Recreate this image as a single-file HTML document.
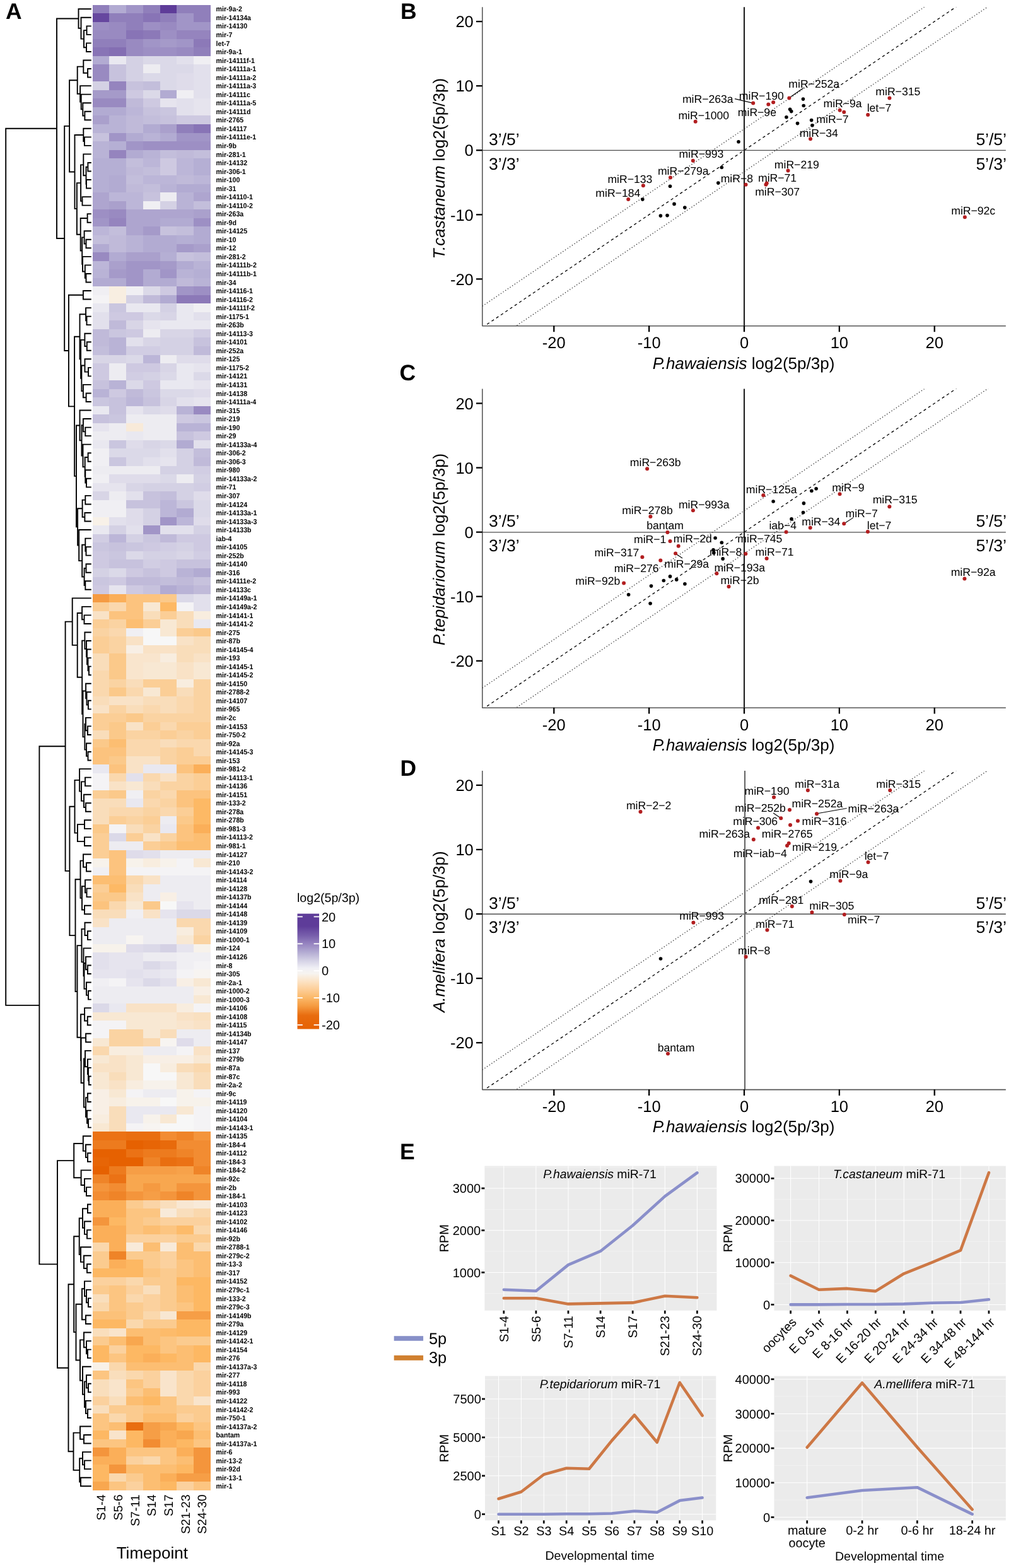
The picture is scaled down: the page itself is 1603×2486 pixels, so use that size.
<!DOCTYPE html>
<html><head><meta charset="utf-8"><title>Figure</title>
<style>html,body{margin:0;padding:0;background:#fff;} svg{display:block;}</style>
</head><body>
<svg width="1603" height="2486" viewBox="0 0 1603 2486" text-rendering="geometricPrecision">
<rect width="1603" height="2486" fill="#ffffff"/>
<g shape-rendering="crispEdges">
<rect x="146.80" y="7.50" width="26.99" height="13.84" fill="#907fbb"/>
<rect x="173.49" y="7.50" width="26.99" height="13.84" fill="#b2abd2"/>
<rect x="200.17" y="7.50" width="26.99" height="13.84" fill="#a195c7"/>
<rect x="226.86" y="7.50" width="26.99" height="13.84" fill="#907fbb"/>
<rect x="253.54" y="7.50" width="26.99" height="13.84" fill="#5e3c99"/>
<rect x="280.23" y="7.50" width="26.99" height="13.84" fill="#907fbb"/>
<rect x="306.91" y="7.50" width="26.99" height="13.84" fill="#907fbb"/>
<rect x="146.80" y="21.04" width="26.99" height="13.84" fill="#66479f"/>
<rect x="173.49" y="21.04" width="26.99" height="13.84" fill="#907fbb"/>
<rect x="200.17" y="21.04" width="26.99" height="13.84" fill="#907fbb"/>
<rect x="226.86" y="21.04" width="26.99" height="13.84" fill="#8874b6"/>
<rect x="253.54" y="21.04" width="26.99" height="13.84" fill="#907fbb"/>
<rect x="280.23" y="21.04" width="26.99" height="13.84" fill="#a195c7"/>
<rect x="306.91" y="21.04" width="26.99" height="13.84" fill="#907fbb"/>
<rect x="146.80" y="34.57" width="26.99" height="13.84" fill="#9d8fc4"/>
<rect x="173.49" y="34.57" width="26.99" height="13.84" fill="#998ac1"/>
<rect x="200.17" y="34.57" width="26.99" height="13.84" fill="#907fbb"/>
<rect x="226.86" y="34.57" width="26.99" height="13.84" fill="#9d8fc4"/>
<rect x="253.54" y="34.57" width="26.99" height="13.84" fill="#998ac1"/>
<rect x="280.23" y="34.57" width="26.99" height="13.84" fill="#a195c7"/>
<rect x="306.91" y="34.57" width="26.99" height="13.84" fill="#a195c7"/>
<rect x="146.80" y="48.11" width="26.99" height="13.84" fill="#998ac1"/>
<rect x="173.49" y="48.11" width="26.99" height="13.84" fill="#998ac1"/>
<rect x="200.17" y="48.11" width="26.99" height="13.84" fill="#8874b6"/>
<rect x="226.86" y="48.11" width="26.99" height="13.84" fill="#8c79b8"/>
<rect x="253.54" y="48.11" width="26.99" height="13.84" fill="#9d8fc4"/>
<rect x="280.23" y="48.11" width="26.99" height="13.84" fill="#9584be"/>
<rect x="306.91" y="48.11" width="26.99" height="13.84" fill="#9584be"/>
<rect x="146.80" y="61.65" width="26.99" height="13.84" fill="#907fbb"/>
<rect x="173.49" y="61.65" width="26.99" height="13.84" fill="#907fbb"/>
<rect x="200.17" y="61.65" width="26.99" height="13.84" fill="#998ac1"/>
<rect x="226.86" y="61.65" width="26.99" height="13.84" fill="#a195c7"/>
<rect x="253.54" y="61.65" width="26.99" height="13.84" fill="#a59ac9"/>
<rect x="280.23" y="61.65" width="26.99" height="13.84" fill="#a195c7"/>
<rect x="306.91" y="61.65" width="26.99" height="13.84" fill="#8c79b8"/>
<rect x="146.80" y="75.19" width="26.99" height="13.84" fill="#8874b6"/>
<rect x="173.49" y="75.19" width="26.99" height="13.84" fill="#846eb3"/>
<rect x="200.17" y="75.19" width="26.99" height="13.84" fill="#998ac1"/>
<rect x="226.86" y="75.19" width="26.99" height="13.84" fill="#9d8fc4"/>
<rect x="253.54" y="75.19" width="26.99" height="13.84" fill="#9d8fc4"/>
<rect x="280.23" y="75.19" width="26.99" height="13.84" fill="#998ac1"/>
<rect x="306.91" y="75.19" width="26.99" height="13.84" fill="#907fbb"/>
<rect x="146.80" y="88.72" width="26.99" height="13.84" fill="#b2abd2"/>
<rect x="173.49" y="88.72" width="26.99" height="13.84" fill="#e9e8f0"/>
<rect x="200.17" y="88.72" width="26.99" height="13.84" fill="#d4d1e4"/>
<rect x="226.86" y="88.72" width="26.99" height="13.84" fill="#dbd9e8"/>
<rect x="253.54" y="88.72" width="26.99" height="13.84" fill="#dbd9e8"/>
<rect x="280.23" y="88.72" width="26.99" height="13.84" fill="#e2e0ec"/>
<rect x="306.91" y="88.72" width="26.99" height="13.84" fill="#f0eff3"/>
<rect x="146.80" y="102.26" width="26.99" height="13.84" fill="#998ac1"/>
<rect x="173.49" y="102.26" width="26.99" height="13.84" fill="#c7c2dd"/>
<rect x="200.17" y="102.26" width="26.99" height="13.84" fill="#d4d1e4"/>
<rect x="226.86" y="102.26" width="26.99" height="13.84" fill="#edecf1"/>
<rect x="253.54" y="102.26" width="26.99" height="13.84" fill="#dbd9e8"/>
<rect x="280.23" y="102.26" width="26.99" height="13.84" fill="#dbd9e8"/>
<rect x="306.91" y="102.26" width="26.99" height="13.84" fill="#e2e0ec"/>
<rect x="146.80" y="115.80" width="26.99" height="13.84" fill="#998ac1"/>
<rect x="173.49" y="115.80" width="26.99" height="13.84" fill="#c7c2dd"/>
<rect x="200.17" y="115.80" width="26.99" height="13.84" fill="#d4d1e4"/>
<rect x="226.86" y="115.80" width="26.99" height="13.84" fill="#dbd9e8"/>
<rect x="253.54" y="115.80" width="26.99" height="13.84" fill="#dbd9e8"/>
<rect x="280.23" y="115.80" width="26.99" height="13.84" fill="#dfdcea"/>
<rect x="306.91" y="115.80" width="26.99" height="13.84" fill="#e2e0ec"/>
<rect x="146.80" y="129.34" width="26.99" height="13.84" fill="#d4d1e4"/>
<rect x="173.49" y="129.34" width="26.99" height="13.84" fill="#9584be"/>
<rect x="200.17" y="129.34" width="26.99" height="13.84" fill="#c7c2dd"/>
<rect x="226.86" y="129.34" width="26.99" height="13.84" fill="#c3bedb"/>
<rect x="253.54" y="129.34" width="26.99" height="13.84" fill="#dbd9e8"/>
<rect x="280.23" y="129.34" width="26.99" height="13.84" fill="#dfdcea"/>
<rect x="306.91" y="129.34" width="26.99" height="13.84" fill="#e2e0ec"/>
<rect x="146.80" y="142.87" width="26.99" height="13.84" fill="#a59ac9"/>
<rect x="173.49" y="142.87" width="26.99" height="13.84" fill="#a59ac9"/>
<rect x="200.17" y="142.87" width="26.99" height="13.84" fill="#cec9e1"/>
<rect x="226.86" y="142.87" width="26.99" height="13.84" fill="#dbd9e8"/>
<rect x="253.54" y="142.87" width="26.99" height="13.84" fill="#b2abd2"/>
<rect x="280.23" y="142.87" width="26.99" height="13.84" fill="#f0eff3"/>
<rect x="306.91" y="142.87" width="26.99" height="13.84" fill="#e2e0ec"/>
<rect x="146.80" y="156.41" width="26.99" height="13.84" fill="#998ac1"/>
<rect x="173.49" y="156.41" width="26.99" height="13.84" fill="#998ac1"/>
<rect x="200.17" y="156.41" width="26.99" height="13.84" fill="#c0bad9"/>
<rect x="226.86" y="156.41" width="26.99" height="13.84" fill="#cec9e1"/>
<rect x="253.54" y="156.41" width="26.99" height="13.84" fill="#e6e4ee"/>
<rect x="280.23" y="156.41" width="26.99" height="13.84" fill="#e2e0ec"/>
<rect x="306.91" y="156.41" width="26.99" height="13.84" fill="#e6e4ee"/>
<rect x="146.80" y="169.95" width="26.99" height="13.84" fill="#b2abd2"/>
<rect x="173.49" y="169.95" width="26.99" height="13.84" fill="#b2abd2"/>
<rect x="200.17" y="169.95" width="26.99" height="13.84" fill="#bcb6d8"/>
<rect x="226.86" y="169.95" width="26.99" height="13.84" fill="#c7c2dd"/>
<rect x="253.54" y="169.95" width="26.99" height="13.84" fill="#cac6df"/>
<rect x="280.23" y="169.95" width="26.99" height="13.84" fill="#e2e0ec"/>
<rect x="306.91" y="169.95" width="26.99" height="13.84" fill="#e6e4ee"/>
<rect x="146.80" y="183.49" width="26.99" height="13.84" fill="#aaa0cc"/>
<rect x="173.49" y="183.49" width="26.99" height="13.84" fill="#b9b3d6"/>
<rect x="200.17" y="183.49" width="26.99" height="13.84" fill="#c0bad9"/>
<rect x="226.86" y="183.49" width="26.99" height="13.84" fill="#c3bedb"/>
<rect x="253.54" y="183.49" width="26.99" height="13.84" fill="#c7c2dd"/>
<rect x="280.23" y="183.49" width="26.99" height="13.84" fill="#cec9e1"/>
<rect x="306.91" y="183.49" width="26.99" height="13.84" fill="#cec9e1"/>
<rect x="146.80" y="197.02" width="26.99" height="13.84" fill="#b9b3d6"/>
<rect x="173.49" y="197.02" width="26.99" height="13.84" fill="#b9b3d6"/>
<rect x="200.17" y="197.02" width="26.99" height="13.84" fill="#c0bad9"/>
<rect x="226.86" y="197.02" width="26.99" height="13.84" fill="#b2abd2"/>
<rect x="253.54" y="197.02" width="26.99" height="13.84" fill="#aaa0cc"/>
<rect x="280.23" y="197.02" width="26.99" height="13.84" fill="#907fbb"/>
<rect x="306.91" y="197.02" width="26.99" height="13.84" fill="#8874b6"/>
<rect x="146.80" y="210.56" width="26.99" height="13.84" fill="#c7c2dd"/>
<rect x="173.49" y="210.56" width="26.99" height="13.84" fill="#a195c7"/>
<rect x="200.17" y="210.56" width="26.99" height="13.84" fill="#b2abd2"/>
<rect x="226.86" y="210.56" width="26.99" height="13.84" fill="#b9b3d6"/>
<rect x="253.54" y="210.56" width="26.99" height="13.84" fill="#b2abd2"/>
<rect x="280.23" y="210.56" width="26.99" height="13.84" fill="#a195c7"/>
<rect x="306.91" y="210.56" width="26.99" height="13.84" fill="#a195c7"/>
<rect x="146.80" y="224.10" width="26.99" height="13.84" fill="#b9b3d6"/>
<rect x="173.49" y="224.10" width="26.99" height="13.84" fill="#b5afd4"/>
<rect x="200.17" y="224.10" width="26.99" height="13.84" fill="#a195c7"/>
<rect x="226.86" y="224.10" width="26.99" height="13.84" fill="#9d8fc4"/>
<rect x="253.54" y="224.10" width="26.99" height="13.84" fill="#9d8fc4"/>
<rect x="280.23" y="224.10" width="26.99" height="13.84" fill="#9d8fc4"/>
<rect x="306.91" y="224.10" width="26.99" height="13.84" fill="#9d8fc4"/>
<rect x="146.80" y="237.64" width="26.99" height="13.84" fill="#b9b3d6"/>
<rect x="173.49" y="237.64" width="26.99" height="13.84" fill="#9584be"/>
<rect x="200.17" y="237.64" width="26.99" height="13.84" fill="#b2abd2"/>
<rect x="226.86" y="237.64" width="26.99" height="13.84" fill="#b9b3d6"/>
<rect x="253.54" y="237.64" width="26.99" height="13.84" fill="#c3bedb"/>
<rect x="280.23" y="237.64" width="26.99" height="13.84" fill="#c0bad9"/>
<rect x="306.91" y="237.64" width="26.99" height="13.84" fill="#c3bedb"/>
<rect x="146.80" y="251.17" width="26.99" height="13.84" fill="#b5afd4"/>
<rect x="173.49" y="251.17" width="26.99" height="13.84" fill="#b5afd4"/>
<rect x="200.17" y="251.17" width="26.99" height="13.84" fill="#c3bedb"/>
<rect x="226.86" y="251.17" width="26.99" height="13.84" fill="#bcb6d8"/>
<rect x="253.54" y="251.17" width="26.99" height="13.84" fill="#cec9e1"/>
<rect x="280.23" y="251.17" width="26.99" height="13.84" fill="#bcb6d8"/>
<rect x="306.91" y="251.17" width="26.99" height="13.84" fill="#b5afd4"/>
<rect x="146.80" y="264.71" width="26.99" height="13.84" fill="#b5afd4"/>
<rect x="173.49" y="264.71" width="26.99" height="13.84" fill="#b5afd4"/>
<rect x="200.17" y="264.71" width="26.99" height="13.84" fill="#c0bad9"/>
<rect x="226.86" y="264.71" width="26.99" height="13.84" fill="#c3bedb"/>
<rect x="253.54" y="264.71" width="26.99" height="13.84" fill="#cec9e1"/>
<rect x="280.23" y="264.71" width="26.99" height="13.84" fill="#bcb6d8"/>
<rect x="306.91" y="264.71" width="26.99" height="13.84" fill="#b5afd4"/>
<rect x="146.80" y="278.25" width="26.99" height="13.84" fill="#b5afd4"/>
<rect x="173.49" y="278.25" width="26.99" height="13.84" fill="#b2abd2"/>
<rect x="200.17" y="278.25" width="26.99" height="13.84" fill="#c3bedb"/>
<rect x="226.86" y="278.25" width="26.99" height="13.84" fill="#bcb6d8"/>
<rect x="253.54" y="278.25" width="26.99" height="13.84" fill="#bcb6d8"/>
<rect x="280.23" y="278.25" width="26.99" height="13.84" fill="#c0bad9"/>
<rect x="306.91" y="278.25" width="26.99" height="13.84" fill="#bcb6d8"/>
<rect x="146.80" y="291.78" width="26.99" height="13.84" fill="#b5afd4"/>
<rect x="173.49" y="291.78" width="26.99" height="13.84" fill="#b2abd2"/>
<rect x="200.17" y="291.78" width="26.99" height="13.84" fill="#c0bad9"/>
<rect x="226.86" y="291.78" width="26.99" height="13.84" fill="#c3bedb"/>
<rect x="253.54" y="291.78" width="26.99" height="13.84" fill="#b9b3d6"/>
<rect x="280.23" y="291.78" width="26.99" height="13.84" fill="#b2abd2"/>
<rect x="306.91" y="291.78" width="26.99" height="13.84" fill="#b2abd2"/>
<rect x="146.80" y="305.32" width="26.99" height="13.84" fill="#aea5cf"/>
<rect x="173.49" y="305.32" width="26.99" height="13.84" fill="#bcb6d8"/>
<rect x="200.17" y="305.32" width="26.99" height="13.84" fill="#bcb6d8"/>
<rect x="226.86" y="305.32" width="26.99" height="13.84" fill="#c7c2dd"/>
<rect x="253.54" y="305.32" width="26.99" height="13.84" fill="#edecf1"/>
<rect x="280.23" y="305.32" width="26.99" height="13.84" fill="#b9b3d6"/>
<rect x="306.91" y="305.32" width="26.99" height="13.84" fill="#aea5cf"/>
<rect x="146.80" y="318.86" width="26.99" height="13.84" fill="#aea5cf"/>
<rect x="173.49" y="318.86" width="26.99" height="13.84" fill="#aaa0cc"/>
<rect x="200.17" y="318.86" width="26.99" height="13.84" fill="#bcb6d8"/>
<rect x="226.86" y="318.86" width="26.99" height="13.84" fill="#f0eff3"/>
<rect x="253.54" y="318.86" width="26.99" height="13.84" fill="#d4d1e4"/>
<rect x="280.23" y="318.86" width="26.99" height="13.84" fill="#b9b3d6"/>
<rect x="306.91" y="318.86" width="26.99" height="13.84" fill="#c3bedb"/>
<rect x="146.80" y="332.40" width="26.99" height="13.84" fill="#9d8fc4"/>
<rect x="173.49" y="332.40" width="26.99" height="13.84" fill="#998ac1"/>
<rect x="200.17" y="332.40" width="26.99" height="13.84" fill="#aea5cf"/>
<rect x="226.86" y="332.40" width="26.99" height="13.84" fill="#aea5cf"/>
<rect x="253.54" y="332.40" width="26.99" height="13.84" fill="#aea5cf"/>
<rect x="280.23" y="332.40" width="26.99" height="13.84" fill="#aea5cf"/>
<rect x="306.91" y="332.40" width="26.99" height="13.84" fill="#aaa0cc"/>
<rect x="146.80" y="345.93" width="26.99" height="13.84" fill="#a195c7"/>
<rect x="173.49" y="345.93" width="26.99" height="13.84" fill="#9584be"/>
<rect x="200.17" y="345.93" width="26.99" height="13.84" fill="#aea5cf"/>
<rect x="226.86" y="345.93" width="26.99" height="13.84" fill="#aea5cf"/>
<rect x="253.54" y="345.93" width="26.99" height="13.84" fill="#b2abd2"/>
<rect x="280.23" y="345.93" width="26.99" height="13.84" fill="#b2abd2"/>
<rect x="306.91" y="345.93" width="26.99" height="13.84" fill="#9d8fc4"/>
<rect x="146.80" y="359.47" width="26.99" height="13.84" fill="#bcb6d8"/>
<rect x="173.49" y="359.47" width="26.99" height="13.84" fill="#c3bedb"/>
<rect x="200.17" y="359.47" width="26.99" height="13.84" fill="#aea5cf"/>
<rect x="226.86" y="359.47" width="26.99" height="13.84" fill="#a59ac9"/>
<rect x="253.54" y="359.47" width="26.99" height="13.84" fill="#c7c2dd"/>
<rect x="280.23" y="359.47" width="26.99" height="13.84" fill="#c3bedb"/>
<rect x="306.91" y="359.47" width="26.99" height="13.84" fill="#b2abd2"/>
<rect x="146.80" y="373.01" width="26.99" height="13.84" fill="#c3bedb"/>
<rect x="173.49" y="373.01" width="26.99" height="13.84" fill="#c0bad9"/>
<rect x="200.17" y="373.01" width="26.99" height="13.84" fill="#b9b3d6"/>
<rect x="226.86" y="373.01" width="26.99" height="13.84" fill="#b2abd2"/>
<rect x="253.54" y="373.01" width="26.99" height="13.84" fill="#b2abd2"/>
<rect x="280.23" y="373.01" width="26.99" height="13.84" fill="#b5afd4"/>
<rect x="306.91" y="373.01" width="26.99" height="13.84" fill="#b2abd2"/>
<rect x="146.80" y="386.55" width="26.99" height="13.84" fill="#b2abd2"/>
<rect x="173.49" y="386.55" width="26.99" height="13.84" fill="#c0bad9"/>
<rect x="200.17" y="386.55" width="26.99" height="13.84" fill="#b9b3d6"/>
<rect x="226.86" y="386.55" width="26.99" height="13.84" fill="#b2abd2"/>
<rect x="253.54" y="386.55" width="26.99" height="13.84" fill="#b2abd2"/>
<rect x="280.23" y="386.55" width="26.99" height="13.84" fill="#a59ac9"/>
<rect x="306.91" y="386.55" width="26.99" height="13.84" fill="#aaa0cc"/>
<rect x="146.80" y="400.08" width="26.99" height="13.84" fill="#998ac1"/>
<rect x="173.49" y="400.08" width="26.99" height="13.84" fill="#b2abd2"/>
<rect x="200.17" y="400.08" width="26.99" height="13.84" fill="#aaa0cc"/>
<rect x="226.86" y="400.08" width="26.99" height="13.84" fill="#aaa0cc"/>
<rect x="253.54" y="400.08" width="26.99" height="13.84" fill="#b5afd4"/>
<rect x="280.23" y="400.08" width="26.99" height="13.84" fill="#c7c2dd"/>
<rect x="306.91" y="400.08" width="26.99" height="13.84" fill="#c3bedb"/>
<rect x="146.80" y="413.62" width="26.99" height="13.84" fill="#bcb6d8"/>
<rect x="173.49" y="413.62" width="26.99" height="13.84" fill="#aaa0cc"/>
<rect x="200.17" y="413.62" width="26.99" height="13.84" fill="#a195c7"/>
<rect x="226.86" y="413.62" width="26.99" height="13.84" fill="#a195c7"/>
<rect x="253.54" y="413.62" width="26.99" height="13.84" fill="#a59ac9"/>
<rect x="280.23" y="413.62" width="26.99" height="13.84" fill="#b2abd2"/>
<rect x="306.91" y="413.62" width="26.99" height="13.84" fill="#b9b3d6"/>
<rect x="146.80" y="427.16" width="26.99" height="13.84" fill="#b9b3d6"/>
<rect x="173.49" y="427.16" width="26.99" height="13.84" fill="#a59ac9"/>
<rect x="200.17" y="427.16" width="26.99" height="13.84" fill="#a195c7"/>
<rect x="226.86" y="427.16" width="26.99" height="13.84" fill="#b2abd2"/>
<rect x="253.54" y="427.16" width="26.99" height="13.84" fill="#a195c7"/>
<rect x="280.23" y="427.16" width="26.99" height="13.84" fill="#b9b3d6"/>
<rect x="306.91" y="427.16" width="26.99" height="13.84" fill="#b5afd4"/>
<rect x="146.80" y="440.70" width="26.99" height="13.84" fill="#b2abd2"/>
<rect x="173.49" y="440.70" width="26.99" height="13.84" fill="#b2abd2"/>
<rect x="200.17" y="440.70" width="26.99" height="13.84" fill="#a195c7"/>
<rect x="226.86" y="440.70" width="26.99" height="13.84" fill="#b2abd2"/>
<rect x="253.54" y="440.70" width="26.99" height="13.84" fill="#b2abd2"/>
<rect x="280.23" y="440.70" width="26.99" height="13.84" fill="#c0bad9"/>
<rect x="306.91" y="440.70" width="26.99" height="13.84" fill="#b9b3d6"/>
<rect x="146.80" y="454.23" width="26.99" height="13.84" fill="#f0eff3"/>
<rect x="173.49" y="454.23" width="26.99" height="13.84" fill="#f8eee1"/>
<rect x="200.17" y="454.23" width="26.99" height="13.84" fill="#f0eff3"/>
<rect x="226.86" y="454.23" width="26.99" height="13.84" fill="#dbd9e8"/>
<rect x="253.54" y="454.23" width="26.99" height="13.84" fill="#cec9e1"/>
<rect x="280.23" y="454.23" width="26.99" height="13.84" fill="#a195c7"/>
<rect x="306.91" y="454.23" width="26.99" height="13.84" fill="#9d8fc4"/>
<rect x="146.80" y="467.77" width="26.99" height="13.84" fill="#f4f3f5"/>
<rect x="173.49" y="467.77" width="26.99" height="13.84" fill="#f8eee1"/>
<rect x="200.17" y="467.77" width="26.99" height="13.84" fill="#d4d1e4"/>
<rect x="226.86" y="467.77" width="26.99" height="13.84" fill="#c0bad9"/>
<rect x="253.54" y="467.77" width="26.99" height="13.84" fill="#b2abd2"/>
<rect x="280.23" y="467.77" width="26.99" height="13.84" fill="#8c79b8"/>
<rect x="306.91" y="467.77" width="26.99" height="13.84" fill="#8c79b8"/>
<rect x="146.80" y="481.31" width="26.99" height="13.84" fill="#e9e8f0"/>
<rect x="173.49" y="481.31" width="26.99" height="13.84" fill="#cac6df"/>
<rect x="200.17" y="481.31" width="26.99" height="13.84" fill="#e9e8f0"/>
<rect x="226.86" y="481.31" width="26.99" height="13.84" fill="#e9e8f0"/>
<rect x="253.54" y="481.31" width="26.99" height="13.84" fill="#d4d1e4"/>
<rect x="280.23" y="481.31" width="26.99" height="13.84" fill="#e9e8f0"/>
<rect x="306.91" y="481.31" width="26.99" height="13.84" fill="#f0eff3"/>
<rect x="146.80" y="494.84" width="26.99" height="13.84" fill="#e2e0ec"/>
<rect x="173.49" y="494.84" width="26.99" height="13.84" fill="#cec9e1"/>
<rect x="200.17" y="494.84" width="26.99" height="13.84" fill="#cec9e1"/>
<rect x="226.86" y="494.84" width="26.99" height="13.84" fill="#dbd9e8"/>
<rect x="253.54" y="494.84" width="26.99" height="13.84" fill="#d8d5e6"/>
<rect x="280.23" y="494.84" width="26.99" height="13.84" fill="#e9e8f0"/>
<rect x="306.91" y="494.84" width="26.99" height="13.84" fill="#e2e0ec"/>
<rect x="146.80" y="508.38" width="26.99" height="13.84" fill="#e2e0ec"/>
<rect x="173.49" y="508.38" width="26.99" height="13.84" fill="#c0bad9"/>
<rect x="200.17" y="508.38" width="26.99" height="13.84" fill="#d8d5e6"/>
<rect x="226.86" y="508.38" width="26.99" height="13.84" fill="#e6e4ee"/>
<rect x="253.54" y="508.38" width="26.99" height="13.84" fill="#e9e8f0"/>
<rect x="280.23" y="508.38" width="26.99" height="13.84" fill="#e9e8f0"/>
<rect x="306.91" y="508.38" width="26.99" height="13.84" fill="#e9e8f0"/>
<rect x="146.80" y="521.92" width="26.99" height="13.84" fill="#c0bad9"/>
<rect x="173.49" y="521.92" width="26.99" height="13.84" fill="#cac6df"/>
<rect x="200.17" y="521.92" width="26.99" height="13.84" fill="#cec9e1"/>
<rect x="226.86" y="521.92" width="26.99" height="13.84" fill="#edecf1"/>
<rect x="253.54" y="521.92" width="26.99" height="13.84" fill="#d8d5e6"/>
<rect x="280.23" y="521.92" width="26.99" height="13.84" fill="#d8d5e6"/>
<rect x="306.91" y="521.92" width="26.99" height="13.84" fill="#d1cde3"/>
<rect x="146.80" y="535.46" width="26.99" height="13.84" fill="#c0bad9"/>
<rect x="173.49" y="535.46" width="26.99" height="13.84" fill="#b9b3d6"/>
<rect x="200.17" y="535.46" width="26.99" height="13.84" fill="#e2e0ec"/>
<rect x="226.86" y="535.46" width="26.99" height="13.84" fill="#d8d5e6"/>
<rect x="253.54" y="535.46" width="26.99" height="13.84" fill="#d4d1e4"/>
<rect x="280.23" y="535.46" width="26.99" height="13.84" fill="#d4d1e4"/>
<rect x="306.91" y="535.46" width="26.99" height="13.84" fill="#c7c2dd"/>
<rect x="146.80" y="548.99" width="26.99" height="13.84" fill="#c3bedb"/>
<rect x="173.49" y="548.99" width="26.99" height="13.84" fill="#b9b3d6"/>
<rect x="200.17" y="548.99" width="26.99" height="13.84" fill="#d1cde3"/>
<rect x="226.86" y="548.99" width="26.99" height="13.84" fill="#d1cde3"/>
<rect x="253.54" y="548.99" width="26.99" height="13.84" fill="#d4d1e4"/>
<rect x="280.23" y="548.99" width="26.99" height="13.84" fill="#d4d1e4"/>
<rect x="306.91" y="548.99" width="26.99" height="13.84" fill="#c0bad9"/>
<rect x="146.80" y="562.53" width="26.99" height="13.84" fill="#d8d5e6"/>
<rect x="173.49" y="562.53" width="26.99" height="13.84" fill="#d8d5e6"/>
<rect x="200.17" y="562.53" width="26.99" height="13.84" fill="#dbd9e8"/>
<rect x="226.86" y="562.53" width="26.99" height="13.84" fill="#bcb6d8"/>
<rect x="253.54" y="562.53" width="26.99" height="13.84" fill="#edecf1"/>
<rect x="280.23" y="562.53" width="26.99" height="13.84" fill="#dfdcea"/>
<rect x="306.91" y="562.53" width="26.99" height="13.84" fill="#dfdcea"/>
<rect x="146.80" y="576.07" width="26.99" height="13.84" fill="#cec9e1"/>
<rect x="173.49" y="576.07" width="26.99" height="13.84" fill="#edecf1"/>
<rect x="200.17" y="576.07" width="26.99" height="13.84" fill="#cec9e1"/>
<rect x="226.86" y="576.07" width="26.99" height="13.84" fill="#cec9e1"/>
<rect x="253.54" y="576.07" width="26.99" height="13.84" fill="#d8d5e6"/>
<rect x="280.23" y="576.07" width="26.99" height="13.84" fill="#e9e8f0"/>
<rect x="306.91" y="576.07" width="26.99" height="13.84" fill="#e6e4ee"/>
<rect x="146.80" y="589.61" width="26.99" height="13.84" fill="#cec9e1"/>
<rect x="173.49" y="589.61" width="26.99" height="13.84" fill="#edecf1"/>
<rect x="200.17" y="589.61" width="26.99" height="13.84" fill="#d1cde3"/>
<rect x="226.86" y="589.61" width="26.99" height="13.84" fill="#d4d1e4"/>
<rect x="253.54" y="589.61" width="26.99" height="13.84" fill="#dbd9e8"/>
<rect x="280.23" y="589.61" width="26.99" height="13.84" fill="#e9e8f0"/>
<rect x="306.91" y="589.61" width="26.99" height="13.84" fill="#dbd9e8"/>
<rect x="146.80" y="603.14" width="26.99" height="13.84" fill="#c7c2dd"/>
<rect x="173.49" y="603.14" width="26.99" height="13.84" fill="#b9b3d6"/>
<rect x="200.17" y="603.14" width="26.99" height="13.84" fill="#dbd9e8"/>
<rect x="226.86" y="603.14" width="26.99" height="13.84" fill="#cec9e1"/>
<rect x="253.54" y="603.14" width="26.99" height="13.84" fill="#e9e8f0"/>
<rect x="280.23" y="603.14" width="26.99" height="13.84" fill="#e9e8f0"/>
<rect x="306.91" y="603.14" width="26.99" height="13.84" fill="#e6e4ee"/>
<rect x="146.80" y="616.68" width="26.99" height="13.84" fill="#b9b3d6"/>
<rect x="173.49" y="616.68" width="26.99" height="13.84" fill="#cec9e1"/>
<rect x="200.17" y="616.68" width="26.99" height="13.84" fill="#c0bad9"/>
<rect x="226.86" y="616.68" width="26.99" height="13.84" fill="#cac6df"/>
<rect x="253.54" y="616.68" width="26.99" height="13.84" fill="#dbd9e8"/>
<rect x="280.23" y="616.68" width="26.99" height="13.84" fill="#dbd9e8"/>
<rect x="306.91" y="616.68" width="26.99" height="13.84" fill="#dfdcea"/>
<rect x="146.80" y="630.22" width="26.99" height="13.84" fill="#cac6df"/>
<rect x="173.49" y="630.22" width="26.99" height="13.84" fill="#c7c2dd"/>
<rect x="200.17" y="630.22" width="26.99" height="13.84" fill="#bcb6d8"/>
<rect x="226.86" y="630.22" width="26.99" height="13.84" fill="#c7c2dd"/>
<rect x="253.54" y="630.22" width="26.99" height="13.84" fill="#d8d5e6"/>
<rect x="280.23" y="630.22" width="26.99" height="13.84" fill="#e2e0ec"/>
<rect x="306.91" y="630.22" width="26.99" height="13.84" fill="#e6e4ee"/>
<rect x="146.80" y="643.76" width="26.99" height="13.84" fill="#e9e8f0"/>
<rect x="173.49" y="643.76" width="26.99" height="13.84" fill="#c7c2dd"/>
<rect x="200.17" y="643.76" width="26.99" height="13.84" fill="#e6e4ee"/>
<rect x="226.86" y="643.76" width="26.99" height="13.84" fill="#dbd9e8"/>
<rect x="253.54" y="643.76" width="26.99" height="13.84" fill="#dfdcea"/>
<rect x="280.23" y="643.76" width="26.99" height="13.84" fill="#b9b3d6"/>
<rect x="306.91" y="643.76" width="26.99" height="13.84" fill="#998ac1"/>
<rect x="146.80" y="657.29" width="26.99" height="13.84" fill="#c7c2dd"/>
<rect x="173.49" y="657.29" width="26.99" height="13.84" fill="#cac6df"/>
<rect x="200.17" y="657.29" width="26.99" height="13.84" fill="#edecf1"/>
<rect x="226.86" y="657.29" width="26.99" height="13.84" fill="#edecf1"/>
<rect x="253.54" y="657.29" width="26.99" height="13.84" fill="#edecf1"/>
<rect x="280.23" y="657.29" width="26.99" height="13.84" fill="#cec9e1"/>
<rect x="306.91" y="657.29" width="26.99" height="13.84" fill="#cac6df"/>
<rect x="146.80" y="670.83" width="26.99" height="13.84" fill="#e6e4ee"/>
<rect x="173.49" y="670.83" width="26.99" height="13.84" fill="#edecf1"/>
<rect x="200.17" y="670.83" width="26.99" height="13.84" fill="#f8ead9"/>
<rect x="226.86" y="670.83" width="26.99" height="13.84" fill="#edecf1"/>
<rect x="253.54" y="670.83" width="26.99" height="13.84" fill="#edecf1"/>
<rect x="280.23" y="670.83" width="26.99" height="13.84" fill="#b9b3d6"/>
<rect x="306.91" y="670.83" width="26.99" height="13.84" fill="#b9b3d6"/>
<rect x="146.80" y="684.37" width="26.99" height="13.84" fill="#edecf1"/>
<rect x="173.49" y="684.37" width="26.99" height="13.84" fill="#edecf1"/>
<rect x="200.17" y="684.37" width="26.99" height="13.84" fill="#e9e8f0"/>
<rect x="226.86" y="684.37" width="26.99" height="13.84" fill="#edecf1"/>
<rect x="253.54" y="684.37" width="26.99" height="13.84" fill="#edecf1"/>
<rect x="280.23" y="684.37" width="26.99" height="13.84" fill="#c7c2dd"/>
<rect x="306.91" y="684.37" width="26.99" height="13.84" fill="#cec9e1"/>
<rect x="146.80" y="697.91" width="26.99" height="13.84" fill="#e9e8f0"/>
<rect x="173.49" y="697.91" width="26.99" height="13.84" fill="#cac6df"/>
<rect x="200.17" y="697.91" width="26.99" height="13.84" fill="#dfdcea"/>
<rect x="226.86" y="697.91" width="26.99" height="13.84" fill="#d8d5e6"/>
<rect x="253.54" y="697.91" width="26.99" height="13.84" fill="#dbd9e8"/>
<rect x="280.23" y="697.91" width="26.99" height="13.84" fill="#b2abd2"/>
<rect x="306.91" y="697.91" width="26.99" height="13.84" fill="#e2e0ec"/>
<rect x="146.80" y="711.44" width="26.99" height="13.84" fill="#f0eff3"/>
<rect x="173.49" y="711.44" width="26.99" height="13.84" fill="#dbd9e8"/>
<rect x="200.17" y="711.44" width="26.99" height="13.84" fill="#dbd9e8"/>
<rect x="226.86" y="711.44" width="26.99" height="13.84" fill="#dbd9e8"/>
<rect x="253.54" y="711.44" width="26.99" height="13.84" fill="#e2e0ec"/>
<rect x="280.23" y="711.44" width="26.99" height="13.84" fill="#d4d1e4"/>
<rect x="306.91" y="711.44" width="26.99" height="13.84" fill="#c3bedb"/>
<rect x="146.80" y="724.98" width="26.99" height="13.84" fill="#f0eff3"/>
<rect x="173.49" y="724.98" width="26.99" height="13.84" fill="#cac6df"/>
<rect x="200.17" y="724.98" width="26.99" height="13.84" fill="#dbd9e8"/>
<rect x="226.86" y="724.98" width="26.99" height="13.84" fill="#e2e0ec"/>
<rect x="253.54" y="724.98" width="26.99" height="13.84" fill="#e6e4ee"/>
<rect x="280.23" y="724.98" width="26.99" height="13.84" fill="#d4d1e4"/>
<rect x="306.91" y="724.98" width="26.99" height="13.84" fill="#c0bad9"/>
<rect x="146.80" y="738.52" width="26.99" height="13.84" fill="#edecf1"/>
<rect x="173.49" y="738.52" width="26.99" height="13.84" fill="#edecf1"/>
<rect x="200.17" y="738.52" width="26.99" height="13.84" fill="#edecf1"/>
<rect x="226.86" y="738.52" width="26.99" height="13.84" fill="#edecf1"/>
<rect x="253.54" y="738.52" width="26.99" height="13.84" fill="#d4d1e4"/>
<rect x="280.23" y="738.52" width="26.99" height="13.84" fill="#d4d1e4"/>
<rect x="306.91" y="738.52" width="26.99" height="13.84" fill="#d1cde3"/>
<rect x="146.80" y="752.05" width="26.99" height="13.84" fill="#f0eff3"/>
<rect x="173.49" y="752.05" width="26.99" height="13.84" fill="#dfdcea"/>
<rect x="200.17" y="752.05" width="26.99" height="13.84" fill="#dfdcea"/>
<rect x="226.86" y="752.05" width="26.99" height="13.84" fill="#dfdcea"/>
<rect x="253.54" y="752.05" width="26.99" height="13.84" fill="#dbd9e8"/>
<rect x="280.23" y="752.05" width="26.99" height="13.84" fill="#edecf1"/>
<rect x="306.91" y="752.05" width="26.99" height="13.84" fill="#d4d1e4"/>
<rect x="146.80" y="765.59" width="26.99" height="13.84" fill="#e6e4ee"/>
<rect x="173.49" y="765.59" width="26.99" height="13.84" fill="#e6e4ee"/>
<rect x="200.17" y="765.59" width="26.99" height="13.84" fill="#d8d5e6"/>
<rect x="226.86" y="765.59" width="26.99" height="13.84" fill="#d4d1e4"/>
<rect x="253.54" y="765.59" width="26.99" height="13.84" fill="#d4d1e4"/>
<rect x="280.23" y="765.59" width="26.99" height="13.84" fill="#d4d1e4"/>
<rect x="306.91" y="765.59" width="26.99" height="13.84" fill="#d1cde3"/>
<rect x="146.80" y="779.13" width="26.99" height="13.84" fill="#d8d5e6"/>
<rect x="173.49" y="779.13" width="26.99" height="13.84" fill="#edecf1"/>
<rect x="200.17" y="779.13" width="26.99" height="13.84" fill="#e2e0ec"/>
<rect x="226.86" y="779.13" width="26.99" height="13.84" fill="#c7c2dd"/>
<rect x="253.54" y="779.13" width="26.99" height="13.84" fill="#c3bedb"/>
<rect x="280.23" y="779.13" width="26.99" height="13.84" fill="#d4d1e4"/>
<rect x="306.91" y="779.13" width="26.99" height="13.84" fill="#dfdcea"/>
<rect x="146.80" y="792.67" width="26.99" height="13.84" fill="#f0eff3"/>
<rect x="173.49" y="792.67" width="26.99" height="13.84" fill="#f0eff3"/>
<rect x="200.17" y="792.67" width="26.99" height="13.84" fill="#c7c2dd"/>
<rect x="226.86" y="792.67" width="26.99" height="13.84" fill="#c7c2dd"/>
<rect x="253.54" y="792.67" width="26.99" height="13.84" fill="#bcb6d8"/>
<rect x="280.23" y="792.67" width="26.99" height="13.84" fill="#cac6df"/>
<rect x="306.91" y="792.67" width="26.99" height="13.84" fill="#dbd9e8"/>
<rect x="146.80" y="806.20" width="26.99" height="13.84" fill="#f0eff3"/>
<rect x="173.49" y="806.20" width="26.99" height="13.84" fill="#f0eff3"/>
<rect x="200.17" y="806.20" width="26.99" height="13.84" fill="#dfdcea"/>
<rect x="226.86" y="806.20" width="26.99" height="13.84" fill="#d4d1e4"/>
<rect x="253.54" y="806.20" width="26.99" height="13.84" fill="#bcb6d8"/>
<rect x="280.23" y="806.20" width="26.99" height="13.84" fill="#b2abd2"/>
<rect x="306.91" y="806.20" width="26.99" height="13.84" fill="#dbd9e8"/>
<rect x="146.80" y="819.74" width="26.99" height="13.84" fill="#f8f1e8"/>
<rect x="173.49" y="819.74" width="26.99" height="13.84" fill="#e2e0ec"/>
<rect x="200.17" y="819.74" width="26.99" height="13.84" fill="#dfdcea"/>
<rect x="226.86" y="819.74" width="26.99" height="13.84" fill="#d4d1e4"/>
<rect x="253.54" y="819.74" width="26.99" height="13.84" fill="#a195c7"/>
<rect x="280.23" y="819.74" width="26.99" height="13.84" fill="#bcb6d8"/>
<rect x="306.91" y="819.74" width="26.99" height="13.84" fill="#dfdcea"/>
<rect x="146.80" y="833.28" width="26.99" height="13.84" fill="#e9e8f0"/>
<rect x="173.49" y="833.28" width="26.99" height="13.84" fill="#d4d1e4"/>
<rect x="200.17" y="833.28" width="26.99" height="13.84" fill="#e2e0ec"/>
<rect x="226.86" y="833.28" width="26.99" height="13.84" fill="#a195c7"/>
<rect x="253.54" y="833.28" width="26.99" height="13.84" fill="#e2e0ec"/>
<rect x="280.23" y="833.28" width="26.99" height="13.84" fill="#e2e0ec"/>
<rect x="306.91" y="833.28" width="26.99" height="13.84" fill="#d4d1e4"/>
<rect x="146.80" y="846.82" width="26.99" height="13.84" fill="#d1cde3"/>
<rect x="173.49" y="846.82" width="26.99" height="13.84" fill="#bcb6d8"/>
<rect x="200.17" y="846.82" width="26.99" height="13.84" fill="#d4d1e4"/>
<rect x="226.86" y="846.82" width="26.99" height="13.84" fill="#cac6df"/>
<rect x="253.54" y="846.82" width="26.99" height="13.84" fill="#c0bad9"/>
<rect x="280.23" y="846.82" width="26.99" height="13.84" fill="#cec9e1"/>
<rect x="306.91" y="846.82" width="26.99" height="13.84" fill="#cec9e1"/>
<rect x="146.80" y="860.35" width="26.99" height="13.84" fill="#cac6df"/>
<rect x="173.49" y="860.35" width="26.99" height="13.84" fill="#c7c2dd"/>
<rect x="200.17" y="860.35" width="26.99" height="13.84" fill="#cac6df"/>
<rect x="226.86" y="860.35" width="26.99" height="13.84" fill="#cec9e1"/>
<rect x="253.54" y="860.35" width="26.99" height="13.84" fill="#d1cde3"/>
<rect x="280.23" y="860.35" width="26.99" height="13.84" fill="#d4d1e4"/>
<rect x="306.91" y="860.35" width="26.99" height="13.84" fill="#cec9e1"/>
<rect x="146.80" y="873.89" width="26.99" height="13.84" fill="#cec9e1"/>
<rect x="173.49" y="873.89" width="26.99" height="13.84" fill="#cac6df"/>
<rect x="200.17" y="873.89" width="26.99" height="13.84" fill="#dbd9e8"/>
<rect x="226.86" y="873.89" width="26.99" height="13.84" fill="#d4d1e4"/>
<rect x="253.54" y="873.89" width="26.99" height="13.84" fill="#d4d1e4"/>
<rect x="280.23" y="873.89" width="26.99" height="13.84" fill="#d8d5e6"/>
<rect x="306.91" y="873.89" width="26.99" height="13.84" fill="#d1cde3"/>
<rect x="146.80" y="887.43" width="26.99" height="13.84" fill="#cec9e1"/>
<rect x="173.49" y="887.43" width="26.99" height="13.84" fill="#c7c2dd"/>
<rect x="200.17" y="887.43" width="26.99" height="13.84" fill="#c7c2dd"/>
<rect x="226.86" y="887.43" width="26.99" height="13.84" fill="#d1cde3"/>
<rect x="253.54" y="887.43" width="26.99" height="13.84" fill="#cec9e1"/>
<rect x="280.23" y="887.43" width="26.99" height="13.84" fill="#c7c2dd"/>
<rect x="306.91" y="887.43" width="26.99" height="13.84" fill="#c7c2dd"/>
<rect x="146.80" y="900.97" width="26.99" height="13.84" fill="#d4d1e4"/>
<rect x="173.49" y="900.97" width="26.99" height="13.84" fill="#dbd9e8"/>
<rect x="200.17" y="900.97" width="26.99" height="13.84" fill="#cec9e1"/>
<rect x="226.86" y="900.97" width="26.99" height="13.84" fill="#c7c2dd"/>
<rect x="253.54" y="900.97" width="26.99" height="13.84" fill="#cec9e1"/>
<rect x="280.23" y="900.97" width="26.99" height="13.84" fill="#b9b3d6"/>
<rect x="306.91" y="900.97" width="26.99" height="13.84" fill="#b2abd2"/>
<rect x="146.80" y="914.50" width="26.99" height="13.84" fill="#cac6df"/>
<rect x="173.49" y="914.50" width="26.99" height="13.84" fill="#cec9e1"/>
<rect x="200.17" y="914.50" width="26.99" height="13.84" fill="#c0bad9"/>
<rect x="226.86" y="914.50" width="26.99" height="13.84" fill="#c0bad9"/>
<rect x="253.54" y="914.50" width="26.99" height="13.84" fill="#c3bedb"/>
<rect x="280.23" y="914.50" width="26.99" height="13.84" fill="#c0bad9"/>
<rect x="306.91" y="914.50" width="26.99" height="13.84" fill="#c7c2dd"/>
<rect x="146.80" y="928.04" width="26.99" height="13.84" fill="#cec9e1"/>
<rect x="173.49" y="928.04" width="26.99" height="13.84" fill="#e6e4ee"/>
<rect x="200.17" y="928.04" width="26.99" height="13.84" fill="#cec9e1"/>
<rect x="226.86" y="928.04" width="26.99" height="13.84" fill="#c7c2dd"/>
<rect x="253.54" y="928.04" width="26.99" height="13.84" fill="#b2abd2"/>
<rect x="280.23" y="928.04" width="26.99" height="13.84" fill="#b9b3d6"/>
<rect x="306.91" y="928.04" width="26.99" height="13.84" fill="#c0bad9"/>
<rect x="146.80" y="941.58" width="26.99" height="13.84" fill="#f59b43"/>
<rect x="173.49" y="941.58" width="26.99" height="13.84" fill="#fbaf59"/>
<rect x="200.17" y="941.58" width="26.99" height="13.84" fill="#fcc37e"/>
<rect x="226.86" y="941.58" width="26.99" height="13.84" fill="#fcc37e"/>
<rect x="253.54" y="941.58" width="26.99" height="13.84" fill="#fbc98a"/>
<rect x="280.23" y="941.58" width="26.99" height="13.84" fill="#dbd9e8"/>
<rect x="306.91" y="941.58" width="26.99" height="13.84" fill="#e2e0ec"/>
<rect x="146.80" y="955.11" width="26.99" height="13.84" fill="#fbce96"/>
<rect x="173.49" y="955.11" width="26.99" height="13.84" fill="#fad8ae"/>
<rect x="200.17" y="955.11" width="26.99" height="13.84" fill="#fcc37e"/>
<rect x="226.86" y="955.11" width="26.99" height="13.84" fill="#f8e8d3"/>
<rect x="253.54" y="955.11" width="26.99" height="13.84" fill="#fdb965"/>
<rect x="280.23" y="955.11" width="26.99" height="13.84" fill="#f4f3f5"/>
<rect x="306.91" y="955.11" width="26.99" height="13.84" fill="#e2e0ec"/>
<rect x="146.80" y="968.65" width="26.99" height="13.84" fill="#f9e2c6"/>
<rect x="173.49" y="968.65" width="26.99" height="13.84" fill="#fcc37e"/>
<rect x="200.17" y="968.65" width="26.99" height="13.84" fill="#fcc37e"/>
<rect x="226.86" y="968.65" width="26.99" height="13.84" fill="#f9ddba"/>
<rect x="253.54" y="968.65" width="26.99" height="13.84" fill="#fbce96"/>
<rect x="280.23" y="968.65" width="26.99" height="13.84" fill="#f9ddba"/>
<rect x="306.91" y="968.65" width="26.99" height="13.84" fill="#f8eddf"/>
<rect x="146.80" y="982.19" width="26.99" height="13.84" fill="#fbce96"/>
<rect x="173.49" y="982.19" width="26.99" height="13.84" fill="#fad3a2"/>
<rect x="200.17" y="982.19" width="26.99" height="13.84" fill="#fcbe72"/>
<rect x="226.86" y="982.19" width="26.99" height="13.84" fill="#fbce96"/>
<rect x="253.54" y="982.19" width="26.99" height="13.84" fill="#f8e8d3"/>
<rect x="280.23" y="982.19" width="26.99" height="13.84" fill="#f9ddba"/>
<rect x="306.91" y="982.19" width="26.99" height="13.84" fill="#e9e8f0"/>
<rect x="146.80" y="995.73" width="26.99" height="13.84" fill="#fad3a2"/>
<rect x="173.49" y="995.73" width="26.99" height="13.84" fill="#fad8ae"/>
<rect x="200.17" y="995.73" width="26.99" height="13.84" fill="#f0eff3"/>
<rect x="226.86" y="995.73" width="26.99" height="13.84" fill="#f7f7f7"/>
<rect x="253.54" y="995.73" width="26.99" height="13.84" fill="#f8e8d3"/>
<rect x="280.23" y="995.73" width="26.99" height="13.84" fill="#fbce96"/>
<rect x="306.91" y="995.73" width="26.99" height="13.84" fill="#fbc98a"/>
<rect x="146.80" y="1009.26" width="26.99" height="13.84" fill="#fbce96"/>
<rect x="173.49" y="1009.26" width="26.99" height="13.84" fill="#fad3a2"/>
<rect x="200.17" y="1009.26" width="26.99" height="13.84" fill="#f9e2c6"/>
<rect x="226.86" y="1009.26" width="26.99" height="13.84" fill="#f7f7f7"/>
<rect x="253.54" y="1009.26" width="26.99" height="13.84" fill="#f7f7f7"/>
<rect x="280.23" y="1009.26" width="26.99" height="13.84" fill="#f9e2c6"/>
<rect x="306.91" y="1009.26" width="26.99" height="13.84" fill="#f9ddba"/>
<rect x="146.80" y="1022.80" width="26.99" height="13.84" fill="#fbce96"/>
<rect x="173.49" y="1022.80" width="26.99" height="13.84" fill="#fad3a2"/>
<rect x="200.17" y="1022.80" width="26.99" height="13.84" fill="#f8efe5"/>
<rect x="226.86" y="1022.80" width="26.99" height="13.84" fill="#f9e2c6"/>
<rect x="253.54" y="1022.80" width="26.99" height="13.84" fill="#f9e2c6"/>
<rect x="280.23" y="1022.80" width="26.99" height="13.84" fill="#f9ddba"/>
<rect x="306.91" y="1022.80" width="26.99" height="13.84" fill="#f9ddba"/>
<rect x="146.80" y="1036.34" width="26.99" height="13.84" fill="#f9ddba"/>
<rect x="173.49" y="1036.34" width="26.99" height="13.84" fill="#fbc98a"/>
<rect x="200.17" y="1036.34" width="26.99" height="13.84" fill="#f9e5cd"/>
<rect x="226.86" y="1036.34" width="26.99" height="13.84" fill="#f9e5cd"/>
<rect x="253.54" y="1036.34" width="26.99" height="13.84" fill="#f8eddf"/>
<rect x="280.23" y="1036.34" width="26.99" height="13.84" fill="#f9ddba"/>
<rect x="306.91" y="1036.34" width="26.99" height="13.84" fill="#f9e2c6"/>
<rect x="146.80" y="1049.88" width="26.99" height="13.84" fill="#f9ddba"/>
<rect x="173.49" y="1049.88" width="26.99" height="13.84" fill="#fbc98a"/>
<rect x="200.17" y="1049.88" width="26.99" height="13.84" fill="#f9e5cd"/>
<rect x="226.86" y="1049.88" width="26.99" height="13.84" fill="#f8e8d3"/>
<rect x="253.54" y="1049.88" width="26.99" height="13.84" fill="#f8e8d3"/>
<rect x="280.23" y="1049.88" width="26.99" height="13.84" fill="#f9e2c6"/>
<rect x="306.91" y="1049.88" width="26.99" height="13.84" fill="#f8e8d3"/>
<rect x="146.80" y="1063.41" width="26.99" height="13.84" fill="#fad8ae"/>
<rect x="173.49" y="1063.41" width="26.99" height="13.84" fill="#fbc98a"/>
<rect x="200.17" y="1063.41" width="26.99" height="13.84" fill="#f9e5cd"/>
<rect x="226.86" y="1063.41" width="26.99" height="13.84" fill="#f8e8d3"/>
<rect x="253.54" y="1063.41" width="26.99" height="13.84" fill="#f8e8d3"/>
<rect x="280.23" y="1063.41" width="26.99" height="13.84" fill="#f9e2c6"/>
<rect x="306.91" y="1063.41" width="26.99" height="13.84" fill="#f8e8d3"/>
<rect x="146.80" y="1076.95" width="26.99" height="13.84" fill="#fad8ae"/>
<rect x="173.49" y="1076.95" width="26.99" height="13.84" fill="#fad3a2"/>
<rect x="200.17" y="1076.95" width="26.99" height="13.84" fill="#f9ddba"/>
<rect x="226.86" y="1076.95" width="26.99" height="13.84" fill="#fbce96"/>
<rect x="253.54" y="1076.95" width="26.99" height="13.84" fill="#fbce96"/>
<rect x="280.23" y="1076.95" width="26.99" height="13.84" fill="#f8eddf"/>
<rect x="306.91" y="1076.95" width="26.99" height="13.84" fill="#fad3a2"/>
<rect x="146.80" y="1090.49" width="26.99" height="13.84" fill="#fad8ae"/>
<rect x="173.49" y="1090.49" width="26.99" height="13.84" fill="#fbc98a"/>
<rect x="200.17" y="1090.49" width="26.99" height="13.84" fill="#fad8ae"/>
<rect x="226.86" y="1090.49" width="26.99" height="13.84" fill="#f8e8d3"/>
<rect x="253.54" y="1090.49" width="26.99" height="13.84" fill="#fbce96"/>
<rect x="280.23" y="1090.49" width="26.99" height="13.84" fill="#f9ddba"/>
<rect x="306.91" y="1090.49" width="26.99" height="13.84" fill="#fad3a2"/>
<rect x="146.80" y="1104.03" width="26.99" height="13.84" fill="#f9ddba"/>
<rect x="173.49" y="1104.03" width="26.99" height="13.84" fill="#f9e2c6"/>
<rect x="200.17" y="1104.03" width="26.99" height="13.84" fill="#f9e2c6"/>
<rect x="226.86" y="1104.03" width="26.99" height="13.84" fill="#f9ddba"/>
<rect x="253.54" y="1104.03" width="26.99" height="13.84" fill="#f9ddba"/>
<rect x="280.23" y="1104.03" width="26.99" height="13.84" fill="#fad8ae"/>
<rect x="306.91" y="1104.03" width="26.99" height="13.84" fill="#fad3a2"/>
<rect x="146.80" y="1117.56" width="26.99" height="13.84" fill="#f9e2c6"/>
<rect x="173.49" y="1117.56" width="26.99" height="13.84" fill="#fad3a2"/>
<rect x="200.17" y="1117.56" width="26.99" height="13.84" fill="#f9ddba"/>
<rect x="226.86" y="1117.56" width="26.99" height="13.84" fill="#fad8ae"/>
<rect x="253.54" y="1117.56" width="26.99" height="13.84" fill="#f9ddba"/>
<rect x="280.23" y="1117.56" width="26.99" height="13.84" fill="#fad8ae"/>
<rect x="306.91" y="1117.56" width="26.99" height="13.84" fill="#fad3a2"/>
<rect x="146.80" y="1131.10" width="26.99" height="13.84" fill="#fbce96"/>
<rect x="173.49" y="1131.10" width="26.99" height="13.84" fill="#fbce96"/>
<rect x="200.17" y="1131.10" width="26.99" height="13.84" fill="#fbc98a"/>
<rect x="226.86" y="1131.10" width="26.99" height="13.84" fill="#fad3a2"/>
<rect x="253.54" y="1131.10" width="26.99" height="13.84" fill="#fad3a2"/>
<rect x="280.23" y="1131.10" width="26.99" height="13.84" fill="#fad3a2"/>
<rect x="306.91" y="1131.10" width="26.99" height="13.84" fill="#fad3a2"/>
<rect x="146.80" y="1144.64" width="26.99" height="13.84" fill="#fbce96"/>
<rect x="173.49" y="1144.64" width="26.99" height="13.84" fill="#fbc98a"/>
<rect x="200.17" y="1144.64" width="26.99" height="13.84" fill="#f9e2c6"/>
<rect x="226.86" y="1144.64" width="26.99" height="13.84" fill="#fbce96"/>
<rect x="253.54" y="1144.64" width="26.99" height="13.84" fill="#fad8ae"/>
<rect x="280.23" y="1144.64" width="26.99" height="13.84" fill="#fbce96"/>
<rect x="306.91" y="1144.64" width="26.99" height="13.84" fill="#fbce96"/>
<rect x="146.80" y="1158.18" width="26.99" height="13.84" fill="#f9ddba"/>
<rect x="173.49" y="1158.18" width="26.99" height="13.84" fill="#fbc98a"/>
<rect x="200.17" y="1158.18" width="26.99" height="13.84" fill="#fad3a2"/>
<rect x="226.86" y="1158.18" width="26.99" height="13.84" fill="#fad3a2"/>
<rect x="253.54" y="1158.18" width="26.99" height="13.84" fill="#fbce96"/>
<rect x="280.23" y="1158.18" width="26.99" height="13.84" fill="#fad3a2"/>
<rect x="306.91" y="1158.18" width="26.99" height="13.84" fill="#fbce96"/>
<rect x="146.80" y="1171.71" width="26.99" height="13.84" fill="#fbc98a"/>
<rect x="173.49" y="1171.71" width="26.99" height="13.84" fill="#fcbe72"/>
<rect x="200.17" y="1171.71" width="26.99" height="13.84" fill="#fad8ae"/>
<rect x="226.86" y="1171.71" width="26.99" height="13.84" fill="#fad8ae"/>
<rect x="253.54" y="1171.71" width="26.99" height="13.84" fill="#f9ddba"/>
<rect x="280.23" y="1171.71" width="26.99" height="13.84" fill="#fad8ae"/>
<rect x="306.91" y="1171.71" width="26.99" height="13.84" fill="#fad8ae"/>
<rect x="146.80" y="1185.25" width="26.99" height="13.84" fill="#fcc37e"/>
<rect x="173.49" y="1185.25" width="26.99" height="13.84" fill="#fcc37e"/>
<rect x="200.17" y="1185.25" width="26.99" height="13.84" fill="#fad8ae"/>
<rect x="226.86" y="1185.25" width="26.99" height="13.84" fill="#fad8ae"/>
<rect x="253.54" y="1185.25" width="26.99" height="13.84" fill="#fad3a2"/>
<rect x="280.23" y="1185.25" width="26.99" height="13.84" fill="#fbce96"/>
<rect x="306.91" y="1185.25" width="26.99" height="13.84" fill="#fad8ae"/>
<rect x="146.80" y="1198.79" width="26.99" height="13.84" fill="#fcc37e"/>
<rect x="173.49" y="1198.79" width="26.99" height="13.84" fill="#fbc98a"/>
<rect x="200.17" y="1198.79" width="26.99" height="13.84" fill="#f9e2c6"/>
<rect x="226.86" y="1198.79" width="26.99" height="13.84" fill="#f9e2c6"/>
<rect x="253.54" y="1198.79" width="26.99" height="13.84" fill="#fad3a2"/>
<rect x="280.23" y="1198.79" width="26.99" height="13.84" fill="#fbce96"/>
<rect x="306.91" y="1198.79" width="26.99" height="13.84" fill="#fbce96"/>
<rect x="146.80" y="1212.32" width="26.99" height="13.84" fill="#e9e8f0"/>
<rect x="173.49" y="1212.32" width="26.99" height="13.84" fill="#fcc37e"/>
<rect x="200.17" y="1212.32" width="26.99" height="13.84" fill="#f9e2c6"/>
<rect x="226.86" y="1212.32" width="26.99" height="13.84" fill="#e9e8f0"/>
<rect x="253.54" y="1212.32" width="26.99" height="13.84" fill="#e9e8f0"/>
<rect x="280.23" y="1212.32" width="26.99" height="13.84" fill="#fcc37e"/>
<rect x="306.91" y="1212.32" width="26.99" height="13.84" fill="#fbaf59"/>
<rect x="146.80" y="1225.86" width="26.99" height="13.84" fill="#f4f3f5"/>
<rect x="173.49" y="1225.86" width="26.99" height="13.84" fill="#fad8ae"/>
<rect x="200.17" y="1225.86" width="26.99" height="13.84" fill="#e2e0ec"/>
<rect x="226.86" y="1225.86" width="26.99" height="13.84" fill="#fad8ae"/>
<rect x="253.54" y="1225.86" width="26.99" height="13.84" fill="#f9e2c6"/>
<rect x="280.23" y="1225.86" width="26.99" height="13.84" fill="#fad3a2"/>
<rect x="306.91" y="1225.86" width="26.99" height="13.84" fill="#fbce96"/>
<rect x="146.80" y="1239.40" width="26.99" height="13.84" fill="#f4f3f5"/>
<rect x="173.49" y="1239.40" width="26.99" height="13.84" fill="#f9e2c6"/>
<rect x="200.17" y="1239.40" width="26.99" height="13.84" fill="#f8e8d3"/>
<rect x="226.86" y="1239.40" width="26.99" height="13.84" fill="#f9ddba"/>
<rect x="253.54" y="1239.40" width="26.99" height="13.84" fill="#fad3a2"/>
<rect x="280.23" y="1239.40" width="26.99" height="13.84" fill="#fad3a2"/>
<rect x="306.91" y="1239.40" width="26.99" height="13.84" fill="#fbce96"/>
<rect x="146.80" y="1252.94" width="26.99" height="13.84" fill="#fbce96"/>
<rect x="173.49" y="1252.94" width="26.99" height="13.84" fill="#fbc98a"/>
<rect x="200.17" y="1252.94" width="26.99" height="13.84" fill="#f0eff3"/>
<rect x="226.86" y="1252.94" width="26.99" height="13.84" fill="#fad3a2"/>
<rect x="253.54" y="1252.94" width="26.99" height="13.84" fill="#fad8ae"/>
<rect x="280.23" y="1252.94" width="26.99" height="13.84" fill="#fcc37e"/>
<rect x="306.91" y="1252.94" width="26.99" height="13.84" fill="#fcc37e"/>
<rect x="146.80" y="1266.47" width="26.99" height="13.84" fill="#f9ddba"/>
<rect x="173.49" y="1266.47" width="26.99" height="13.84" fill="#f9ddba"/>
<rect x="200.17" y="1266.47" width="26.99" height="13.84" fill="#e9e8f0"/>
<rect x="226.86" y="1266.47" width="26.99" height="13.84" fill="#fad8ae"/>
<rect x="253.54" y="1266.47" width="26.99" height="13.84" fill="#fad3a2"/>
<rect x="280.23" y="1266.47" width="26.99" height="13.84" fill="#fcc37e"/>
<rect x="306.91" y="1266.47" width="26.99" height="13.84" fill="#fdb965"/>
<rect x="146.80" y="1280.01" width="26.99" height="13.84" fill="#f9ddba"/>
<rect x="173.49" y="1280.01" width="26.99" height="13.84" fill="#fad8ae"/>
<rect x="200.17" y="1280.01" width="26.99" height="13.84" fill="#fad8ae"/>
<rect x="226.86" y="1280.01" width="26.99" height="13.84" fill="#fad3a2"/>
<rect x="253.54" y="1280.01" width="26.99" height="13.84" fill="#fad8ae"/>
<rect x="280.23" y="1280.01" width="26.99" height="13.84" fill="#fbce96"/>
<rect x="306.91" y="1280.01" width="26.99" height="13.84" fill="#fdb965"/>
<rect x="146.80" y="1293.55" width="26.99" height="13.84" fill="#f9ddba"/>
<rect x="173.49" y="1293.55" width="26.99" height="13.84" fill="#fbce96"/>
<rect x="200.17" y="1293.55" width="26.99" height="13.84" fill="#fad3a2"/>
<rect x="226.86" y="1293.55" width="26.99" height="13.84" fill="#fbce96"/>
<rect x="253.54" y="1293.55" width="26.99" height="13.84" fill="#edecf1"/>
<rect x="280.23" y="1293.55" width="26.99" height="13.84" fill="#fbc98a"/>
<rect x="306.91" y="1293.55" width="26.99" height="13.84" fill="#fdb965"/>
<rect x="146.80" y="1307.09" width="26.99" height="13.84" fill="#fbc98a"/>
<rect x="173.49" y="1307.09" width="26.99" height="13.84" fill="#f4f3f5"/>
<rect x="200.17" y="1307.09" width="26.99" height="13.84" fill="#f9ddba"/>
<rect x="226.86" y="1307.09" width="26.99" height="13.84" fill="#fad3a2"/>
<rect x="253.54" y="1307.09" width="26.99" height="13.84" fill="#e9e8f0"/>
<rect x="280.23" y="1307.09" width="26.99" height="13.84" fill="#fcc37e"/>
<rect x="306.91" y="1307.09" width="26.99" height="13.84" fill="#fbaf59"/>
<rect x="146.80" y="1320.62" width="26.99" height="13.84" fill="#fbce96"/>
<rect x="173.49" y="1320.62" width="26.99" height="13.84" fill="#dbd9e8"/>
<rect x="200.17" y="1320.62" width="26.99" height="13.84" fill="#fbce96"/>
<rect x="226.86" y="1320.62" width="26.99" height="13.84" fill="#f9e2c6"/>
<rect x="253.54" y="1320.62" width="26.99" height="13.84" fill="#fad3a2"/>
<rect x="280.23" y="1320.62" width="26.99" height="13.84" fill="#fcc37e"/>
<rect x="306.91" y="1320.62" width="26.99" height="13.84" fill="#fcbe72"/>
<rect x="146.80" y="1334.16" width="26.99" height="13.84" fill="#fbce96"/>
<rect x="173.49" y="1334.16" width="26.99" height="13.84" fill="#edecf1"/>
<rect x="200.17" y="1334.16" width="26.99" height="13.84" fill="#edecf1"/>
<rect x="226.86" y="1334.16" width="26.99" height="13.84" fill="#fbce96"/>
<rect x="253.54" y="1334.16" width="26.99" height="13.84" fill="#fbc98a"/>
<rect x="280.23" y="1334.16" width="26.99" height="13.84" fill="#fcbe72"/>
<rect x="306.91" y="1334.16" width="26.99" height="13.84" fill="#fcbe72"/>
<rect x="146.80" y="1347.70" width="26.99" height="13.84" fill="#fbce96"/>
<rect x="173.49" y="1347.70" width="26.99" height="13.84" fill="#fcc37e"/>
<rect x="200.17" y="1347.70" width="26.99" height="13.84" fill="#dfdcea"/>
<rect x="226.86" y="1347.70" width="26.99" height="13.84" fill="#e2e0ec"/>
<rect x="253.54" y="1347.70" width="26.99" height="13.84" fill="#edecf1"/>
<rect x="280.23" y="1347.70" width="26.99" height="13.84" fill="#edecf1"/>
<rect x="306.91" y="1347.70" width="26.99" height="13.84" fill="#edecf1"/>
<rect x="146.80" y="1361.24" width="26.99" height="13.84" fill="#f7f2eb"/>
<rect x="173.49" y="1361.24" width="26.99" height="13.84" fill="#fcc37e"/>
<rect x="200.17" y="1361.24" width="26.99" height="13.84" fill="#f7f2eb"/>
<rect x="226.86" y="1361.24" width="26.99" height="13.84" fill="#f8eddf"/>
<rect x="253.54" y="1361.24" width="26.99" height="13.84" fill="#f7f2eb"/>
<rect x="280.23" y="1361.24" width="26.99" height="13.84" fill="#f4f3f5"/>
<rect x="306.91" y="1361.24" width="26.99" height="13.84" fill="#f8e8d3"/>
<rect x="146.80" y="1374.77" width="26.99" height="13.84" fill="#f0eff3"/>
<rect x="173.49" y="1374.77" width="26.99" height="13.84" fill="#fcc37e"/>
<rect x="200.17" y="1374.77" width="26.99" height="13.84" fill="#f4f3f5"/>
<rect x="226.86" y="1374.77" width="26.99" height="13.84" fill="#f4f3f5"/>
<rect x="253.54" y="1374.77" width="26.99" height="13.84" fill="#f4f3f5"/>
<rect x="280.23" y="1374.77" width="26.99" height="13.84" fill="#f4f3f5"/>
<rect x="306.91" y="1374.77" width="26.99" height="13.84" fill="#f4f3f5"/>
<rect x="146.80" y="1388.31" width="26.99" height="13.84" fill="#fcbe72"/>
<rect x="173.49" y="1388.31" width="26.99" height="13.84" fill="#fcbe72"/>
<rect x="200.17" y="1388.31" width="26.99" height="13.84" fill="#fad8ae"/>
<rect x="226.86" y="1388.31" width="26.99" height="13.84" fill="#f9e2c6"/>
<rect x="253.54" y="1388.31" width="26.99" height="13.84" fill="#edecf1"/>
<rect x="280.23" y="1388.31" width="26.99" height="13.84" fill="#edecf1"/>
<rect x="306.91" y="1388.31" width="26.99" height="13.84" fill="#edecf1"/>
<rect x="146.80" y="1401.85" width="26.99" height="13.84" fill="#fbce96"/>
<rect x="173.49" y="1401.85" width="26.99" height="13.84" fill="#fdb965"/>
<rect x="200.17" y="1401.85" width="26.99" height="13.84" fill="#f9ddba"/>
<rect x="226.86" y="1401.85" width="26.99" height="13.84" fill="#edecf1"/>
<rect x="253.54" y="1401.85" width="26.99" height="13.84" fill="#edecf1"/>
<rect x="280.23" y="1401.85" width="26.99" height="13.84" fill="#edecf1"/>
<rect x="306.91" y="1401.85" width="26.99" height="13.84" fill="#edecf1"/>
<rect x="146.80" y="1415.39" width="26.99" height="13.84" fill="#fbc98a"/>
<rect x="173.49" y="1415.39" width="26.99" height="13.84" fill="#fbc98a"/>
<rect x="200.17" y="1415.39" width="26.99" height="13.84" fill="#f9e2c6"/>
<rect x="226.86" y="1415.39" width="26.99" height="13.84" fill="#edecf1"/>
<rect x="253.54" y="1415.39" width="26.99" height="13.84" fill="#f8efe5"/>
<rect x="280.23" y="1415.39" width="26.99" height="13.84" fill="#edecf1"/>
<rect x="306.91" y="1415.39" width="26.99" height="13.84" fill="#edecf1"/>
<rect x="146.80" y="1428.92" width="26.99" height="13.84" fill="#fcc37e"/>
<rect x="173.49" y="1428.92" width="26.99" height="13.84" fill="#fad8ae"/>
<rect x="200.17" y="1428.92" width="26.99" height="13.84" fill="#f8e8d3"/>
<rect x="226.86" y="1428.92" width="26.99" height="13.84" fill="#fbc98a"/>
<rect x="253.54" y="1428.92" width="26.99" height="13.84" fill="#f7f7f7"/>
<rect x="280.23" y="1428.92" width="26.99" height="13.84" fill="#e6e4ee"/>
<rect x="306.91" y="1428.92" width="26.99" height="13.84" fill="#edecf1"/>
<rect x="146.80" y="1442.46" width="26.99" height="13.84" fill="#f9ddba"/>
<rect x="173.49" y="1442.46" width="26.99" height="13.84" fill="#f9ddba"/>
<rect x="200.17" y="1442.46" width="26.99" height="13.84" fill="#f0eff3"/>
<rect x="226.86" y="1442.46" width="26.99" height="13.84" fill="#f9e2c6"/>
<rect x="253.54" y="1442.46" width="26.99" height="13.84" fill="#e6e4ee"/>
<rect x="280.23" y="1442.46" width="26.99" height="13.84" fill="#dbd9e8"/>
<rect x="306.91" y="1442.46" width="26.99" height="13.84" fill="#dbd9e8"/>
<rect x="146.80" y="1456.00" width="26.99" height="13.84" fill="#f9e2c6"/>
<rect x="173.49" y="1456.00" width="26.99" height="13.84" fill="#edecf1"/>
<rect x="200.17" y="1456.00" width="26.99" height="13.84" fill="#edecf1"/>
<rect x="226.86" y="1456.00" width="26.99" height="13.84" fill="#edecf1"/>
<rect x="253.54" y="1456.00" width="26.99" height="13.84" fill="#edecf1"/>
<rect x="280.23" y="1456.00" width="26.99" height="13.84" fill="#fad8ae"/>
<rect x="306.91" y="1456.00" width="26.99" height="13.84" fill="#fad8ae"/>
<rect x="146.80" y="1469.53" width="26.99" height="13.84" fill="#edecf1"/>
<rect x="173.49" y="1469.53" width="26.99" height="13.84" fill="#edecf1"/>
<rect x="200.17" y="1469.53" width="26.99" height="13.84" fill="#edecf1"/>
<rect x="226.86" y="1469.53" width="26.99" height="13.84" fill="#edecf1"/>
<rect x="253.54" y="1469.53" width="26.99" height="13.84" fill="#edecf1"/>
<rect x="280.23" y="1469.53" width="26.99" height="13.84" fill="#f8eddf"/>
<rect x="306.91" y="1469.53" width="26.99" height="13.84" fill="#fad8ae"/>
<rect x="146.80" y="1483.07" width="26.99" height="13.84" fill="#edecf1"/>
<rect x="173.49" y="1483.07" width="26.99" height="13.84" fill="#edecf1"/>
<rect x="200.17" y="1483.07" width="26.99" height="13.84" fill="#f7f4f1"/>
<rect x="226.86" y="1483.07" width="26.99" height="13.84" fill="#edecf1"/>
<rect x="253.54" y="1483.07" width="26.99" height="13.84" fill="#edecf1"/>
<rect x="280.23" y="1483.07" width="26.99" height="13.84" fill="#f8e8d3"/>
<rect x="306.91" y="1483.07" width="26.99" height="13.84" fill="#fad3a2"/>
<rect x="146.80" y="1496.61" width="26.99" height="13.84" fill="#f7f2eb"/>
<rect x="173.49" y="1496.61" width="26.99" height="13.84" fill="#f7f2eb"/>
<rect x="200.17" y="1496.61" width="26.99" height="13.84" fill="#dfdcea"/>
<rect x="226.86" y="1496.61" width="26.99" height="13.84" fill="#dbd9e8"/>
<rect x="253.54" y="1496.61" width="26.99" height="13.84" fill="#d4d1e4"/>
<rect x="280.23" y="1496.61" width="26.99" height="13.84" fill="#e6e4ee"/>
<rect x="306.91" y="1496.61" width="26.99" height="13.84" fill="#f7f2eb"/>
<rect x="146.80" y="1510.15" width="26.99" height="13.84" fill="#e2e0ec"/>
<rect x="173.49" y="1510.15" width="26.99" height="13.84" fill="#e6e4ee"/>
<rect x="200.17" y="1510.15" width="26.99" height="13.84" fill="#e6e4ee"/>
<rect x="226.86" y="1510.15" width="26.99" height="13.84" fill="#edecf1"/>
<rect x="253.54" y="1510.15" width="26.99" height="13.84" fill="#edecf1"/>
<rect x="280.23" y="1510.15" width="26.99" height="13.84" fill="#f0eff3"/>
<rect x="306.91" y="1510.15" width="26.99" height="13.84" fill="#f0eff3"/>
<rect x="146.80" y="1523.68" width="26.99" height="13.84" fill="#e2e0ec"/>
<rect x="173.49" y="1523.68" width="26.99" height="13.84" fill="#e6e4ee"/>
<rect x="200.17" y="1523.68" width="26.99" height="13.84" fill="#e6e4ee"/>
<rect x="226.86" y="1523.68" width="26.99" height="13.84" fill="#dbd9e8"/>
<rect x="253.54" y="1523.68" width="26.99" height="13.84" fill="#e2e0ec"/>
<rect x="280.23" y="1523.68" width="26.99" height="13.84" fill="#f0eff3"/>
<rect x="306.91" y="1523.68" width="26.99" height="13.84" fill="#f4f3f5"/>
<rect x="146.80" y="1537.22" width="26.99" height="13.84" fill="#e6e4ee"/>
<rect x="173.49" y="1537.22" width="26.99" height="13.84" fill="#e6e4ee"/>
<rect x="200.17" y="1537.22" width="26.99" height="13.84" fill="#e2e0ec"/>
<rect x="226.86" y="1537.22" width="26.99" height="13.84" fill="#e6e4ee"/>
<rect x="253.54" y="1537.22" width="26.99" height="13.84" fill="#e9e8f0"/>
<rect x="280.23" y="1537.22" width="26.99" height="13.84" fill="#f4f3f5"/>
<rect x="306.91" y="1537.22" width="26.99" height="13.84" fill="#f7f4f1"/>
<rect x="146.80" y="1550.76" width="26.99" height="13.84" fill="#f0eff3"/>
<rect x="173.49" y="1550.76" width="26.99" height="13.84" fill="#f4f3f5"/>
<rect x="200.17" y="1550.76" width="26.99" height="13.84" fill="#e6e4ee"/>
<rect x="226.86" y="1550.76" width="26.99" height="13.84" fill="#dbd9e8"/>
<rect x="253.54" y="1550.76" width="26.99" height="13.84" fill="#e2e0ec"/>
<rect x="280.23" y="1550.76" width="26.99" height="13.84" fill="#f8efe5"/>
<rect x="306.91" y="1550.76" width="26.99" height="13.84" fill="#f8e8d3"/>
<rect x="146.80" y="1564.30" width="26.99" height="13.84" fill="#edecf1"/>
<rect x="173.49" y="1564.30" width="26.99" height="13.84" fill="#edecf1"/>
<rect x="200.17" y="1564.30" width="26.99" height="13.84" fill="#edecf1"/>
<rect x="226.86" y="1564.30" width="26.99" height="13.84" fill="#edecf1"/>
<rect x="253.54" y="1564.30" width="26.99" height="13.84" fill="#edecf1"/>
<rect x="280.23" y="1564.30" width="26.99" height="13.84" fill="#edecf1"/>
<rect x="306.91" y="1564.30" width="26.99" height="13.84" fill="#f8efe5"/>
<rect x="146.80" y="1577.83" width="26.99" height="13.84" fill="#edecf1"/>
<rect x="173.49" y="1577.83" width="26.99" height="13.84" fill="#edecf1"/>
<rect x="200.17" y="1577.83" width="26.99" height="13.84" fill="#edecf1"/>
<rect x="226.86" y="1577.83" width="26.99" height="13.84" fill="#edecf1"/>
<rect x="253.54" y="1577.83" width="26.99" height="13.84" fill="#edecf1"/>
<rect x="280.23" y="1577.83" width="26.99" height="13.84" fill="#edecf1"/>
<rect x="306.91" y="1577.83" width="26.99" height="13.84" fill="#f8e8d3"/>
<rect x="146.80" y="1591.37" width="26.99" height="13.84" fill="#dbd9e8"/>
<rect x="173.49" y="1591.37" width="26.99" height="13.84" fill="#e9e8f0"/>
<rect x="200.17" y="1591.37" width="26.99" height="13.84" fill="#f9e2c6"/>
<rect x="226.86" y="1591.37" width="26.99" height="13.84" fill="#f9e2c6"/>
<rect x="253.54" y="1591.37" width="26.99" height="13.84" fill="#f9e2c6"/>
<rect x="280.23" y="1591.37" width="26.99" height="13.84" fill="#f8eddf"/>
<rect x="306.91" y="1591.37" width="26.99" height="13.84" fill="#f4f3f5"/>
<rect x="146.80" y="1604.91" width="26.99" height="13.84" fill="#f8e8d3"/>
<rect x="173.49" y="1604.91" width="26.99" height="13.84" fill="#f8e8d3"/>
<rect x="200.17" y="1604.91" width="26.99" height="13.84" fill="#f8e8d3"/>
<rect x="226.86" y="1604.91" width="26.99" height="13.84" fill="#f8e8d3"/>
<rect x="253.54" y="1604.91" width="26.99" height="13.84" fill="#f8e8d3"/>
<rect x="280.23" y="1604.91" width="26.99" height="13.84" fill="#f9e2c6"/>
<rect x="306.91" y="1604.91" width="26.99" height="13.84" fill="#f9e0c0"/>
<rect x="146.80" y="1618.45" width="26.99" height="13.84" fill="#f4f3f5"/>
<rect x="173.49" y="1618.45" width="26.99" height="13.84" fill="#f4f3f5"/>
<rect x="200.17" y="1618.45" width="26.99" height="13.84" fill="#f8e8d3"/>
<rect x="226.86" y="1618.45" width="26.99" height="13.84" fill="#f8e8d3"/>
<rect x="253.54" y="1618.45" width="26.99" height="13.84" fill="#f8e8d3"/>
<rect x="280.23" y="1618.45" width="26.99" height="13.84" fill="#f9e5cd"/>
<rect x="306.91" y="1618.45" width="26.99" height="13.84" fill="#f9e2c6"/>
<rect x="146.80" y="1631.98" width="26.99" height="13.84" fill="#f4f3f5"/>
<rect x="173.49" y="1631.98" width="26.99" height="13.84" fill="#fad3a2"/>
<rect x="200.17" y="1631.98" width="26.99" height="13.84" fill="#fad3a2"/>
<rect x="226.86" y="1631.98" width="26.99" height="13.84" fill="#f8e8d3"/>
<rect x="253.54" y="1631.98" width="26.99" height="13.84" fill="#f9ddba"/>
<rect x="280.23" y="1631.98" width="26.99" height="13.84" fill="#edecf1"/>
<rect x="306.91" y="1631.98" width="26.99" height="13.84" fill="#edecf1"/>
<rect x="146.80" y="1645.52" width="26.99" height="13.84" fill="#f8e8d3"/>
<rect x="173.49" y="1645.52" width="26.99" height="13.84" fill="#fad3a2"/>
<rect x="200.17" y="1645.52" width="26.99" height="13.84" fill="#fad3a2"/>
<rect x="226.86" y="1645.52" width="26.99" height="13.84" fill="#fad8ae"/>
<rect x="253.54" y="1645.52" width="26.99" height="13.84" fill="#f7f4f1"/>
<rect x="280.23" y="1645.52" width="26.99" height="13.84" fill="#dfdcea"/>
<rect x="306.91" y="1645.52" width="26.99" height="13.84" fill="#edecf1"/>
<rect x="146.80" y="1659.06" width="26.99" height="13.84" fill="#fad8ae"/>
<rect x="173.49" y="1659.06" width="26.99" height="13.84" fill="#f8eddf"/>
<rect x="200.17" y="1659.06" width="26.99" height="13.84" fill="#f8eddf"/>
<rect x="226.86" y="1659.06" width="26.99" height="13.84" fill="#edecf1"/>
<rect x="253.54" y="1659.06" width="26.99" height="13.84" fill="#edecf1"/>
<rect x="280.23" y="1659.06" width="26.99" height="13.84" fill="#f4f3f5"/>
<rect x="306.91" y="1659.06" width="26.99" height="13.84" fill="#f9e2c6"/>
<rect x="146.80" y="1672.59" width="26.99" height="13.84" fill="#f8e8d3"/>
<rect x="173.49" y="1672.59" width="26.99" height="13.84" fill="#f9e2c6"/>
<rect x="200.17" y="1672.59" width="26.99" height="13.84" fill="#f8e8d3"/>
<rect x="226.86" y="1672.59" width="26.99" height="13.84" fill="#f8efe5"/>
<rect x="253.54" y="1672.59" width="26.99" height="13.84" fill="#f8efe5"/>
<rect x="280.23" y="1672.59" width="26.99" height="13.84" fill="#f8efe5"/>
<rect x="306.91" y="1672.59" width="26.99" height="13.84" fill="#f8e8d3"/>
<rect x="146.80" y="1686.13" width="26.99" height="13.84" fill="#f9e2c6"/>
<rect x="173.49" y="1686.13" width="26.99" height="13.84" fill="#f9e2c6"/>
<rect x="200.17" y="1686.13" width="26.99" height="13.84" fill="#f8e8d3"/>
<rect x="226.86" y="1686.13" width="26.99" height="13.84" fill="#f7f7f7"/>
<rect x="253.54" y="1686.13" width="26.99" height="13.84" fill="#f8eddf"/>
<rect x="280.23" y="1686.13" width="26.99" height="13.84" fill="#f9ddba"/>
<rect x="306.91" y="1686.13" width="26.99" height="13.84" fill="#fad8ae"/>
<rect x="146.80" y="1699.67" width="26.99" height="13.84" fill="#f8e8d3"/>
<rect x="173.49" y="1699.67" width="26.99" height="13.84" fill="#f9ddba"/>
<rect x="200.17" y="1699.67" width="26.99" height="13.84" fill="#f8e8d3"/>
<rect x="226.86" y="1699.67" width="26.99" height="13.84" fill="#f7f7f7"/>
<rect x="253.54" y="1699.67" width="26.99" height="13.84" fill="#f7f7f7"/>
<rect x="280.23" y="1699.67" width="26.99" height="13.84" fill="#f8e8d3"/>
<rect x="306.91" y="1699.67" width="26.99" height="13.84" fill="#f9ddba"/>
<rect x="146.80" y="1713.21" width="26.99" height="13.84" fill="#f8e8d3"/>
<rect x="173.49" y="1713.21" width="26.99" height="13.84" fill="#f9e2c6"/>
<rect x="200.17" y="1713.21" width="26.99" height="13.84" fill="#f8eddf"/>
<rect x="226.86" y="1713.21" width="26.99" height="13.84" fill="#f7f2eb"/>
<rect x="253.54" y="1713.21" width="26.99" height="13.84" fill="#f7f2eb"/>
<rect x="280.23" y="1713.21" width="26.99" height="13.84" fill="#f8e8d3"/>
<rect x="306.91" y="1713.21" width="26.99" height="13.84" fill="#f9ddba"/>
<rect x="146.80" y="1726.74" width="26.99" height="13.84" fill="#f8efe5"/>
<rect x="173.49" y="1726.74" width="26.99" height="13.84" fill="#f8e8d3"/>
<rect x="200.17" y="1726.74" width="26.99" height="13.84" fill="#f4f3f5"/>
<rect x="226.86" y="1726.74" width="26.99" height="13.84" fill="#edecf1"/>
<rect x="253.54" y="1726.74" width="26.99" height="13.84" fill="#edecf1"/>
<rect x="280.23" y="1726.74" width="26.99" height="13.84" fill="#f7f2eb"/>
<rect x="306.91" y="1726.74" width="26.99" height="13.84" fill="#f4f3f5"/>
<rect x="146.80" y="1740.28" width="26.99" height="13.84" fill="#f8efe5"/>
<rect x="173.49" y="1740.28" width="26.99" height="13.84" fill="#f8eddf"/>
<rect x="200.17" y="1740.28" width="26.99" height="13.84" fill="#f7f2eb"/>
<rect x="226.86" y="1740.28" width="26.99" height="13.84" fill="#f7f2eb"/>
<rect x="253.54" y="1740.28" width="26.99" height="13.84" fill="#f7f7f7"/>
<rect x="280.23" y="1740.28" width="26.99" height="13.84" fill="#f7f2eb"/>
<rect x="306.91" y="1740.28" width="26.99" height="13.84" fill="#f7f2eb"/>
<rect x="146.80" y="1753.82" width="26.99" height="13.84" fill="#f8efe5"/>
<rect x="173.49" y="1753.82" width="26.99" height="13.84" fill="#f9ddba"/>
<rect x="200.17" y="1753.82" width="26.99" height="13.84" fill="#e9e8f0"/>
<rect x="226.86" y="1753.82" width="26.99" height="13.84" fill="#e9e8f0"/>
<rect x="253.54" y="1753.82" width="26.99" height="13.84" fill="#e9e8f0"/>
<rect x="280.23" y="1753.82" width="26.99" height="13.84" fill="#f8e8d3"/>
<rect x="306.91" y="1753.82" width="26.99" height="13.84" fill="#f4f3f5"/>
<rect x="146.80" y="1767.36" width="26.99" height="13.84" fill="#f8eddf"/>
<rect x="173.49" y="1767.36" width="26.99" height="13.84" fill="#f9ddba"/>
<rect x="200.17" y="1767.36" width="26.99" height="13.84" fill="#e9e8f0"/>
<rect x="226.86" y="1767.36" width="26.99" height="13.84" fill="#f7f2eb"/>
<rect x="253.54" y="1767.36" width="26.99" height="13.84" fill="#f8e8d3"/>
<rect x="280.23" y="1767.36" width="26.99" height="13.84" fill="#f7f7f7"/>
<rect x="306.91" y="1767.36" width="26.99" height="13.84" fill="#f4f3f5"/>
<rect x="146.80" y="1780.89" width="26.99" height="13.84" fill="#f8e8d3"/>
<rect x="173.49" y="1780.89" width="26.99" height="13.84" fill="#f9ddba"/>
<rect x="200.17" y="1780.89" width="26.99" height="13.84" fill="#f4f3f5"/>
<rect x="226.86" y="1780.89" width="26.99" height="13.84" fill="#f7f4f1"/>
<rect x="253.54" y="1780.89" width="26.99" height="13.84" fill="#f7f7f7"/>
<rect x="280.23" y="1780.89" width="26.99" height="13.84" fill="#f7f7f7"/>
<rect x="306.91" y="1780.89" width="26.99" height="13.84" fill="#f4f3f5"/>
<rect x="146.80" y="1794.43" width="26.99" height="13.84" fill="#eb7215"/>
<rect x="173.49" y="1794.43" width="26.99" height="13.84" fill="#eb7215"/>
<rect x="200.17" y="1794.43" width="26.99" height="13.84" fill="#e96e10"/>
<rect x="226.86" y="1794.43" width="26.99" height="13.84" fill="#e96e10"/>
<rect x="253.54" y="1794.43" width="26.99" height="13.84" fill="#f28c32"/>
<rect x="280.23" y="1794.43" width="26.99" height="13.84" fill="#ef8428"/>
<rect x="306.91" y="1794.43" width="26.99" height="13.84" fill="#f4953c"/>
<rect x="146.80" y="1807.97" width="26.99" height="13.84" fill="#ed7b1e"/>
<rect x="173.49" y="1807.97" width="26.99" height="13.84" fill="#ed7b1e"/>
<rect x="200.17" y="1807.97" width="26.99" height="13.84" fill="#e66101"/>
<rect x="226.86" y="1807.97" width="26.99" height="13.84" fill="#e76506"/>
<rect x="253.54" y="1807.97" width="26.99" height="13.84" fill="#e86a0b"/>
<rect x="280.23" y="1807.97" width="26.99" height="13.84" fill="#f28c32"/>
<rect x="306.91" y="1807.97" width="26.99" height="13.84" fill="#f28c32"/>
<rect x="146.80" y="1821.51" width="26.99" height="13.84" fill="#e66101"/>
<rect x="173.49" y="1821.51" width="26.99" height="13.84" fill="#e66101"/>
<rect x="200.17" y="1821.51" width="26.99" height="13.84" fill="#eb7215"/>
<rect x="226.86" y="1821.51" width="26.99" height="13.84" fill="#ed7b1e"/>
<rect x="253.54" y="1821.51" width="26.99" height="13.84" fill="#ed7b1e"/>
<rect x="280.23" y="1821.51" width="26.99" height="13.84" fill="#ef8428"/>
<rect x="306.91" y="1821.51" width="26.99" height="13.84" fill="#f28c32"/>
<rect x="146.80" y="1835.04" width="26.99" height="13.84" fill="#e76506"/>
<rect x="173.49" y="1835.04" width="26.99" height="13.84" fill="#e66101"/>
<rect x="200.17" y="1835.04" width="26.99" height="13.84" fill="#e66101"/>
<rect x="226.86" y="1835.04" width="26.99" height="13.84" fill="#ef8428"/>
<rect x="253.54" y="1835.04" width="26.99" height="13.84" fill="#e96e10"/>
<rect x="280.23" y="1835.04" width="26.99" height="13.84" fill="#eb7215"/>
<rect x="306.91" y="1835.04" width="26.99" height="13.84" fill="#f28c32"/>
<rect x="146.80" y="1848.58" width="26.99" height="13.84" fill="#e66101"/>
<rect x="173.49" y="1848.58" width="26.99" height="13.84" fill="#ed7b1e"/>
<rect x="200.17" y="1848.58" width="26.99" height="13.84" fill="#f69e46"/>
<rect x="226.86" y="1848.58" width="26.99" height="13.84" fill="#f69e46"/>
<rect x="253.54" y="1848.58" width="26.99" height="13.84" fill="#f69e46"/>
<rect x="280.23" y="1848.58" width="26.99" height="13.84" fill="#f7a24a"/>
<rect x="306.91" y="1848.58" width="26.99" height="13.84" fill="#ef8428"/>
<rect x="146.80" y="1862.12" width="26.99" height="13.84" fill="#ef8428"/>
<rect x="173.49" y="1862.12" width="26.99" height="13.84" fill="#eb7215"/>
<rect x="200.17" y="1862.12" width="26.99" height="13.84" fill="#f8a74f"/>
<rect x="226.86" y="1862.12" width="26.99" height="13.84" fill="#f8a74f"/>
<rect x="253.54" y="1862.12" width="26.99" height="13.84" fill="#f8a74f"/>
<rect x="280.23" y="1862.12" width="26.99" height="13.84" fill="#f8a74f"/>
<rect x="306.91" y="1862.12" width="26.99" height="13.84" fill="#f8a74f"/>
<rect x="146.80" y="1875.66" width="26.99" height="13.84" fill="#f4953c"/>
<rect x="173.49" y="1875.66" width="26.99" height="13.84" fill="#f28c32"/>
<rect x="200.17" y="1875.66" width="26.99" height="13.84" fill="#f8a74f"/>
<rect x="226.86" y="1875.66" width="26.99" height="13.84" fill="#f59a41"/>
<rect x="253.54" y="1875.66" width="26.99" height="13.84" fill="#f8a74f"/>
<rect x="280.23" y="1875.66" width="26.99" height="13.84" fill="#f4953c"/>
<rect x="306.91" y="1875.66" width="26.99" height="13.84" fill="#f4953c"/>
<rect x="146.80" y="1889.19" width="26.99" height="13.84" fill="#f28c32"/>
<rect x="173.49" y="1889.19" width="26.99" height="13.84" fill="#ef8428"/>
<rect x="200.17" y="1889.19" width="26.99" height="13.84" fill="#f4953c"/>
<rect x="226.86" y="1889.19" width="26.99" height="13.84" fill="#f69e46"/>
<rect x="253.54" y="1889.19" width="26.99" height="13.84" fill="#f4953c"/>
<rect x="280.23" y="1889.19" width="26.99" height="13.84" fill="#ef8428"/>
<rect x="306.91" y="1889.19" width="26.99" height="13.84" fill="#f4953c"/>
<rect x="146.80" y="1902.73" width="26.99" height="13.84" fill="#fbaf59"/>
<rect x="173.49" y="1902.73" width="26.99" height="13.84" fill="#fbaf59"/>
<rect x="200.17" y="1902.73" width="26.99" height="13.84" fill="#fbcb8f"/>
<rect x="226.86" y="1902.73" width="26.99" height="13.84" fill="#fad4a6"/>
<rect x="253.54" y="1902.73" width="26.99" height="13.84" fill="#f9debc"/>
<rect x="280.23" y="1902.73" width="26.99" height="13.84" fill="#f8e7d2"/>
<rect x="306.91" y="1902.73" width="26.99" height="13.84" fill="#f8ead9"/>
<rect x="146.80" y="1916.27" width="26.99" height="13.84" fill="#fbaf59"/>
<rect x="173.49" y="1916.27" width="26.99" height="13.84" fill="#fbaf59"/>
<rect x="200.17" y="1916.27" width="26.99" height="13.84" fill="#fcc581"/>
<rect x="226.86" y="1916.27" width="26.99" height="13.84" fill="#fcc581"/>
<rect x="253.54" y="1916.27" width="26.99" height="13.84" fill="#f8ead9"/>
<rect x="280.23" y="1916.27" width="26.99" height="13.84" fill="#f9debc"/>
<rect x="306.91" y="1916.27" width="26.99" height="13.84" fill="#fad8ad"/>
<rect x="146.80" y="1929.80" width="26.99" height="13.84" fill="#f4953c"/>
<rect x="173.49" y="1929.80" width="26.99" height="13.84" fill="#fdb863"/>
<rect x="200.17" y="1929.80" width="26.99" height="13.84" fill="#fcc581"/>
<rect x="226.86" y="1929.80" width="26.99" height="13.84" fill="#fbcb8f"/>
<rect x="253.54" y="1929.80" width="26.99" height="13.84" fill="#fbd19e"/>
<rect x="280.23" y="1929.80" width="26.99" height="13.84" fill="#fbd19e"/>
<rect x="306.91" y="1929.80" width="26.99" height="13.84" fill="#fbd19e"/>
<rect x="146.80" y="1943.34" width="26.99" height="13.84" fill="#fbaf59"/>
<rect x="173.49" y="1943.34" width="26.99" height="13.84" fill="#fbaf59"/>
<rect x="200.17" y="1943.34" width="26.99" height="13.84" fill="#fcc581"/>
<rect x="226.86" y="1943.34" width="26.99" height="13.84" fill="#fcbe72"/>
<rect x="253.54" y="1943.34" width="26.99" height="13.84" fill="#fcc581"/>
<rect x="280.23" y="1943.34" width="26.99" height="13.84" fill="#fdbb6a"/>
<rect x="306.91" y="1943.34" width="26.99" height="13.84" fill="#fad8ad"/>
<rect x="146.80" y="1956.88" width="26.99" height="13.84" fill="#fbaf59"/>
<rect x="173.49" y="1956.88" width="26.99" height="13.84" fill="#fbaf59"/>
<rect x="200.17" y="1956.88" width="26.99" height="13.84" fill="#fbd19e"/>
<rect x="226.86" y="1956.88" width="26.99" height="13.84" fill="#fbd19e"/>
<rect x="253.54" y="1956.88" width="26.99" height="13.84" fill="#fbd19e"/>
<rect x="280.23" y="1956.88" width="26.99" height="13.84" fill="#fbcb8f"/>
<rect x="306.91" y="1956.88" width="26.99" height="13.84" fill="#fbcb8f"/>
<rect x="146.80" y="1970.42" width="26.99" height="13.84" fill="#fad8ad"/>
<rect x="173.49" y="1970.42" width="26.99" height="13.84" fill="#fbaf59"/>
<rect x="200.17" y="1970.42" width="26.99" height="13.84" fill="#f8ead9"/>
<rect x="226.86" y="1970.42" width="26.99" height="13.84" fill="#fcbe72"/>
<rect x="253.54" y="1970.42" width="26.99" height="13.84" fill="#f8ead9"/>
<rect x="280.23" y="1970.42" width="26.99" height="13.84" fill="#fcbe72"/>
<rect x="306.91" y="1970.42" width="26.99" height="13.84" fill="#fad8ad"/>
<rect x="146.80" y="1983.95" width="26.99" height="13.84" fill="#fbcb8f"/>
<rect x="173.49" y="1983.95" width="26.99" height="13.84" fill="#ef8428"/>
<rect x="200.17" y="1983.95" width="26.99" height="13.84" fill="#fbcb8f"/>
<rect x="226.86" y="1983.95" width="26.99" height="13.84" fill="#fbcb8f"/>
<rect x="253.54" y="1983.95" width="26.99" height="13.84" fill="#fbd19e"/>
<rect x="280.23" y="1983.95" width="26.99" height="13.84" fill="#fcbe72"/>
<rect x="306.91" y="1983.95" width="26.99" height="13.84" fill="#fcbe72"/>
<rect x="146.80" y="1997.49" width="26.99" height="13.84" fill="#fbcb8f"/>
<rect x="173.49" y="1997.49" width="26.99" height="13.84" fill="#fbaf59"/>
<rect x="200.17" y="1997.49" width="26.99" height="13.84" fill="#fdb863"/>
<rect x="226.86" y="1997.49" width="26.99" height="13.84" fill="#fbcb8f"/>
<rect x="253.54" y="1997.49" width="26.99" height="13.84" fill="#fbd19e"/>
<rect x="280.23" y="1997.49" width="26.99" height="13.84" fill="#fcc581"/>
<rect x="306.91" y="1997.49" width="26.99" height="13.84" fill="#fcbe72"/>
<rect x="146.80" y="2011.03" width="26.99" height="13.84" fill="#fdb863"/>
<rect x="173.49" y="2011.03" width="26.99" height="13.84" fill="#fdb863"/>
<rect x="200.17" y="2011.03" width="26.99" height="13.84" fill="#fdb863"/>
<rect x="226.86" y="2011.03" width="26.99" height="13.84" fill="#fcc581"/>
<rect x="253.54" y="2011.03" width="26.99" height="13.84" fill="#fbcb8f"/>
<rect x="280.23" y="2011.03" width="26.99" height="13.84" fill="#fcc581"/>
<rect x="306.91" y="2011.03" width="26.99" height="13.84" fill="#fcbe72"/>
<rect x="146.80" y="2024.57" width="26.99" height="13.84" fill="#fbd19e"/>
<rect x="173.49" y="2024.57" width="26.99" height="13.84" fill="#fbd19e"/>
<rect x="200.17" y="2024.57" width="26.99" height="13.84" fill="#fad8ad"/>
<rect x="226.86" y="2024.57" width="26.99" height="13.84" fill="#fbcb8f"/>
<rect x="253.54" y="2024.57" width="26.99" height="13.84" fill="#fbcb8f"/>
<rect x="280.23" y="2024.57" width="26.99" height="13.84" fill="#fdb863"/>
<rect x="306.91" y="2024.57" width="26.99" height="13.84" fill="#fdb863"/>
<rect x="146.80" y="2038.10" width="26.99" height="13.84" fill="#fbcb8f"/>
<rect x="173.49" y="2038.10" width="26.99" height="13.84" fill="#fcc581"/>
<rect x="200.17" y="2038.10" width="26.99" height="13.84" fill="#fbd19e"/>
<rect x="226.86" y="2038.10" width="26.99" height="13.84" fill="#f9debc"/>
<rect x="253.54" y="2038.10" width="26.99" height="13.84" fill="#fbcb8f"/>
<rect x="280.23" y="2038.10" width="26.99" height="13.84" fill="#fcbe72"/>
<rect x="306.91" y="2038.10" width="26.99" height="13.84" fill="#fdb863"/>
<rect x="146.80" y="2051.64" width="26.99" height="13.84" fill="#f9debc"/>
<rect x="173.49" y="2051.64" width="26.99" height="13.84" fill="#fcc581"/>
<rect x="200.17" y="2051.64" width="26.99" height="13.84" fill="#fad8ad"/>
<rect x="226.86" y="2051.64" width="26.99" height="13.84" fill="#fbd19e"/>
<rect x="253.54" y="2051.64" width="26.99" height="13.84" fill="#fbcb8f"/>
<rect x="280.23" y="2051.64" width="26.99" height="13.84" fill="#fcbe72"/>
<rect x="306.91" y="2051.64" width="26.99" height="13.84" fill="#fdb863"/>
<rect x="146.80" y="2065.18" width="26.99" height="13.84" fill="#fad8ad"/>
<rect x="173.49" y="2065.18" width="26.99" height="13.84" fill="#fcc581"/>
<rect x="200.17" y="2065.18" width="26.99" height="13.84" fill="#fbcb8f"/>
<rect x="226.86" y="2065.18" width="26.99" height="13.84" fill="#fbd19e"/>
<rect x="253.54" y="2065.18" width="26.99" height="13.84" fill="#fbcb8f"/>
<rect x="280.23" y="2065.18" width="26.99" height="13.84" fill="#fcc581"/>
<rect x="306.91" y="2065.18" width="26.99" height="13.84" fill="#fdb863"/>
<rect x="146.80" y="2078.72" width="26.99" height="13.84" fill="#fcc179"/>
<rect x="173.49" y="2078.72" width="26.99" height="13.84" fill="#fcc179"/>
<rect x="200.17" y="2078.72" width="26.99" height="13.84" fill="#fbcb8f"/>
<rect x="226.86" y="2078.72" width="26.99" height="13.84" fill="#fad8ad"/>
<rect x="253.54" y="2078.72" width="26.99" height="13.84" fill="#f8e7d2"/>
<rect x="280.23" y="2078.72" width="26.99" height="13.84" fill="#f69e46"/>
<rect x="306.91" y="2078.72" width="26.99" height="13.84" fill="#f69e46"/>
<rect x="146.80" y="2092.25" width="26.99" height="13.84" fill="#fdb863"/>
<rect x="173.49" y="2092.25" width="26.99" height="13.84" fill="#fdb863"/>
<rect x="200.17" y="2092.25" width="26.99" height="13.84" fill="#fad8ad"/>
<rect x="226.86" y="2092.25" width="26.99" height="13.84" fill="#fbcb8f"/>
<rect x="253.54" y="2092.25" width="26.99" height="13.84" fill="#fbcb8f"/>
<rect x="280.23" y="2092.25" width="26.99" height="13.84" fill="#fdb863"/>
<rect x="306.91" y="2092.25" width="26.99" height="13.84" fill="#fdb863"/>
<rect x="146.80" y="2105.79" width="26.99" height="13.84" fill="#f9debc"/>
<rect x="173.49" y="2105.79" width="26.99" height="13.84" fill="#f9e4cb"/>
<rect x="200.17" y="2105.79" width="26.99" height="13.84" fill="#fcbe72"/>
<rect x="226.86" y="2105.79" width="26.99" height="13.84" fill="#fcbe72"/>
<rect x="253.54" y="2105.79" width="26.99" height="13.84" fill="#fdbb6a"/>
<rect x="280.23" y="2105.79" width="26.99" height="13.84" fill="#fdb863"/>
<rect x="306.91" y="2105.79" width="26.99" height="13.84" fill="#fdb863"/>
<rect x="146.80" y="2119.33" width="26.99" height="13.84" fill="#fbcb8f"/>
<rect x="173.49" y="2119.33" width="26.99" height="13.84" fill="#fcbe72"/>
<rect x="200.17" y="2119.33" width="26.99" height="13.84" fill="#f8a74f"/>
<rect x="226.86" y="2119.33" width="26.99" height="13.84" fill="#fcbe72"/>
<rect x="253.54" y="2119.33" width="26.99" height="13.84" fill="#fcc581"/>
<rect x="280.23" y="2119.33" width="26.99" height="13.84" fill="#fbcb8f"/>
<rect x="306.91" y="2119.33" width="26.99" height="13.84" fill="#fbcb8f"/>
<rect x="146.80" y="2132.86" width="26.99" height="13.84" fill="#fdb863"/>
<rect x="173.49" y="2132.86" width="26.99" height="13.84" fill="#fbd19e"/>
<rect x="200.17" y="2132.86" width="26.99" height="13.84" fill="#fdb863"/>
<rect x="226.86" y="2132.86" width="26.99" height="13.84" fill="#fdb863"/>
<rect x="253.54" y="2132.86" width="26.99" height="13.84" fill="#fcc581"/>
<rect x="280.23" y="2132.86" width="26.99" height="13.84" fill="#fcbe72"/>
<rect x="306.91" y="2132.86" width="26.99" height="13.84" fill="#fdb863"/>
<rect x="146.80" y="2146.40" width="26.99" height="13.84" fill="#fdb863"/>
<rect x="173.49" y="2146.40" width="26.99" height="13.84" fill="#fcc581"/>
<rect x="200.17" y="2146.40" width="26.99" height="13.84" fill="#fdb863"/>
<rect x="226.86" y="2146.40" width="26.99" height="13.84" fill="#fbaf59"/>
<rect x="253.54" y="2146.40" width="26.99" height="13.84" fill="#fdb863"/>
<rect x="280.23" y="2146.40" width="26.99" height="13.84" fill="#fcbe72"/>
<rect x="306.91" y="2146.40" width="26.99" height="13.84" fill="#fdb863"/>
<rect x="146.80" y="2159.94" width="26.99" height="13.84" fill="#f8f1e8"/>
<rect x="173.49" y="2159.94" width="26.99" height="13.84" fill="#fad8ad"/>
<rect x="200.17" y="2159.94" width="26.99" height="13.84" fill="#fcbe72"/>
<rect x="226.86" y="2159.94" width="26.99" height="13.84" fill="#fcbe72"/>
<rect x="253.54" y="2159.94" width="26.99" height="13.84" fill="#fcbe72"/>
<rect x="280.23" y="2159.94" width="26.99" height="13.84" fill="#fcbe72"/>
<rect x="306.91" y="2159.94" width="26.99" height="13.84" fill="#fad8ad"/>
<rect x="146.80" y="2173.48" width="26.99" height="13.84" fill="#fcc581"/>
<rect x="173.49" y="2173.48" width="26.99" height="13.84" fill="#f9debc"/>
<rect x="200.17" y="2173.48" width="26.99" height="13.84" fill="#fad8ad"/>
<rect x="226.86" y="2173.48" width="26.99" height="13.84" fill="#fbd19e"/>
<rect x="253.54" y="2173.48" width="26.99" height="13.84" fill="#f9e4cb"/>
<rect x="280.23" y="2173.48" width="26.99" height="13.84" fill="#fad8ad"/>
<rect x="306.91" y="2173.48" width="26.99" height="13.84" fill="#fbd19e"/>
<rect x="146.80" y="2187.01" width="26.99" height="13.84" fill="#f9debc"/>
<rect x="173.49" y="2187.01" width="26.99" height="13.84" fill="#f9e4cb"/>
<rect x="200.17" y="2187.01" width="26.99" height="13.84" fill="#fcc581"/>
<rect x="226.86" y="2187.01" width="26.99" height="13.84" fill="#fbd19e"/>
<rect x="253.54" y="2187.01" width="26.99" height="13.84" fill="#f9e4cb"/>
<rect x="280.23" y="2187.01" width="26.99" height="13.84" fill="#fad8ad"/>
<rect x="306.91" y="2187.01" width="26.99" height="13.84" fill="#fbd19e"/>
<rect x="146.80" y="2200.55" width="26.99" height="13.84" fill="#f9debc"/>
<rect x="173.49" y="2200.55" width="26.99" height="13.84" fill="#f9e4cb"/>
<rect x="200.17" y="2200.55" width="26.99" height="13.84" fill="#fbcb8f"/>
<rect x="226.86" y="2200.55" width="26.99" height="13.84" fill="#fcbe72"/>
<rect x="253.54" y="2200.55" width="26.99" height="13.84" fill="#f9e4cb"/>
<rect x="280.23" y="2200.55" width="26.99" height="13.84" fill="#fad8ad"/>
<rect x="306.91" y="2200.55" width="26.99" height="13.84" fill="#fbd19e"/>
<rect x="146.80" y="2214.09" width="26.99" height="13.84" fill="#fbd19e"/>
<rect x="173.49" y="2214.09" width="26.99" height="13.84" fill="#f9debc"/>
<rect x="200.17" y="2214.09" width="26.99" height="13.84" fill="#fcbe72"/>
<rect x="226.86" y="2214.09" width="26.99" height="13.84" fill="#fdb863"/>
<rect x="253.54" y="2214.09" width="26.99" height="13.84" fill="#fcc581"/>
<rect x="280.23" y="2214.09" width="26.99" height="13.84" fill="#fad8ad"/>
<rect x="306.91" y="2214.09" width="26.99" height="13.84" fill="#f9e4cb"/>
<rect x="146.80" y="2227.63" width="26.99" height="13.84" fill="#f9debc"/>
<rect x="173.49" y="2227.63" width="26.99" height="13.84" fill="#fbcb8f"/>
<rect x="200.17" y="2227.63" width="26.99" height="13.84" fill="#fbcb8f"/>
<rect x="226.86" y="2227.63" width="26.99" height="13.84" fill="#fcc581"/>
<rect x="253.54" y="2227.63" width="26.99" height="13.84" fill="#fcc581"/>
<rect x="280.23" y="2227.63" width="26.99" height="13.84" fill="#fbcb8f"/>
<rect x="306.91" y="2227.63" width="26.99" height="13.84" fill="#fbcb8f"/>
<rect x="146.80" y="2241.16" width="26.99" height="13.84" fill="#fcc581"/>
<rect x="173.49" y="2241.16" width="26.99" height="13.84" fill="#fad8ad"/>
<rect x="200.17" y="2241.16" width="26.99" height="13.84" fill="#fbcb8f"/>
<rect x="226.86" y="2241.16" width="26.99" height="13.84" fill="#fcbe72"/>
<rect x="253.54" y="2241.16" width="26.99" height="13.84" fill="#fcbe72"/>
<rect x="280.23" y="2241.16" width="26.99" height="13.84" fill="#fbd19e"/>
<rect x="306.91" y="2241.16" width="26.99" height="13.84" fill="#fbcb8f"/>
<rect x="146.80" y="2254.70" width="26.99" height="13.84" fill="#fcc581"/>
<rect x="173.49" y="2254.70" width="26.99" height="13.84" fill="#fcbe72"/>
<rect x="200.17" y="2254.70" width="26.99" height="13.84" fill="#e96e10"/>
<rect x="226.86" y="2254.70" width="26.99" height="13.84" fill="#f69e46"/>
<rect x="253.54" y="2254.70" width="26.99" height="13.84" fill="#f8a74f"/>
<rect x="280.23" y="2254.70" width="26.99" height="13.84" fill="#fdb863"/>
<rect x="306.91" y="2254.70" width="26.99" height="13.84" fill="#fcc581"/>
<rect x="146.80" y="2268.24" width="26.99" height="13.84" fill="#fdb863"/>
<rect x="173.49" y="2268.24" width="26.99" height="13.84" fill="#f9e4cb"/>
<rect x="200.17" y="2268.24" width="26.99" height="13.84" fill="#fdb863"/>
<rect x="226.86" y="2268.24" width="26.99" height="13.84" fill="#f69e46"/>
<rect x="253.54" y="2268.24" width="26.99" height="13.84" fill="#fbaf59"/>
<rect x="280.23" y="2268.24" width="26.99" height="13.84" fill="#f8a74f"/>
<rect x="306.91" y="2268.24" width="26.99" height="13.84" fill="#fcbe72"/>
<rect x="146.80" y="2281.78" width="26.99" height="13.84" fill="#fcc581"/>
<rect x="173.49" y="2281.78" width="26.99" height="13.84" fill="#fcc581"/>
<rect x="200.17" y="2281.78" width="26.99" height="13.84" fill="#fdb863"/>
<rect x="226.86" y="2281.78" width="26.99" height="13.84" fill="#f28c32"/>
<rect x="253.54" y="2281.78" width="26.99" height="13.84" fill="#fbaf59"/>
<rect x="280.23" y="2281.78" width="26.99" height="13.84" fill="#fdb863"/>
<rect x="306.91" y="2281.78" width="26.99" height="13.84" fill="#fcc581"/>
<rect x="146.80" y="2295.31" width="26.99" height="13.84" fill="#f4953c"/>
<rect x="173.49" y="2295.31" width="26.99" height="13.84" fill="#fbaf59"/>
<rect x="200.17" y="2295.31" width="26.99" height="13.84" fill="#fcc581"/>
<rect x="226.86" y="2295.31" width="26.99" height="13.84" fill="#fcc581"/>
<rect x="253.54" y="2295.31" width="26.99" height="13.84" fill="#fcc581"/>
<rect x="280.23" y="2295.31" width="26.99" height="13.84" fill="#fbaf59"/>
<rect x="306.91" y="2295.31" width="26.99" height="13.84" fill="#f4953c"/>
<rect x="146.80" y="2308.85" width="26.99" height="13.84" fill="#fbaf59"/>
<rect x="173.49" y="2308.85" width="26.99" height="13.84" fill="#fbaf59"/>
<rect x="200.17" y="2308.85" width="26.99" height="13.84" fill="#fbd19e"/>
<rect x="226.86" y="2308.85" width="26.99" height="13.84" fill="#fad8ad"/>
<rect x="253.54" y="2308.85" width="26.99" height="13.84" fill="#fcc581"/>
<rect x="280.23" y="2308.85" width="26.99" height="13.84" fill="#fcbe72"/>
<rect x="306.91" y="2308.85" width="26.99" height="13.84" fill="#f4953c"/>
<rect x="146.80" y="2322.39" width="26.99" height="13.84" fill="#fdb863"/>
<rect x="173.49" y="2322.39" width="26.99" height="13.84" fill="#f4953c"/>
<rect x="200.17" y="2322.39" width="26.99" height="13.84" fill="#fcbe72"/>
<rect x="226.86" y="2322.39" width="26.99" height="13.84" fill="#fcbe72"/>
<rect x="253.54" y="2322.39" width="26.99" height="13.84" fill="#fcbe72"/>
<rect x="280.23" y="2322.39" width="26.99" height="13.84" fill="#fdb863"/>
<rect x="306.91" y="2322.39" width="26.99" height="13.84" fill="#f4953c"/>
<rect x="146.80" y="2335.93" width="26.99" height="13.84" fill="#fdb863"/>
<rect x="173.49" y="2335.93" width="26.99" height="13.84" fill="#fad8ad"/>
<rect x="200.17" y="2335.93" width="26.99" height="13.84" fill="#fbcb8f"/>
<rect x="226.86" y="2335.93" width="26.99" height="13.84" fill="#fcbe72"/>
<rect x="253.54" y="2335.93" width="26.99" height="13.84" fill="#fbaf59"/>
<rect x="280.23" y="2335.93" width="26.99" height="13.84" fill="#f69e46"/>
<rect x="306.91" y="2335.93" width="26.99" height="13.84" fill="#f69e46"/>
<rect x="146.80" y="2349.46" width="26.99" height="13.84" fill="#f8a74f"/>
<rect x="173.49" y="2349.46" width="26.99" height="13.84" fill="#fcc581"/>
<rect x="200.17" y="2349.46" width="26.99" height="13.84" fill="#fbd19e"/>
<rect x="226.86" y="2349.46" width="26.99" height="13.84" fill="#fcbe72"/>
<rect x="253.54" y="2349.46" width="26.99" height="13.84" fill="#fdb863"/>
<rect x="280.23" y="2349.46" width="26.99" height="13.84" fill="#fbd19e"/>
<rect x="306.91" y="2349.46" width="26.99" height="13.84" fill="#fcc581"/>
</g>
<g font-family="'Liberation Sans', Arial, Helvetica, sans-serif" font-weight="bold" font-size="11.4" fill="#000">
<text transform="translate(342.6,18.37) scale(0.93,1)">mir-9a-2</text>
<text transform="translate(342.6,31.91) scale(0.93,1)">mir-14134a</text>
<text transform="translate(342.6,45.44) scale(0.93,1)">mir-14130</text>
<text transform="translate(342.6,58.98) scale(0.93,1)">mir-7</text>
<text transform="translate(342.6,72.52) scale(0.93,1)">let-7</text>
<text transform="translate(342.6,86.06) scale(0.93,1)">mir-9a-1</text>
<text transform="translate(342.6,99.59) scale(0.93,1)">mir-14111f-1</text>
<text transform="translate(342.6,113.13) scale(0.93,1)">mir-14111a-1</text>
<text transform="translate(342.6,126.67) scale(0.93,1)">mir-14111a-2</text>
<text transform="translate(342.6,140.20) scale(0.93,1)">mir-14111a-3</text>
<text transform="translate(342.6,153.74) scale(0.93,1)">mir-14111c</text>
<text transform="translate(342.6,167.28) scale(0.93,1)">mir-14111a-5</text>
<text transform="translate(342.6,180.82) scale(0.93,1)">mir-14111d</text>
<text transform="translate(342.6,194.35) scale(0.93,1)">mir-2765</text>
<text transform="translate(342.6,207.89) scale(0.93,1)">mir-14117</text>
<text transform="translate(342.6,221.43) scale(0.93,1)">mir-14111e-1</text>
<text transform="translate(342.6,234.97) scale(0.93,1)">mir-9b</text>
<text transform="translate(342.6,248.50) scale(0.93,1)">mir-281-1</text>
<text transform="translate(342.6,262.04) scale(0.93,1)">mir-14132</text>
<text transform="translate(342.6,275.58) scale(0.93,1)">mir-306-1</text>
<text transform="translate(342.6,289.12) scale(0.93,1)">mir-100</text>
<text transform="translate(342.6,302.65) scale(0.93,1)">mir-31</text>
<text transform="translate(342.6,316.19) scale(0.93,1)">mir-14110-1</text>
<text transform="translate(342.6,329.73) scale(0.93,1)">mir-14110-2</text>
<text transform="translate(342.6,343.27) scale(0.93,1)">mir-263a</text>
<text transform="translate(342.6,356.80) scale(0.93,1)">mir-9d</text>
<text transform="translate(342.6,370.34) scale(0.93,1)">mir-14125</text>
<text transform="translate(342.6,383.88) scale(0.93,1)">mir-10</text>
<text transform="translate(342.6,397.41) scale(0.93,1)">mir-12</text>
<text transform="translate(342.6,410.95) scale(0.93,1)">mir-281-2</text>
<text transform="translate(342.6,424.49) scale(0.93,1)">mir-14111b-2</text>
<text transform="translate(342.6,438.03) scale(0.93,1)">mir-14111b-1</text>
<text transform="translate(342.6,451.56) scale(0.93,1)">mir-34</text>
<text transform="translate(342.6,465.10) scale(0.93,1)">mir-14116-1</text>
<text transform="translate(342.6,478.64) scale(0.93,1)">mir-14116-2</text>
<text transform="translate(342.6,492.18) scale(0.93,1)">mir-14111f-2</text>
<text transform="translate(342.6,505.71) scale(0.93,1)">mir-1175-1</text>
<text transform="translate(342.6,519.25) scale(0.93,1)">mir-263b</text>
<text transform="translate(342.6,532.79) scale(0.93,1)">mir-14113-3</text>
<text transform="translate(342.6,546.33) scale(0.93,1)">mir-14101</text>
<text transform="translate(342.6,559.86) scale(0.93,1)">mir-252a</text>
<text transform="translate(342.6,573.40) scale(0.93,1)">mir-125</text>
<text transform="translate(342.6,586.94) scale(0.93,1)">mir-1175-2</text>
<text transform="translate(342.6,600.48) scale(0.93,1)">mir-14121</text>
<text transform="translate(342.6,614.01) scale(0.93,1)">mir-14131</text>
<text transform="translate(342.6,627.55) scale(0.93,1)">mir-14138</text>
<text transform="translate(342.6,641.09) scale(0.93,1)">mir-14111a-4</text>
<text transform="translate(342.6,654.62) scale(0.93,1)">mir-315</text>
<text transform="translate(342.6,668.16) scale(0.93,1)">mir-219</text>
<text transform="translate(342.6,681.70) scale(0.93,1)">mir-190</text>
<text transform="translate(342.6,695.24) scale(0.93,1)">mir-29</text>
<text transform="translate(342.6,708.77) scale(0.93,1)">mir-14133a-4</text>
<text transform="translate(342.6,722.31) scale(0.93,1)">mir-306-2</text>
<text transform="translate(342.6,735.85) scale(0.93,1)">mir-306-3</text>
<text transform="translate(342.6,749.39) scale(0.93,1)">mir-980</text>
<text transform="translate(342.6,762.92) scale(0.93,1)">mir-14133a-2</text>
<text transform="translate(342.6,776.46) scale(0.93,1)">mir-71</text>
<text transform="translate(342.6,790.00) scale(0.93,1)">mir-307</text>
<text transform="translate(342.6,803.54) scale(0.93,1)">mir-14124</text>
<text transform="translate(342.6,817.07) scale(0.93,1)">mir-14133a-1</text>
<text transform="translate(342.6,830.61) scale(0.93,1)">mir-14133a-3</text>
<text transform="translate(342.6,844.15) scale(0.93,1)">mir-14133b</text>
<text transform="translate(342.6,857.68) scale(0.93,1)">iab-4</text>
<text transform="translate(342.6,871.22) scale(0.93,1)">mir-14105</text>
<text transform="translate(342.6,884.76) scale(0.93,1)">mir-252b</text>
<text transform="translate(342.6,898.30) scale(0.93,1)">mir-14140</text>
<text transform="translate(342.6,911.83) scale(0.93,1)">mir-316</text>
<text transform="translate(342.6,925.37) scale(0.93,1)">mir-14111e-2</text>
<text transform="translate(342.6,938.91) scale(0.93,1)">mir-14133c</text>
<text transform="translate(342.6,952.45) scale(0.93,1)">mir-14149a-1</text>
<text transform="translate(342.6,965.98) scale(0.93,1)">mir-14149a-2</text>
<text transform="translate(342.6,979.52) scale(0.93,1)">mir-14141-1</text>
<text transform="translate(342.6,993.06) scale(0.93,1)">mir-14141-2</text>
<text transform="translate(342.6,1006.60) scale(0.93,1)">mir-275</text>
<text transform="translate(342.6,1020.13) scale(0.93,1)">mir-87b</text>
<text transform="translate(342.6,1033.67) scale(0.93,1)">mir-14145-4</text>
<text transform="translate(342.6,1047.21) scale(0.93,1)">mir-193</text>
<text transform="translate(342.6,1060.75) scale(0.93,1)">mir-14145-1</text>
<text transform="translate(342.6,1074.28) scale(0.93,1)">mir-14145-2</text>
<text transform="translate(342.6,1087.82) scale(0.93,1)">mir-14150</text>
<text transform="translate(342.6,1101.36) scale(0.93,1)">mir-2788-2</text>
<text transform="translate(342.6,1114.89) scale(0.93,1)">mir-14107</text>
<text transform="translate(342.6,1128.43) scale(0.93,1)">mir-965</text>
<text transform="translate(342.6,1141.97) scale(0.93,1)">mir-2c</text>
<text transform="translate(342.6,1155.51) scale(0.93,1)">mir-14153</text>
<text transform="translate(342.6,1169.04) scale(0.93,1)">mir-750-2</text>
<text transform="translate(342.6,1182.58) scale(0.93,1)">mir-92a</text>
<text transform="translate(342.6,1196.12) scale(0.93,1)">mir-14145-3</text>
<text transform="translate(342.6,1209.66) scale(0.93,1)">mir-153</text>
<text transform="translate(342.6,1223.19) scale(0.93,1)">mir-981-2</text>
<text transform="translate(342.6,1236.73) scale(0.93,1)">mir-14113-1</text>
<text transform="translate(342.6,1250.27) scale(0.93,1)">mir-14136</text>
<text transform="translate(342.6,1263.81) scale(0.93,1)">mir-14151</text>
<text transform="translate(342.6,1277.34) scale(0.93,1)">mir-133-2</text>
<text transform="translate(342.6,1290.88) scale(0.93,1)">mir-278a</text>
<text transform="translate(342.6,1304.42) scale(0.93,1)">mir-278b</text>
<text transform="translate(342.6,1317.95) scale(0.93,1)">mir-981-3</text>
<text transform="translate(342.6,1331.49) scale(0.93,1)">mir-14113-2</text>
<text transform="translate(342.6,1345.03) scale(0.93,1)">mir-981-1</text>
<text transform="translate(342.6,1358.57) scale(0.93,1)">mir-14127</text>
<text transform="translate(342.6,1372.10) scale(0.93,1)">mir-210</text>
<text transform="translate(342.6,1385.64) scale(0.93,1)">mir-14143-2</text>
<text transform="translate(342.6,1399.18) scale(0.93,1)">mir-14114</text>
<text transform="translate(342.6,1412.72) scale(0.93,1)">mir-14128</text>
<text transform="translate(342.6,1426.25) scale(0.93,1)">mir-14137b</text>
<text transform="translate(342.6,1439.79) scale(0.93,1)">mir-14144</text>
<text transform="translate(342.6,1453.33) scale(0.93,1)">mir-14148</text>
<text transform="translate(342.6,1466.87) scale(0.93,1)">mir-14139</text>
<text transform="translate(342.6,1480.40) scale(0.93,1)">mir-14109</text>
<text transform="translate(342.6,1493.94) scale(0.93,1)">mir-1000-1</text>
<text transform="translate(342.6,1507.48) scale(0.93,1)">mir-124</text>
<text transform="translate(342.6,1521.02) scale(0.93,1)">mir-14126</text>
<text transform="translate(342.6,1534.55) scale(0.93,1)">mir-8</text>
<text transform="translate(342.6,1548.09) scale(0.93,1)">mir-305</text>
<text transform="translate(342.6,1561.63) scale(0.93,1)">mir-2a-1</text>
<text transform="translate(342.6,1575.16) scale(0.93,1)">mir-1000-2</text>
<text transform="translate(342.6,1588.70) scale(0.93,1)">mir-1000-3</text>
<text transform="translate(342.6,1602.24) scale(0.93,1)">mir-14106</text>
<text transform="translate(342.6,1615.78) scale(0.93,1)">mir-14108</text>
<text transform="translate(342.6,1629.31) scale(0.93,1)">mir-14115</text>
<text transform="translate(342.6,1642.85) scale(0.93,1)">mir-14134b</text>
<text transform="translate(342.6,1656.39) scale(0.93,1)">mir-14147</text>
<text transform="translate(342.6,1669.93) scale(0.93,1)">mir-137</text>
<text transform="translate(342.6,1683.46) scale(0.93,1)">mir-279b</text>
<text transform="translate(342.6,1697.00) scale(0.93,1)">mir-87a</text>
<text transform="translate(342.6,1710.54) scale(0.93,1)">mir-87c</text>
<text transform="translate(342.6,1724.08) scale(0.93,1)">mir-2a-2</text>
<text transform="translate(342.6,1737.61) scale(0.93,1)">mir-9c</text>
<text transform="translate(342.6,1751.15) scale(0.93,1)">mir-14119</text>
<text transform="translate(342.6,1764.69) scale(0.93,1)">mir-14120</text>
<text transform="translate(342.6,1778.22) scale(0.93,1)">mir-14104</text>
<text transform="translate(342.6,1791.76) scale(0.93,1)">mir-14143-1</text>
<text transform="translate(342.6,1805.30) scale(0.93,1)">mir-14135</text>
<text transform="translate(342.6,1818.84) scale(0.93,1)">mir-184-4</text>
<text transform="translate(342.6,1832.37) scale(0.93,1)">mir-14112</text>
<text transform="translate(342.6,1845.91) scale(0.93,1)">mir-184-3</text>
<text transform="translate(342.6,1859.45) scale(0.93,1)">mir-184-2</text>
<text transform="translate(342.6,1872.99) scale(0.93,1)">mir-92c</text>
<text transform="translate(342.6,1886.52) scale(0.93,1)">mir-2b</text>
<text transform="translate(342.6,1900.06) scale(0.93,1)">mir-184-1</text>
<text transform="translate(342.6,1913.60) scale(0.93,1)">mir-14103</text>
<text transform="translate(342.6,1927.14) scale(0.93,1)">mir-14123</text>
<text transform="translate(342.6,1940.67) scale(0.93,1)">mir-14102</text>
<text transform="translate(342.6,1954.21) scale(0.93,1)">mir-14146</text>
<text transform="translate(342.6,1967.75) scale(0.93,1)">mir-92b</text>
<text transform="translate(342.6,1981.29) scale(0.93,1)">mir-2788-1</text>
<text transform="translate(342.6,1994.82) scale(0.93,1)">mir-279c-2</text>
<text transform="translate(342.6,2008.36) scale(0.93,1)">mir-13-3</text>
<text transform="translate(342.6,2021.90) scale(0.93,1)">mir-317</text>
<text transform="translate(342.6,2035.43) scale(0.93,1)">mir-14152</text>
<text transform="translate(342.6,2048.97) scale(0.93,1)">mir-279c-1</text>
<text transform="translate(342.6,2062.51) scale(0.93,1)">mir-133-2</text>
<text transform="translate(342.6,2076.05) scale(0.93,1)">mir-279c-3</text>
<text transform="translate(342.6,2089.58) scale(0.93,1)">mir-14149b</text>
<text transform="translate(342.6,2103.12) scale(0.93,1)">mir-279a</text>
<text transform="translate(342.6,2116.66) scale(0.93,1)">mir-14129</text>
<text transform="translate(342.6,2130.20) scale(0.93,1)">mir-14142-1</text>
<text transform="translate(342.6,2143.73) scale(0.93,1)">mir-14154</text>
<text transform="translate(342.6,2157.27) scale(0.93,1)">mir-276</text>
<text transform="translate(342.6,2170.81) scale(0.93,1)">mir-14137a-3</text>
<text transform="translate(342.6,2184.35) scale(0.93,1)">mir-277</text>
<text transform="translate(342.6,2197.88) scale(0.93,1)">mir-14118</text>
<text transform="translate(342.6,2211.42) scale(0.93,1)">mir-993</text>
<text transform="translate(342.6,2224.96) scale(0.93,1)">mir-14122</text>
<text transform="translate(342.6,2238.50) scale(0.93,1)">mir-14142-2</text>
<text transform="translate(342.6,2252.03) scale(0.93,1)">mir-750-1</text>
<text transform="translate(342.6,2265.57) scale(0.93,1)">mir-14137a-2</text>
<text transform="translate(342.6,2279.11) scale(0.93,1)">bantam</text>
<text transform="translate(342.6,2292.64) scale(0.93,1)">mir-14137a-1</text>
<text transform="translate(342.6,2306.18) scale(0.93,1)">mir-6</text>
<text transform="translate(342.6,2319.72) scale(0.93,1)">mir-13-2</text>
<text transform="translate(342.6,2333.26) scale(0.93,1)">mir-92d</text>
<text transform="translate(342.6,2346.79) scale(0.93,1)">mir-13-1</text>
<text transform="translate(342.6,2360.33) scale(0.93,1)">mir-1</text>
</g>
<g font-family="'Liberation Sans', Arial, Helvetica, sans-serif" font-size="19.4" fill="#000">
<text transform="translate(167.14,2369.5) rotate(-90)" text-anchor="end">S1-4</text>
<text transform="translate(193.83,2369.5) rotate(-90)" text-anchor="end">S5-6</text>
<text transform="translate(220.51,2369.5) rotate(-90)" text-anchor="end">S7-11</text>
<text transform="translate(247.20,2369.5) rotate(-90)" text-anchor="end">S14</text>
<text transform="translate(273.89,2369.5) rotate(-90)" text-anchor="end">S17</text>
<text transform="translate(300.57,2369.5) rotate(-90)" text-anchor="end">S21-23</text>
<text transform="translate(327.26,2369.5) rotate(-90)" text-anchor="end">S24-30</text>
</g>
<text x="241.3" y="2471.4" font-family="'Liberation Sans', Arial, Helvetica, sans-serif" font-size="26" text-anchor="middle">Timepoint</text>
<path d="M137.50 41.34L143.80 41.34M137.50 54.88L143.80 54.88M137.50 41.34L137.50 54.88M137.00 68.42L143.80 68.42M137.00 81.96L143.80 81.96M137.00 68.42L137.00 81.96M133.00 48.11L137.50 48.11M133.00 75.19L137.00 75.19M133.00 48.11L133.00 75.19M128.50 27.81L143.80 27.81M128.50 61.65L133.00 61.65M128.50 27.81L128.50 61.65M124.50 14.27L143.80 14.27M124.50 44.73L128.50 44.73M124.50 14.27L124.50 44.73M139.10 109.03L143.80 109.03M139.10 122.57L143.80 122.57M139.10 109.03L139.10 122.57M132.30 95.49L143.80 95.49M132.30 115.80L139.10 115.80M132.30 95.49L132.30 115.80M134.40 176.72L143.80 176.72M134.40 190.25L143.80 190.25M134.40 176.72L134.40 190.25M131.30 163.18L143.80 163.18M131.30 183.49L134.40 183.49M131.30 163.18L131.30 183.49M128.70 149.64L143.80 149.64M128.70 173.33L131.30 173.33M128.70 149.64L128.70 173.33M127.10 136.10L143.80 136.10M127.10 161.49L128.70 161.49M127.10 136.10L127.10 161.49M122.70 105.65L132.30 105.65M122.70 148.80L127.10 148.80M122.70 105.65L122.70 148.80M133.90 217.33L143.80 217.33M133.90 230.87L143.80 230.87M133.90 217.33L133.90 230.87M132.30 203.79L143.80 203.79M132.30 224.10L133.90 224.10M132.30 203.79L132.30 224.10M139.40 257.94L143.80 257.94M139.40 271.48L143.80 271.48M139.40 257.94L139.40 271.48M137.00 285.02L143.80 285.02M137.00 298.55L143.80 298.55M137.00 285.02L137.00 298.55M136.50 264.71L139.40 264.71M136.50 291.78L137.00 291.78M136.50 264.71L136.50 291.78M132.30 244.40L143.80 244.40M132.30 278.25L136.50 278.25M132.30 244.40L132.30 278.25M130.50 312.09L143.80 312.09M130.50 325.63L143.80 325.63M130.50 312.09L130.50 325.63M128.10 261.33L132.30 261.33M128.10 318.86L130.50 318.86M128.10 261.33L128.10 318.86M138.60 339.17L143.80 339.17M138.60 352.70L143.80 352.70M138.60 339.17L138.60 352.70M136.50 379.78L143.80 379.78M136.50 393.31L143.80 393.31M136.50 379.78L136.50 393.31M133.60 366.24L143.80 366.24M133.60 386.55L136.50 386.55M133.60 366.24L133.60 386.55M136.50 433.93L143.80 433.93M136.50 447.46L143.80 447.46M136.50 433.93L136.50 447.46M134.80 420.39L143.80 420.39M134.80 440.70L136.50 440.70M134.80 420.39L134.80 440.70M131.00 406.85L143.80 406.85M131.00 430.54L134.80 430.54M131.00 406.85L131.00 430.54M130.20 376.39L133.60 376.39M130.20 418.70L131.00 418.70M130.20 376.39L130.20 418.70M127.70 345.93L138.60 345.93M127.70 397.55L130.20 397.55M127.70 345.93L127.70 397.55M121.90 290.09L128.10 290.09M121.90 371.74L127.70 371.74M121.90 290.09L121.90 371.74M118.50 213.94L132.30 213.94M118.50 330.92L121.90 330.92M118.50 213.94L118.50 330.92M110.10 127.22L122.70 127.22M110.10 272.43L118.50 272.43M110.10 127.22L110.10 272.43M131.90 461.00L143.80 461.00M131.90 474.54L143.80 474.54M131.90 461.00L131.90 474.54M137.50 501.61L143.80 501.61M137.50 515.15L143.80 515.15M137.50 501.61L137.50 515.15M136.10 488.08L143.80 488.08M136.10 508.38L137.50 508.38M136.10 488.08L136.10 508.38M137.80 542.23L143.80 542.23M137.80 555.76L143.80 555.76M137.80 542.23L137.80 555.76M134.40 528.69L143.80 528.69M134.40 548.99L137.80 548.99M134.40 528.69L134.40 548.99M140.00 582.84L143.80 582.84M140.00 596.38L143.80 596.38M140.00 582.84L140.00 596.38M134.50 569.30L143.80 569.30M134.50 589.61L140.00 589.61M134.50 569.30L134.50 589.61M136.60 623.45L143.80 623.45M136.60 636.99L143.80 636.99M136.60 623.45L136.60 636.99M131.90 609.91L143.80 609.91M131.90 630.22L136.60 630.22M131.90 609.91L131.90 630.22M129.40 579.45L134.50 579.45M129.40 620.07L131.90 620.07M129.40 579.45L129.40 620.07M128.10 538.84L134.40 538.84M128.10 599.76L129.40 599.76M128.10 538.84L128.10 599.76M126.50 498.23L136.10 498.23M126.50 569.30L128.10 569.30M126.50 498.23L126.50 569.30M135.30 677.60L143.80 677.60M135.30 691.14L143.80 691.14M135.30 677.60L135.30 691.14M131.90 664.06L143.80 664.06M131.90 684.37L135.30 684.37M131.90 664.06L131.90 684.37M139.60 718.21L143.80 718.21M139.60 731.75L143.80 731.75M139.60 718.21L139.60 731.75M137.00 758.82L143.80 758.82M137.00 772.36L143.80 772.36M137.00 758.82L137.00 772.36M135.30 745.29L143.80 745.29M135.30 765.59L137.00 765.59M135.30 745.29L135.30 765.59M134.70 724.98L139.60 724.98M134.70 755.44L135.30 755.44M134.70 724.98L134.70 755.44M131.50 704.67L143.80 704.67M131.50 740.21L134.70 740.21M131.50 704.67L131.50 740.21M129.50 674.21L131.90 674.21M129.50 722.44L131.50 722.44M129.50 674.21L129.50 722.44M126.50 650.52L143.80 650.52M126.50 698.33L129.50 698.33M126.50 650.52L126.50 698.33M135.30 785.90L143.80 785.90M135.30 799.44L143.80 799.44M135.30 785.90L135.30 799.44M134.40 812.97L143.80 812.97M134.40 826.51L143.80 826.51M134.40 812.97L134.40 826.51M130.60 792.67L135.30 792.67M130.60 819.74L134.40 819.74M130.60 792.67L130.60 819.74M136.50 867.12L143.80 867.12M136.50 880.66L143.80 880.66M136.50 867.12L136.50 880.66M135.30 853.58L143.80 853.58M135.30 873.89L136.50 873.89M135.30 853.58L135.30 873.89M136.50 894.20L143.80 894.20M136.50 907.73L143.80 907.73M136.50 894.20L136.50 907.73M135.30 921.27L143.80 921.27M135.30 934.81L143.80 934.81M135.30 921.27L135.30 934.81M133.60 900.97L136.50 900.97M133.60 928.04L135.30 928.04M133.60 900.97L133.60 928.04M130.20 863.74L135.30 863.74M130.20 914.50L133.60 914.50M130.20 863.74L130.20 914.50M125.20 840.05L143.80 840.05M125.20 889.12L130.20 889.12M125.20 840.05L125.20 889.12M123.10 806.20L130.60 806.20M123.10 864.58L125.20 864.58M123.10 806.20L123.10 864.58M121.00 674.43L126.50 674.43M121.00 835.39L123.10 835.39M121.00 674.43L121.00 835.39M118.10 533.76L126.50 533.76M118.10 754.91L121.00 754.91M118.10 533.76L118.10 754.91M108.90 467.77L131.90 467.77M108.90 644.34L118.10 644.34M108.90 467.77L108.90 644.34M102.20 199.83L110.10 199.83M102.20 556.05L108.90 556.05M102.20 199.83L102.20 556.05M90.00 29.50L124.50 29.50M90.00 377.94L102.20 377.94M90.00 29.50L90.00 377.94M133.50 975.42L143.80 975.42M133.50 988.96L143.80 988.96M133.50 975.42L133.50 988.96M130.10 961.88L143.80 961.88M130.10 982.19L133.50 982.19M130.10 961.88L130.10 982.19M141.00 1056.65L143.80 1056.65M141.00 1070.18L143.80 1070.18M141.00 1056.65L141.00 1070.18M139.50 1043.11L143.80 1043.11M139.50 1063.41L141.00 1063.41M139.50 1043.11L139.50 1063.41M138.00 1029.57L143.80 1029.57M138.00 1053.26L139.50 1053.26M138.00 1029.57L138.00 1053.26M137.00 1016.03L143.80 1016.03M137.00 1041.42L138.00 1041.42M137.00 1016.03L137.00 1041.42M134.40 1002.50L143.80 1002.50M134.40 1028.72L137.00 1028.72M134.40 1002.50L134.40 1028.72M139.90 1110.79L143.80 1110.79M139.90 1124.33L143.80 1124.33M139.90 1110.79L139.90 1124.33M137.50 1097.26L143.80 1097.26M137.50 1117.56L139.90 1117.56M137.50 1097.26L137.50 1117.56M136.10 1083.72L143.80 1083.72M136.10 1107.41L137.50 1107.41M136.10 1083.72L136.10 1107.41M139.00 1151.41L143.80 1151.41M139.00 1164.94L143.80 1164.94M139.00 1151.41L139.00 1164.94M136.00 1137.87L143.80 1137.87M136.00 1158.18L139.00 1158.18M136.00 1137.87L136.00 1158.18M139.50 1192.02L143.80 1192.02M139.50 1205.56L143.80 1205.56M139.50 1192.02L139.50 1205.56M137.00 1178.48L143.80 1178.48M137.00 1198.79L139.50 1198.79M137.00 1178.48L137.00 1198.79M134.40 1148.02L136.00 1148.02M134.40 1188.63L137.00 1188.63M134.40 1148.02L134.40 1188.63M131.50 1095.57L136.10 1095.57M131.50 1168.33L134.40 1168.33M131.50 1095.57L131.50 1168.33M130.20 1015.61L134.40 1015.61M130.20 1131.95L131.50 1131.95M130.20 1015.61L130.20 1131.95M122.70 972.04L130.10 972.04M122.70 1073.78L130.20 1073.78M122.70 972.04L122.70 1073.78M114.70 948.35L143.80 948.35M114.70 1022.91L122.70 1022.91M114.70 948.35L114.70 1022.91M135.00 1232.63L143.80 1232.63M135.00 1246.17L143.80 1246.17M135.00 1232.63L135.00 1246.17M136.00 1273.24L143.80 1273.24M136.00 1286.78L143.80 1286.78M136.00 1273.24L136.00 1286.78M133.00 1259.71L143.80 1259.71M133.00 1280.01L136.00 1280.01M133.00 1259.71L133.00 1280.01M129.00 1239.40L135.00 1239.40M129.00 1269.86L133.00 1269.86M129.00 1239.40L129.00 1269.86M126.10 1219.09L143.80 1219.09M126.10 1254.63L129.00 1254.63M126.10 1219.09L126.10 1254.63M134.00 1300.32L143.80 1300.32M134.00 1313.85L143.80 1313.85M134.00 1300.32L134.00 1313.85M134.00 1327.39L143.80 1327.39M134.00 1340.93L143.80 1340.93M134.00 1327.39L134.00 1340.93M122.90 1307.09L134.00 1307.09M122.90 1334.16L134.00 1334.16M122.90 1307.09L122.90 1334.16M118.50 1236.86L126.10 1236.86M118.50 1320.62L122.90 1320.62M118.50 1236.86L118.50 1320.62M137.00 1368.00L143.80 1368.00M137.00 1381.54L143.80 1381.54M137.00 1368.00L137.00 1381.54M132.00 1354.47L143.80 1354.47M132.00 1374.77L137.00 1374.77M132.00 1354.47L132.00 1374.77M137.50 1408.62L143.80 1408.62M137.50 1422.15L143.80 1422.15M137.50 1408.62L137.50 1422.15M135.00 1395.08L143.80 1395.08M135.00 1415.39L137.50 1415.39M135.00 1395.08L135.00 1415.39M134.00 1435.69L143.80 1435.69M134.00 1449.23L143.80 1449.23M134.00 1435.69L134.00 1449.23M130.00 1405.23L135.00 1405.23M130.00 1442.46L134.00 1442.46M130.00 1405.23L130.00 1442.46M127.50 1364.62L132.00 1364.62M127.50 1423.85L130.00 1423.85M127.50 1364.62L127.50 1423.85M139.00 1476.30L143.80 1476.30M139.00 1489.84L143.80 1489.84M139.00 1476.30L139.00 1489.84M134.50 1462.77L143.80 1462.77M134.50 1483.07L139.00 1483.07M134.50 1462.77L134.50 1483.07M139.00 1530.45L143.80 1530.45M139.00 1543.99L143.80 1543.99M139.00 1530.45L139.00 1543.99M136.00 1516.92L143.80 1516.92M136.00 1537.22L139.00 1537.22M136.00 1516.92L136.00 1537.22M140.00 1571.06L143.80 1571.06M140.00 1584.60L143.80 1584.60M140.00 1571.06L140.00 1584.60M137.00 1557.53L143.80 1557.53M137.00 1577.83L140.00 1577.83M137.00 1557.53L137.00 1577.83M133.50 1527.07L136.00 1527.07M133.50 1567.68L137.00 1567.68M133.50 1527.07L133.50 1567.68M132.50 1503.38L143.80 1503.38M132.50 1547.37L133.50 1547.37M132.50 1503.38L132.50 1547.37M129.50 1472.92L134.50 1472.92M129.50 1525.38L132.50 1525.38M129.50 1472.92L129.50 1525.38M138.80 1611.68L143.80 1611.68M138.80 1625.21L143.80 1625.21M138.80 1611.68L138.80 1625.21M134.10 1598.14L143.80 1598.14M134.10 1618.45L138.80 1618.45M134.10 1598.14L134.10 1618.45M136.10 1638.75L143.80 1638.75M136.10 1652.29L143.80 1652.29M136.10 1638.75L136.10 1652.29M141.00 1706.44L143.80 1706.44M141.00 1719.98L143.80 1719.98M141.00 1706.44L141.00 1719.98M140.00 1692.90L143.80 1692.90M140.00 1713.21L141.00 1713.21M140.00 1692.90L140.00 1713.21M139.00 1679.36L143.80 1679.36M139.00 1703.05L140.00 1703.05M139.00 1679.36L139.00 1703.05M135.00 1665.83L143.80 1665.83M135.00 1691.21L139.00 1691.21M135.00 1665.83L135.00 1691.21M139.00 1733.51L143.80 1733.51M139.00 1747.05L143.80 1747.05M139.00 1733.51L139.00 1747.05M140.00 1774.12L143.80 1774.12M140.00 1787.66L143.80 1787.66M140.00 1774.12L140.00 1787.66M138.00 1760.59L143.80 1760.59M138.00 1780.89L140.00 1780.89M138.00 1760.59L138.00 1780.89M136.00 1740.28L139.00 1740.28M136.00 1770.74L138.00 1770.74M136.00 1740.28L136.00 1770.74M133.00 1678.52L135.00 1678.52M133.00 1755.51L136.00 1755.51M133.00 1678.52L133.00 1755.51M128.60 1645.52L136.10 1645.52M128.60 1717.01L133.00 1717.01M128.60 1645.52L128.60 1717.01M128.10 1608.29L134.10 1608.29M128.10 1681.27L128.60 1681.27M128.10 1608.29L128.10 1681.27M122.50 1499.15L129.50 1499.15M122.50 1644.78L128.10 1644.78M122.50 1499.15L122.50 1644.78M119.50 1394.23L127.50 1394.23M119.50 1571.96L122.50 1571.96M119.50 1394.23L119.50 1571.96M110.40 1278.74L118.50 1278.74M110.40 1483.10L119.50 1483.10M110.40 1278.74L110.40 1483.10M103.60 985.63L114.70 985.63M103.60 1380.92L110.40 1380.92M103.60 985.63L103.60 1380.92M139.00 1828.27L143.80 1828.27M139.00 1841.81L143.80 1841.81M139.00 1828.27L139.00 1841.81M136.00 1814.74L143.80 1814.74M136.00 1835.04L139.00 1835.04M136.00 1814.74L136.00 1835.04M131.80 1801.20L143.80 1801.20M131.80 1824.89L136.00 1824.89M131.80 1801.20L131.80 1824.89M137.00 1882.42L143.80 1882.42M137.00 1895.96L143.80 1895.96M137.00 1882.42L137.00 1895.96M134.00 1868.89L143.80 1868.89M134.00 1889.19L137.00 1889.19M134.00 1868.89L134.00 1889.19M128.60 1855.35L143.80 1855.35M128.60 1879.04L134.00 1879.04M128.60 1855.35L128.60 1879.04M117.20 1813.04L131.80 1813.04M117.20 1867.19L128.60 1867.19M117.20 1813.04L117.20 1867.19M139.00 1909.50L143.80 1909.50M139.00 1923.04L143.80 1923.04M139.00 1909.50L139.00 1923.04M138.00 1950.11L143.80 1950.11M138.00 1963.65L143.80 1963.65M138.00 1950.11L138.00 1963.65M134.00 1936.57L143.80 1936.57M134.00 1956.88L138.00 1956.88M134.00 1936.57L134.00 1956.88M131.00 1916.27L139.00 1916.27M131.00 1946.73L134.00 1946.73M131.00 1916.27L131.00 1946.73M138.00 2004.26L143.80 2004.26M138.00 2017.80L143.80 2017.80M138.00 2004.26L138.00 2017.80M133.00 1990.72L143.80 1990.72M133.00 2011.03L138.00 2011.03M133.00 1990.72L133.00 2011.03M128.00 1977.19L143.80 1977.19M128.00 2000.88L133.00 2000.88M128.00 1977.19L128.00 2000.88M125.70 1931.50L131.00 1931.50M125.70 1989.03L128.00 1989.03M125.70 1931.50L125.70 1989.03M140.00 2058.41L143.80 2058.41M140.00 2071.95L143.80 2071.95M140.00 2058.41L140.00 2071.95M137.00 2044.87L143.80 2044.87M137.00 2065.18L140.00 2065.18M137.00 2044.87L137.00 2065.18M134.00 2031.33L143.80 2031.33M134.00 2055.03L137.00 2055.03M134.00 2031.33L134.00 2055.03M136.00 2085.48L143.80 2085.48M136.00 2099.02L143.80 2099.02M136.00 2085.48L136.00 2099.02M130.00 2043.18L134.00 2043.18M130.00 2092.25L136.00 2092.25M130.00 2043.18L130.00 2092.25M139.00 2139.63L143.80 2139.63M139.00 2153.17L143.80 2153.17M139.00 2139.63L139.00 2153.17M137.00 2126.10L143.80 2126.10M137.00 2146.40L139.00 2146.40M137.00 2126.10L137.00 2146.40M133.00 2112.56L143.80 2112.56M133.00 2136.25L137.00 2136.25M133.00 2112.56L133.00 2136.25M140.00 2193.78L143.80 2193.78M140.00 2207.32L143.80 2207.32M140.00 2193.78L140.00 2207.32M137.00 2180.25L143.80 2180.25M137.00 2200.55L140.00 2200.55M137.00 2180.25L137.00 2200.55M139.00 2234.40L143.80 2234.40M139.00 2247.93L143.80 2247.93M139.00 2234.40L139.00 2247.93M136.00 2220.86L143.80 2220.86M136.00 2241.16L139.00 2241.16M136.00 2220.86L136.00 2241.16M134.00 2190.40L137.00 2190.40M134.00 2231.01L136.00 2231.01M134.00 2190.40L134.00 2231.01M131.00 2166.71L143.80 2166.71M131.00 2210.70L134.00 2210.70M131.00 2166.71L131.00 2210.70M127.00 2124.40L133.00 2124.40M127.00 2188.71L131.00 2188.71M127.00 2124.40L127.00 2188.71M120.50 2067.72L130.00 2067.72M120.50 2156.56L127.00 2156.56M120.50 2067.72L120.50 2156.56M117.20 1960.26L125.70 1960.26M117.20 2112.14L120.50 2112.14M117.20 1960.26L117.20 2112.14M133.00 2275.01L143.80 2275.01M133.00 2288.54L143.80 2288.54M133.00 2275.01L133.00 2288.54M127.00 2261.47L143.80 2261.47M127.00 2281.78L133.00 2281.78M127.00 2261.47L127.00 2281.78M134.00 2315.62L143.80 2315.62M134.00 2329.16L143.80 2329.16M134.00 2315.62L134.00 2329.16M131.00 2302.08L143.80 2302.08M131.00 2322.39L134.00 2322.39M131.00 2302.08L131.00 2322.39M128.00 2342.69L143.80 2342.69M128.00 2356.23L143.80 2356.23M128.00 2342.69L128.00 2356.23M126.20 2312.23L131.00 2312.23M126.20 2349.46L128.00 2349.46M126.20 2312.23L126.20 2349.46M116.50 2271.62L127.00 2271.62M116.50 2330.85L126.20 2330.85M116.50 2271.62L116.50 2330.85M108.50 2036.20L117.20 2036.20M108.50 2301.24L116.50 2301.24M108.50 2036.20L108.50 2301.24M91.00 1840.12L117.20 1840.12M91.00 2168.72L108.50 2168.72M91.00 1840.12L91.00 2168.72M62.40 1183.27L103.60 1183.27M62.40 2004.42L91.00 2004.42M62.40 1183.27L62.40 2004.42M9.20 203.72L90.00 203.72M9.20 1593.85L62.40 1593.85M9.20 203.72L9.20 1593.85" stroke="#000" stroke-width="1.9" fill="none" stroke-linecap="square"/>
<defs><linearGradient id="lg" x1="0" y1="0" x2="0" y2="1">
<stop offset="0.0000" stop-color="rgb(94, 60, 153)"/>
<stop offset="0.1083" stop-color="rgb(94, 60, 153)"/>
<stop offset="0.1904" stop-color="rgb(120, 95, 172)"/>
<stop offset="0.2608" stop-color="rgb(150, 132, 192)"/>
<stop offset="0.3312" stop-color="rgb(178, 170, 210)"/>
<stop offset="0.4015" stop-color="rgb(210, 207, 228)"/>
<stop offset="0.4719" stop-color="rgb(240, 240, 245)"/>
<stop offset="0.5188" stop-color="rgb(247, 244, 240)"/>
<stop offset="0.5892" stop-color="rgb(252, 226, 195)"/>
<stop offset="0.6595" stop-color="rgb(253, 205, 150)"/>
<stop offset="0.7299" stop-color="rgb(251, 184, 104)"/>
<stop offset="0.8003" stop-color="rgb(245, 155, 65)"/>
<stop offset="0.8824" stop-color="rgb(232, 108, 15)"/>
<stop offset="1.0000" stop-color="rgb(230, 97, 1)"/>
</linearGradient></defs>
<rect x="471.5" y="1448.6" width="34.5" height="182.9" fill="url(#lg)"/>
<line x1="471.5" y1="1453.4" x2="479.8" y2="1453.4" stroke="#fff" stroke-width="1.8"/>
<line x1="497.6" y1="1453.4" x2="506" y2="1453.4" stroke="#fff" stroke-width="1.8"/>
<text x="510.0" y="1460.5" font-family="'Liberation Sans', Arial, Helvetica, sans-serif" font-size="20">20</text>
<line x1="471.5" y1="1496.3" x2="479.8" y2="1496.3" stroke="#fff" stroke-width="1.8"/>
<line x1="497.6" y1="1496.3" x2="506" y2="1496.3" stroke="#fff" stroke-width="1.8"/>
<text x="510.0" y="1503.4" font-family="'Liberation Sans', Arial, Helvetica, sans-serif" font-size="20">10</text>
<line x1="471.5" y1="1539.2" x2="479.8" y2="1539.2" stroke="#fff" stroke-width="1.8"/>
<line x1="497.6" y1="1539.2" x2="506" y2="1539.2" stroke="#fff" stroke-width="1.8"/>
<text x="510.0" y="1546.3" font-family="'Liberation Sans', Arial, Helvetica, sans-serif" font-size="20">0</text>
<line x1="471.5" y1="1582.1" x2="479.8" y2="1582.1" stroke="#fff" stroke-width="1.8"/>
<line x1="497.6" y1="1582.1" x2="506" y2="1582.1" stroke="#fff" stroke-width="1.8"/>
<text x="510.0" y="1589.2" font-family="'Liberation Sans', Arial, Helvetica, sans-serif" font-size="20">-10</text>
<line x1="471.5" y1="1625.0" x2="479.8" y2="1625.0" stroke="#fff" stroke-width="1.8"/>
<line x1="497.6" y1="1625.0" x2="506" y2="1625.0" stroke="#fff" stroke-width="1.8"/>
<text x="510.0" y="1632.1" font-family="'Liberation Sans', Arial, Helvetica, sans-serif" font-size="20">-20</text>
<text x="471" y="1430" font-family="'Liberation Sans', Arial, Helvetica, sans-serif" font-size="19.6">log2(5p/3p)</text>
<text x="9.0" y="30.4" font-family="'Liberation Sans', Arial, Helvetica, sans-serif" font-weight="bold" font-size="35.5">A</text>
<text x="635.0" y="30.0" font-family="'Liberation Sans', Arial, Helvetica, sans-serif" font-weight="bold" font-size="35.5">B</text>
<text x="633.6" y="603.0" font-family="'Liberation Sans', Arial, Helvetica, sans-serif" font-weight="bold" font-size="35.5">C</text>
<text x="634.4" y="1230.3" font-family="'Liberation Sans', Arial, Helvetica, sans-serif" font-weight="bold" font-size="35.5">D</text>
<text x="634.0" y="1838.2" font-family="'Liberation Sans', Arial, Helvetica, sans-serif" font-weight="bold" font-size="35.5">E</text>
<clipPath id="cp0"><rect x="764.8" y="11.2" width="830.0" height="505.2"/></clipPath>
<g clip-path="url(#cp0)">
<line x1="757.6" y1="490.2" x2="1602.4" y2="-81.4" stroke="#000" stroke-width="1.3" stroke-dasharray="1.1 3.3"/>
<line x1="757.6" y1="524.1" x2="1602.4" y2="-47.6" stroke="#000" stroke-width="1.3" stroke-dasharray="4.4 4.4"/>
<line x1="757.6" y1="557.9" x2="1602.4" y2="-13.7" stroke="#000" stroke-width="1.3" stroke-dasharray="1.1 3.3"/>
</g>
<line x1="764.8" y1="238.45" x2="1594.8" y2="238.45" stroke="#4d4d4d" stroke-width="1.3"/>
<line x1="1180.00" y1="11.2" x2="1180.00" y2="516.4" stroke="#1f1f1f" stroke-width="2.1"/>
<path d="M764.8 11.2V516.8H1594.8" stroke="#555" stroke-width="1.55" fill="none" stroke-linejoin="round"/>
<line x1="755.0" y1="34.10" x2="764.8" y2="34.10" stroke="#000" stroke-width="2.3"/>
<text x="750.8" y="43.30" text-anchor="end" font-family="'Liberation Sans', Arial, Helvetica, sans-serif" font-size="25.5">20</text>
<line x1="755.0" y1="136.18" x2="764.8" y2="136.18" stroke="#000" stroke-width="2.3"/>
<text x="750.8" y="145.38" text-anchor="end" font-family="'Liberation Sans', Arial, Helvetica, sans-serif" font-size="25.5">10</text>
<line x1="755.0" y1="238.25" x2="764.8" y2="238.25" stroke="#000" stroke-width="2.3"/>
<text x="750.8" y="247.45" text-anchor="end" font-family="'Liberation Sans', Arial, Helvetica, sans-serif" font-size="25.5">0</text>
<line x1="755.0" y1="340.32" x2="764.8" y2="340.32" stroke="#000" stroke-width="2.3"/>
<text x="750.8" y="349.52" text-anchor="end" font-family="'Liberation Sans', Arial, Helvetica, sans-serif" font-size="25.5">-10</text>
<line x1="755.0" y1="442.40" x2="764.8" y2="442.40" stroke="#000" stroke-width="2.3"/>
<text x="750.8" y="451.60" text-anchor="end" font-family="'Liberation Sans', Arial, Helvetica, sans-serif" font-size="25.5">-20</text>
<line x1="878.30" y1="516.4" x2="878.30" y2="526.2" stroke="#000" stroke-width="2.3"/>
<text x="878.30" y="552.4" text-anchor="middle" font-family="'Liberation Sans', Arial, Helvetica, sans-serif" font-size="25.5">-20</text>
<line x1="1029.15" y1="516.4" x2="1029.15" y2="526.2" stroke="#000" stroke-width="2.3"/>
<text x="1029.15" y="552.4" text-anchor="middle" font-family="'Liberation Sans', Arial, Helvetica, sans-serif" font-size="25.5">-10</text>
<line x1="1180.00" y1="516.4" x2="1180.00" y2="526.2" stroke="#000" stroke-width="2.3"/>
<text x="1180.00" y="552.4" text-anchor="middle" font-family="'Liberation Sans', Arial, Helvetica, sans-serif" font-size="25.5">0</text>
<line x1="1330.85" y1="516.4" x2="1330.85" y2="526.2" stroke="#000" stroke-width="2.3"/>
<text x="1330.85" y="552.4" text-anchor="middle" font-family="'Liberation Sans', Arial, Helvetica, sans-serif" font-size="25.5">10</text>
<line x1="1481.70" y1="516.4" x2="1481.70" y2="526.2" stroke="#000" stroke-width="2.3"/>
<text x="1481.70" y="552.4" text-anchor="middle" font-family="'Liberation Sans', Arial, Helvetica, sans-serif" font-size="25.5">20</text>
<text x="1179" y="584.6" text-anchor="middle" font-family="'Liberation Sans', Arial, Helvetica, sans-serif" font-size="26"><tspan font-style="italic">P.hawaiensis</tspan> log2(5p/3p)</text>
<text transform="translate(705.2,267.2) rotate(-90)" text-anchor="middle" font-family="'Liberation Sans', Arial, Helvetica, sans-serif" font-size="26"><tspan font-style="italic">T.castaneum</tspan> log2(5p/3p)</text>
<text x="775" y="229.8" font-family="'Liberation Sans', Arial, Helvetica, sans-serif" font-size="26.5">3’/5’</text>
<text x="775" y="268.6" font-family="'Liberation Sans', Arial, Helvetica, sans-serif" font-size="26.5">3’/3’</text>
<text x="1596" y="229.8" text-anchor="end" font-family="'Liberation Sans', Arial, Helvetica, sans-serif" font-size="26.5">5’/5’</text>
<text x="1596" y="268.6" text-anchor="end" font-family="'Liberation Sans', Arial, Helvetica, sans-serif" font-size="26.5">5’/3’</text>
<line x1="1165" y1="156.6" x2="1193.6" y2="163.4" stroke="#000" stroke-width="1.1"/>
<line x1="1253" y1="154" x2="1274.5" y2="139" stroke="#000" stroke-width="1.1"/>
<circle cx="1273.4" cy="157.1" r="2.8" fill="#000"/>
<circle cx="1274.2" cy="167.5" r="2.8" fill="#000"/>
<circle cx="1252.6" cy="173.2" r="2.8" fill="#000"/>
<circle cx="1254.7" cy="176.6" r="2.8" fill="#000"/>
<circle cx="1246.9" cy="185.7" r="2.8" fill="#000"/>
<circle cx="1264.5" cy="195.6" r="2.8" fill="#000"/>
<circle cx="1286.6" cy="190.6" r="2.8" fill="#000"/>
<circle cx="1287.9" cy="198.7" r="2.8" fill="#000"/>
<circle cx="1171" cy="224.7" r="2.8" fill="#000"/>
<circle cx="1144.3" cy="265.5" r="2.8" fill="#000"/>
<circle cx="1138.8" cy="290.1" r="2.8" fill="#000"/>
<circle cx="1062.5" cy="295.3" r="2.8" fill="#000"/>
<circle cx="1018.8" cy="316.1" r="2.8" fill="#000"/>
<circle cx="1069" cy="323.4" r="2.8" fill="#000"/>
<circle cx="1085.8" cy="329.1" r="2.8" fill="#000"/>
<circle cx="1047.4" cy="342.1" r="2.8" fill="#000"/>
<circle cx="1058" cy="341.6" r="2.8" fill="#000"/>
<circle cx="1194.2" cy="163.6" r="3.0" fill="#b21e20"/>
<circle cx="1218.3" cy="165.5" r="3.0" fill="#b21e20"/>
<circle cx="1226.1" cy="162.3" r="3.0" fill="#b21e20"/>
<circle cx="1251.3" cy="155.6" r="3.0" fill="#b21e20"/>
<circle cx="1102.7" cy="192.7" r="3.0" fill="#b21e20"/>
<circle cx="1098.8" cy="254.8" r="3.0" fill="#b21e20"/>
<circle cx="1063.0" cy="281.6" r="3.0" fill="#b21e20"/>
<circle cx="1019.9" cy="294.3" r="3.0" fill="#b21e20"/>
<circle cx="996.2" cy="316.1" r="3.0" fill="#b21e20"/>
<circle cx="1182.5" cy="292.7" r="3.0" fill="#b21e20"/>
<circle cx="1215.7" cy="290.4" r="3.0" fill="#b21e20"/>
<circle cx="1214.4" cy="292.7" r="3.0" fill="#b21e20"/>
<circle cx="1249.5" cy="270.6" r="3.0" fill="#b21e20"/>
<circle cx="1285.0" cy="220.3" r="3.0" fill="#b21e20"/>
<circle cx="1331.6" cy="174.8" r="3.0" fill="#b21e20"/>
<circle cx="1338.2" cy="177.7" r="3.0" fill="#b21e20"/>
<circle cx="1376.1" cy="181.9" r="3.0" fill="#b21e20"/>
<circle cx="1410.4" cy="155.5" r="3.0" fill="#b21e20"/>
<circle cx="1529.8" cy="344.2" r="3.0" fill="#b21e20"/>
<text x="1122.3" y="163.2" text-anchor="middle" font-family="'Liberation Sans', Arial, Helvetica, sans-serif" font-size="17.6">miR−263a</text>
<text x="1207.3" y="157.6" text-anchor="middle" font-family="'Liberation Sans', Arial, Helvetica, sans-serif" font-size="17.6">miR−190</text>
<text x="1200.4" y="183.6" text-anchor="middle" font-family="'Liberation Sans', Arial, Helvetica, sans-serif" font-size="17.6">miR−9e</text>
<text x="1290.7" y="138.7" text-anchor="middle" font-family="'Liberation Sans', Arial, Helvetica, sans-serif" font-size="17.6">miR−252a</text>
<text x="1115.8" y="188.8" text-anchor="middle" font-family="'Liberation Sans', Arial, Helvetica, sans-serif" font-size="17.6">miR−1000</text>
<text x="1111.9" y="250.4" text-anchor="middle" font-family="'Liberation Sans', Arial, Helvetica, sans-serif" font-size="17.6">miR−993</text>
<text x="1083.3" y="276.8" text-anchor="middle" font-family="'Liberation Sans', Arial, Helvetica, sans-serif" font-size="17.6">miR−279a</text>
<text x="998.9" y="290.4" text-anchor="middle" font-family="'Liberation Sans', Arial, Helvetica, sans-serif" font-size="17.6">miR−133</text>
<text x="979.8" y="312.2" text-anchor="middle" font-family="'Liberation Sans', Arial, Helvetica, sans-serif" font-size="17.6">miR−184</text>
<text x="1168.3" y="288.8" text-anchor="middle" font-family="'Liberation Sans', Arial, Helvetica, sans-serif" font-size="17.6">miR−8</text>
<text x="1232.6" y="288.0" text-anchor="middle" font-family="'Liberation Sans', Arial, Helvetica, sans-serif" font-size="17.6">miR−71</text>
<text x="1232.6" y="310.1" text-anchor="middle" font-family="'Liberation Sans', Arial, Helvetica, sans-serif" font-size="17.6">miR−307</text>
<text x="1263.3" y="266.7" text-anchor="middle" font-family="'Liberation Sans', Arial, Helvetica, sans-serif" font-size="17.6">miR−219</text>
<text x="1298.2" y="216.6" text-anchor="middle" font-family="'Liberation Sans', Arial, Helvetica, sans-serif" font-size="17.6">miR−34</text>
<text x="1336.1" y="170.3" text-anchor="middle" font-family="'Liberation Sans', Arial, Helvetica, sans-serif" font-size="17.6">miR−9a</text>
<text x="1394.0" y="177.4" text-anchor="middle" font-family="'Liberation Sans', Arial, Helvetica, sans-serif" font-size="17.6">let−7</text>
<text x="1423.8" y="151.2" text-anchor="middle" font-family="'Liberation Sans', Arial, Helvetica, sans-serif" font-size="17.6">miR−315</text>
<text x="1320.0" y="195.2" text-anchor="middle" font-family="'Liberation Sans', Arial, Helvetica, sans-serif" font-size="17.6">miR−7</text>
<text x="1543.2" y="339.9" text-anchor="middle" font-family="'Liberation Sans', Arial, Helvetica, sans-serif" font-size="17.6">miR−92c</text>
<clipPath id="cp605"><rect x="764.8" y="616.6" width="830.0" height="505.19999999999993"/></clipPath>
<g clip-path="url(#cp605)">
<line x1="757.6" y1="1095.6" x2="1602.4" y2="524.0" stroke="#000" stroke-width="1.3" stroke-dasharray="1.1 3.3"/>
<line x1="757.6" y1="1129.5" x2="1602.4" y2="557.8" stroke="#000" stroke-width="1.3" stroke-dasharray="4.4 4.4"/>
<line x1="757.6" y1="1163.3" x2="1602.4" y2="591.7" stroke="#000" stroke-width="1.3" stroke-dasharray="1.1 3.3"/>
</g>
<line x1="764.8" y1="843.85" x2="1594.8" y2="843.85" stroke="#4d4d4d" stroke-width="1.3"/>
<line x1="1180.00" y1="616.6" x2="1180.00" y2="1121.8" stroke="#1f1f1f" stroke-width="2.1"/>
<path d="M764.8 616.6V1122.2H1594.8" stroke="#555" stroke-width="1.55" fill="none" stroke-linejoin="round"/>
<line x1="755.0" y1="639.50" x2="764.8" y2="639.50" stroke="#000" stroke-width="2.3"/>
<text x="750.8" y="648.70" text-anchor="end" font-family="'Liberation Sans', Arial, Helvetica, sans-serif" font-size="25.5">20</text>
<line x1="755.0" y1="741.58" x2="764.8" y2="741.58" stroke="#000" stroke-width="2.3"/>
<text x="750.8" y="750.78" text-anchor="end" font-family="'Liberation Sans', Arial, Helvetica, sans-serif" font-size="25.5">10</text>
<line x1="755.0" y1="843.65" x2="764.8" y2="843.65" stroke="#000" stroke-width="2.3"/>
<text x="750.8" y="852.85" text-anchor="end" font-family="'Liberation Sans', Arial, Helvetica, sans-serif" font-size="25.5">0</text>
<line x1="755.0" y1="945.72" x2="764.8" y2="945.72" stroke="#000" stroke-width="2.3"/>
<text x="750.8" y="954.92" text-anchor="end" font-family="'Liberation Sans', Arial, Helvetica, sans-serif" font-size="25.5">-10</text>
<line x1="755.0" y1="1047.80" x2="764.8" y2="1047.80" stroke="#000" stroke-width="2.3"/>
<text x="750.8" y="1057.00" text-anchor="end" font-family="'Liberation Sans', Arial, Helvetica, sans-serif" font-size="25.5">-20</text>
<line x1="878.30" y1="1121.8" x2="878.30" y2="1131.6" stroke="#000" stroke-width="2.3"/>
<text x="878.30" y="1157.8" text-anchor="middle" font-family="'Liberation Sans', Arial, Helvetica, sans-serif" font-size="25.5">-20</text>
<line x1="1029.15" y1="1121.8" x2="1029.15" y2="1131.6" stroke="#000" stroke-width="2.3"/>
<text x="1029.15" y="1157.8" text-anchor="middle" font-family="'Liberation Sans', Arial, Helvetica, sans-serif" font-size="25.5">-10</text>
<line x1="1180.00" y1="1121.8" x2="1180.00" y2="1131.6" stroke="#000" stroke-width="2.3"/>
<text x="1180.00" y="1157.8" text-anchor="middle" font-family="'Liberation Sans', Arial, Helvetica, sans-serif" font-size="25.5">0</text>
<line x1="1330.85" y1="1121.8" x2="1330.85" y2="1131.6" stroke="#000" stroke-width="2.3"/>
<text x="1330.85" y="1157.8" text-anchor="middle" font-family="'Liberation Sans', Arial, Helvetica, sans-serif" font-size="25.5">10</text>
<line x1="1481.70" y1="1121.8" x2="1481.70" y2="1131.6" stroke="#000" stroke-width="2.3"/>
<text x="1481.70" y="1157.8" text-anchor="middle" font-family="'Liberation Sans', Arial, Helvetica, sans-serif" font-size="25.5">20</text>
<text x="1179" y="1190.0" text-anchor="middle" font-family="'Liberation Sans', Arial, Helvetica, sans-serif" font-size="26"><tspan font-style="italic">P.hawaiensis</tspan> log2(5p/3p)</text>
<text transform="translate(705.2,871.0) rotate(-90)" text-anchor="middle" font-family="'Liberation Sans', Arial, Helvetica, sans-serif" font-size="26"><tspan font-style="italic">P.tepidariorum</tspan> log2(5p/3p)</text>
<text x="775" y="835.2" font-family="'Liberation Sans', Arial, Helvetica, sans-serif" font-size="26.5">3’/5’</text>
<text x="775" y="874.0" font-family="'Liberation Sans', Arial, Helvetica, sans-serif" font-size="26.5">3’/3’</text>
<text x="1596" y="835.2" text-anchor="end" font-family="'Liberation Sans', Arial, Helvetica, sans-serif" font-size="26.5">5’/5’</text>
<text x="1596" y="874.0" text-anchor="end" font-family="'Liberation Sans', Arial, Helvetica, sans-serif" font-size="26.5">5’/3’</text>
<line x1="1071.6" y1="878" x2="1082" y2="885" stroke="#000" stroke-width="1.1"/>
<line x1="1338.2" y1="830.3" x2="1353" y2="820.6" stroke="#000" stroke-width="1.1"/>
<circle cx="1134.1" cy="853" r="2.8" fill="#000"/>
<circle cx="1144.3" cy="860.2" r="2.8" fill="#000"/>
<circle cx="1131" cy="871.8" r="2.8" fill="#000"/>
<circle cx="1131.8" cy="876.4" r="2.8" fill="#000"/>
<circle cx="1146.1" cy="885.9" r="2.8" fill="#000"/>
<circle cx="1226.1" cy="795" r="2.8" fill="#000"/>
<circle cx="1062.5" cy="913.9" r="2.8" fill="#000"/>
<circle cx="1052.3" cy="920.5" r="2.8" fill="#000"/>
<circle cx="1072.7" cy="918.9" r="2.8" fill="#000"/>
<circle cx="1085.9" cy="925.7" r="2.8" fill="#000"/>
<circle cx="1032.5" cy="929.1" r="2.8" fill="#000"/>
<circle cx="996.6" cy="942.7" r="2.8" fill="#000"/>
<circle cx="1031.1" cy="956.8" r="2.8" fill="#000"/>
<circle cx="1286.8" cy="778.2" r="2.8" fill="#000"/>
<circle cx="1294.1" cy="774.7" r="2.8" fill="#000"/>
<circle cx="1274.4" cy="797.9" r="2.8" fill="#000"/>
<circle cx="1273.5" cy="812.6" r="2.8" fill="#000"/>
<circle cx="1255" cy="822.9" r="2.8" fill="#000"/>
<circle cx="1026.1" cy="743.2" r="3.0" fill="#b21e20"/>
<circle cx="1031.4" cy="818.9" r="3.0" fill="#b21e20"/>
<circle cx="1098.9" cy="809.3" r="3.0" fill="#b21e20"/>
<circle cx="1058.4" cy="843.9" r="3.0" fill="#b21e20"/>
<circle cx="1062.5" cy="858.0" r="3.0" fill="#b21e20"/>
<circle cx="1075.7" cy="865.7" r="3.0" fill="#b21e20"/>
<circle cx="1071.1" cy="877.5" r="3.0" fill="#b21e20"/>
<circle cx="1018.4" cy="883.2" r="3.0" fill="#b21e20"/>
<circle cx="1047.3" cy="888.6" r="3.0" fill="#b21e20"/>
<circle cx="989.1" cy="924.5" r="3.0" fill="#b21e20"/>
<circle cx="1182.3" cy="878.0" r="3.0" fill="#b21e20"/>
<circle cx="1136.4" cy="909.3" r="3.0" fill="#b21e20"/>
<circle cx="1155.5" cy="930.0" r="3.0" fill="#b21e20"/>
<circle cx="1210.3" cy="785.3" r="3.0" fill="#b21e20"/>
<circle cx="1246.5" cy="843.5" r="3.0" fill="#b21e20"/>
<circle cx="1215.6" cy="885.6" r="3.0" fill="#b21e20"/>
<circle cx="1331.5" cy="783.2" r="3.0" fill="#b21e20"/>
<circle cx="1410.3" cy="803.2" r="3.0" fill="#b21e20"/>
<circle cx="1338.2" cy="830.3" r="3.0" fill="#b21e20"/>
<circle cx="1284.7" cy="836.8" r="3.0" fill="#b21e20"/>
<circle cx="1375.9" cy="843.0" r="3.0" fill="#b21e20"/>
<circle cx="1529.4" cy="917.6" r="3.0" fill="#b21e20"/>
<text x="1039.2" y="739.2" text-anchor="middle" font-family="'Liberation Sans', Arial, Helvetica, sans-serif" font-size="17.6">miR−263b</text>
<text x="1026.5" y="814.8" text-anchor="middle" font-family="'Liberation Sans', Arial, Helvetica, sans-serif" font-size="17.6">miR−278b</text>
<text x="1116.3" y="805.7" text-anchor="middle" font-family="'Liberation Sans', Arial, Helvetica, sans-serif" font-size="17.6">miR−993a</text>
<text x="1054.6" y="839.2" text-anchor="middle" font-family="'Liberation Sans', Arial, Helvetica, sans-serif" font-size="17.6">bantam</text>
<text x="1030.7" y="861.4" text-anchor="middle" font-family="'Liberation Sans', Arial, Helvetica, sans-serif" font-size="17.6">miR−1</text>
<text x="1098.3" y="860.3" text-anchor="middle" font-family="'Liberation Sans', Arial, Helvetica, sans-serif" font-size="17.6">miR−2d</text>
<text x="1088.7" y="900.1" text-anchor="middle" font-family="'Liberation Sans', Arial, Helvetica, sans-serif" font-size="17.6">miR−29a</text>
<text x="977.9" y="881.9" text-anchor="middle" font-family="'Liberation Sans', Arial, Helvetica, sans-serif" font-size="17.6">miR−317</text>
<text x="1009.1" y="906.9" text-anchor="middle" font-family="'Liberation Sans', Arial, Helvetica, sans-serif" font-size="17.6">miR−276</text>
<text x="947.8" y="927.3" text-anchor="middle" font-family="'Liberation Sans', Arial, Helvetica, sans-serif" font-size="17.6">miR−92b</text>
<text x="1150.6" y="880.7" text-anchor="middle" font-family="'Liberation Sans', Arial, Helvetica, sans-serif" font-size="17.6">miR−8</text>
<text x="1204.8" y="859.8" text-anchor="middle" font-family="'Liberation Sans', Arial, Helvetica, sans-serif" font-size="17.6">miR−745</text>
<text x="1172.8" y="905.7" text-anchor="middle" font-family="'Liberation Sans', Arial, Helvetica, sans-serif" font-size="17.6">miR−193a</text>
<text x="1173.0" y="926.2" text-anchor="middle" font-family="'Liberation Sans', Arial, Helvetica, sans-serif" font-size="17.6">miR−2b</text>
<text x="1223.2" y="781.5" text-anchor="middle" font-family="'Liberation Sans', Arial, Helvetica, sans-serif" font-size="17.6">miR−125a</text>
<text x="1241.2" y="839.4" text-anchor="middle" font-family="'Liberation Sans', Arial, Helvetica, sans-serif" font-size="17.6">iab−4</text>
<text x="1228.0" y="881.2" text-anchor="middle" font-family="'Liberation Sans', Arial, Helvetica, sans-serif" font-size="17.6">miR−71</text>
<text x="1344.9" y="779.2" text-anchor="middle" font-family="'Liberation Sans', Arial, Helvetica, sans-serif" font-size="17.6">miR−9</text>
<text x="1419.1" y="798.2" text-anchor="middle" font-family="'Liberation Sans', Arial, Helvetica, sans-serif" font-size="17.6">miR−315</text>
<text x="1366.2" y="819.7" text-anchor="middle" font-family="'Liberation Sans', Arial, Helvetica, sans-serif" font-size="17.6">miR−7</text>
<text x="1301.8" y="832.7" text-anchor="middle" font-family="'Liberation Sans', Arial, Helvetica, sans-serif" font-size="17.6">miR−34</text>
<text x="1394.1" y="838.8" text-anchor="middle" font-family="'Liberation Sans', Arial, Helvetica, sans-serif" font-size="17.6">let−7</text>
<text x="1543.1" y="913.0" text-anchor="middle" font-family="'Liberation Sans', Arial, Helvetica, sans-serif" font-size="17.6">miR−92a</text>
<clipPath id="cp1210"><rect x="764.8" y="1222.0" width="830.0" height="505.1999999999998"/></clipPath>
<g clip-path="url(#cp1210)">
<line x1="757.6" y1="1701.0" x2="1602.4" y2="1129.4" stroke="#000" stroke-width="1.3" stroke-dasharray="1.1 3.3"/>
<line x1="757.6" y1="1734.9" x2="1602.4" y2="1163.2" stroke="#000" stroke-width="1.3" stroke-dasharray="4.4 4.4"/>
<line x1="757.6" y1="1768.7" x2="1602.4" y2="1197.1" stroke="#000" stroke-width="1.3" stroke-dasharray="1.1 3.3"/>
</g>
<line x1="764.8" y1="1449.25" x2="1594.8" y2="1449.25" stroke="#4d4d4d" stroke-width="1.3"/>
<line x1="1181.00" y1="1222.0" x2="1181.00" y2="1727.1999999999998" stroke="#666" stroke-width="2.1"/>
<path d="M764.8 1222.0V1727.6H1594.8" stroke="#555" stroke-width="1.55" fill="none" stroke-linejoin="round"/>
<line x1="755.0" y1="1244.90" x2="764.8" y2="1244.90" stroke="#000" stroke-width="2.3"/>
<text x="750.8" y="1254.10" text-anchor="end" font-family="'Liberation Sans', Arial, Helvetica, sans-serif" font-size="25.5">20</text>
<line x1="755.0" y1="1346.97" x2="764.8" y2="1346.97" stroke="#000" stroke-width="2.3"/>
<text x="750.8" y="1356.17" text-anchor="end" font-family="'Liberation Sans', Arial, Helvetica, sans-serif" font-size="25.5">10</text>
<line x1="755.0" y1="1449.05" x2="764.8" y2="1449.05" stroke="#000" stroke-width="2.3"/>
<text x="750.8" y="1458.25" text-anchor="end" font-family="'Liberation Sans', Arial, Helvetica, sans-serif" font-size="25.5">0</text>
<line x1="755.0" y1="1551.12" x2="764.8" y2="1551.12" stroke="#000" stroke-width="2.3"/>
<text x="750.8" y="1560.33" text-anchor="end" font-family="'Liberation Sans', Arial, Helvetica, sans-serif" font-size="25.5">-10</text>
<line x1="755.0" y1="1653.20" x2="764.8" y2="1653.20" stroke="#000" stroke-width="2.3"/>
<text x="750.8" y="1662.40" text-anchor="end" font-family="'Liberation Sans', Arial, Helvetica, sans-serif" font-size="25.5">-20</text>
<line x1="878.30" y1="1727.1999999999998" x2="878.30" y2="1737.0" stroke="#000" stroke-width="2.3"/>
<text x="878.30" y="1763.2" text-anchor="middle" font-family="'Liberation Sans', Arial, Helvetica, sans-serif" font-size="25.5">-20</text>
<line x1="1029.15" y1="1727.1999999999998" x2="1029.15" y2="1737.0" stroke="#000" stroke-width="2.3"/>
<text x="1029.15" y="1763.2" text-anchor="middle" font-family="'Liberation Sans', Arial, Helvetica, sans-serif" font-size="25.5">-10</text>
<line x1="1180.00" y1="1727.1999999999998" x2="1180.00" y2="1737.0" stroke="#000" stroke-width="2.3"/>
<text x="1180.00" y="1763.2" text-anchor="middle" font-family="'Liberation Sans', Arial, Helvetica, sans-serif" font-size="25.5">0</text>
<line x1="1330.85" y1="1727.1999999999998" x2="1330.85" y2="1737.0" stroke="#000" stroke-width="2.3"/>
<text x="1330.85" y="1763.2" text-anchor="middle" font-family="'Liberation Sans', Arial, Helvetica, sans-serif" font-size="25.5">10</text>
<line x1="1481.70" y1="1727.1999999999998" x2="1481.70" y2="1737.0" stroke="#000" stroke-width="2.3"/>
<text x="1481.70" y="1763.2" text-anchor="middle" font-family="'Liberation Sans', Arial, Helvetica, sans-serif" font-size="25.5">20</text>
<text x="1179" y="1795.4" text-anchor="middle" font-family="'Liberation Sans', Arial, Helvetica, sans-serif" font-size="26"><tspan font-style="italic">P.hawaiensis</tspan> log2(5p/3p)</text>
<text transform="translate(705.2,1477.2) rotate(-90)" text-anchor="middle" font-family="'Liberation Sans', Arial, Helvetica, sans-serif" font-size="26"><tspan font-style="italic">A.melifera</tspan> log2(5p/3p)</text>
<text x="775" y="1440.6" font-family="'Liberation Sans', Arial, Helvetica, sans-serif" font-size="26.5">3’/5’</text>
<text x="775" y="1479.4" font-family="'Liberation Sans', Arial, Helvetica, sans-serif" font-size="26.5">3’/3’</text>
<text x="1596" y="1440.6" text-anchor="end" font-family="'Liberation Sans', Arial, Helvetica, sans-serif" font-size="26.5">5’/5’</text>
<text x="1596" y="1479.4" text-anchor="end" font-family="'Liberation Sans', Arial, Helvetica, sans-serif" font-size="26.5">5’/3’</text>
<line x1="1226" y1="1289" x2="1237.5" y2="1296.8" stroke="#000" stroke-width="1.1"/>
<line x1="1296" y1="1289.8" x2="1342.6" y2="1281.5" stroke="#000" stroke-width="1.1"/>
<circle cx="1285.5" cy="1397.6" r="2.8" fill="#000"/>
<circle cx="1047.5" cy="1520" r="2.8" fill="#000"/>
<circle cx="1280.9" cy="1252.9" r="3.0" fill="#b21e20"/>
<circle cx="1411.2" cy="1252.9" r="3.0" fill="#b21e20"/>
<circle cx="1227.0" cy="1264.1" r="3.0" fill="#b21e20"/>
<circle cx="1238.2" cy="1297.2" r="3.0" fill="#b21e20"/>
<circle cx="1252.0" cy="1284.0" r="3.0" fill="#b21e20"/>
<circle cx="1295.0" cy="1290.3" r="3.0" fill="#b21e20"/>
<circle cx="1265.0" cy="1301.5" r="3.0" fill="#b21e20"/>
<circle cx="1202.0" cy="1312.4" r="3.0" fill="#b21e20"/>
<circle cx="1253.0" cy="1308.0" r="3.0" fill="#b21e20"/>
<circle cx="1194.8" cy="1330.9" r="3.0" fill="#b21e20"/>
<circle cx="1250.7" cy="1337.0" r="3.0" fill="#b21e20"/>
<circle cx="1248.0" cy="1340.8" r="3.0" fill="#b21e20"/>
<circle cx="1376.5" cy="1367.1" r="3.0" fill="#b21e20"/>
<circle cx="1332.4" cy="1396.5" r="3.0" fill="#b21e20"/>
<circle cx="1255.8" cy="1436.9" r="3.0" fill="#b21e20"/>
<circle cx="1287.4" cy="1446.5" r="3.0" fill="#b21e20"/>
<circle cx="1338.8" cy="1450.0" r="3.0" fill="#b21e20"/>
<circle cx="1015.5" cy="1287.0" r="3.0" fill="#b21e20"/>
<circle cx="1099.4" cy="1462.7" r="3.0" fill="#b21e20"/>
<circle cx="1216.4" cy="1474.5" r="3.0" fill="#b21e20"/>
<circle cx="1182.6" cy="1517.1" r="3.0" fill="#b21e20"/>
<circle cx="1059.0" cy="1670.6" r="3.0" fill="#b21e20"/>
<text x="1295.6" y="1248.8" text-anchor="middle" font-family="'Liberation Sans', Arial, Helvetica, sans-serif" font-size="17.6">miR−31a</text>
<text x="1424.7" y="1248.8" text-anchor="middle" font-family="'Liberation Sans', Arial, Helvetica, sans-serif" font-size="17.6">miR−315</text>
<text x="1216.0" y="1259.7" text-anchor="middle" font-family="'Liberation Sans', Arial, Helvetica, sans-serif" font-size="17.6">miR−190</text>
<text x="1205.5" y="1287.3" text-anchor="middle" font-family="'Liberation Sans', Arial, Helvetica, sans-serif" font-size="17.6">miR−252b</text>
<text x="1295.9" y="1279.7" text-anchor="middle" font-family="'Liberation Sans', Arial, Helvetica, sans-serif" font-size="17.6">miR−252a</text>
<text x="1384.9" y="1287.7" text-anchor="middle" font-family="'Liberation Sans', Arial, Helvetica, sans-serif" font-size="17.6">miR−263a</text>
<text x="1307.0" y="1307.7" text-anchor="middle" font-family="'Liberation Sans', Arial, Helvetica, sans-serif" font-size="17.6">miR−316</text>
<text x="1197.7" y="1308.2" text-anchor="middle" font-family="'Liberation Sans', Arial, Helvetica, sans-serif" font-size="17.6">miR−306</text>
<text x="1248.2" y="1327.7" text-anchor="middle" font-family="'Liberation Sans', Arial, Helvetica, sans-serif" font-size="17.6">miR−2765</text>
<text x="1148.8" y="1328.0" text-anchor="middle" font-family="'Liberation Sans', Arial, Helvetica, sans-serif" font-size="17.6">miR−263a</text>
<text x="1291.5" y="1348.8" text-anchor="middle" font-family="'Liberation Sans', Arial, Helvetica, sans-serif" font-size="17.6">miR−219</text>
<text x="1205.2" y="1359.0" text-anchor="middle" font-family="'Liberation Sans', Arial, Helvetica, sans-serif" font-size="17.6">miR−iab−4</text>
<text x="1390.0" y="1363.0" text-anchor="middle" font-family="'Liberation Sans', Arial, Helvetica, sans-serif" font-size="17.6">let−7</text>
<text x="1345.8" y="1392.4" text-anchor="middle" font-family="'Liberation Sans', Arial, Helvetica, sans-serif" font-size="17.6">miR−9a</text>
<text x="1238.8" y="1433.0" text-anchor="middle" font-family="'Liberation Sans', Arial, Helvetica, sans-serif" font-size="17.6">miR−281</text>
<text x="1318.8" y="1442.4" text-anchor="middle" font-family="'Liberation Sans', Arial, Helvetica, sans-serif" font-size="17.6">miR−305</text>
<text x="1369.7" y="1463.6" text-anchor="middle" font-family="'Liberation Sans', Arial, Helvetica, sans-serif" font-size="17.6">miR−7</text>
<text x="1028.6" y="1283.0" text-anchor="middle" font-family="'Liberation Sans', Arial, Helvetica, sans-serif" font-size="17.6">miR−2−2</text>
<text x="1112.7" y="1458.2" text-anchor="middle" font-family="'Liberation Sans', Arial, Helvetica, sans-serif" font-size="17.6">miR−993</text>
<text x="1228.8" y="1470.9" text-anchor="middle" font-family="'Liberation Sans', Arial, Helvetica, sans-serif" font-size="17.6">miR−71</text>
<text x="1195.7" y="1513.2" text-anchor="middle" font-family="'Liberation Sans', Arial, Helvetica, sans-serif" font-size="17.6">miR−8</text>
<text x="1072.1" y="1667.0" text-anchor="middle" font-family="'Liberation Sans', Arial, Helvetica, sans-serif" font-size="17.6">bantam</text>
<rect x="768.4" y="1848.6" width="368.0" height="229.2" fill="#ebebeb"/>
<line x1="768.4" y1="2050.75" x2="1136.4" y2="2050.75" stroke="#f7f7f7" stroke-width="0.6"/>
<line x1="768.4" y1="1984.05" x2="1136.4" y2="1984.05" stroke="#f7f7f7" stroke-width="0.6"/>
<line x1="768.4" y1="1917.35" x2="1136.4" y2="1917.35" stroke="#f7f7f7" stroke-width="0.6"/>
<line x1="768.4" y1="1850.65" x2="1136.4" y2="1850.65" stroke="#f7f7f7" stroke-width="0.6"/>
<line x1="768.4" y1="2017.40" x2="1136.4" y2="2017.40" stroke="#fff" stroke-width="1.05"/>
<line x1="768.4" y1="1950.70" x2="1136.4" y2="1950.70" stroke="#fff" stroke-width="1.05"/>
<line x1="768.4" y1="1884.00" x2="1136.4" y2="1884.00" stroke="#fff" stroke-width="1.05"/>
<line x1="798.80" y1="1848.6" x2="798.80" y2="2077.8" stroke="#fff" stroke-width="1.05"/>
<line x1="849.90" y1="1848.6" x2="849.90" y2="2077.8" stroke="#fff" stroke-width="1.05"/>
<line x1="901.00" y1="1848.6" x2="901.00" y2="2077.8" stroke="#fff" stroke-width="1.05"/>
<line x1="952.10" y1="1848.6" x2="952.10" y2="2077.8" stroke="#fff" stroke-width="1.05"/>
<line x1="1003.20" y1="1848.6" x2="1003.20" y2="2077.8" stroke="#fff" stroke-width="1.05"/>
<line x1="1054.30" y1="1848.6" x2="1054.30" y2="2077.8" stroke="#fff" stroke-width="1.05"/>
<line x1="1105.40" y1="1848.6" x2="1105.40" y2="2077.8" stroke="#fff" stroke-width="1.05"/>
<line x1="763.4" y1="2017.40" x2="768.4" y2="2017.40" stroke="#111" stroke-width="2.8"/>
<text x="762.2" y="2024.50" text-anchor="end" font-family="'Liberation Sans', Arial, Helvetica, sans-serif" font-size="20">1000</text>
<line x1="763.4" y1="1950.70" x2="768.4" y2="1950.70" stroke="#111" stroke-width="2.8"/>
<text x="762.2" y="1957.80" text-anchor="end" font-family="'Liberation Sans', Arial, Helvetica, sans-serif" font-size="20">2000</text>
<line x1="763.4" y1="1884.00" x2="768.4" y2="1884.00" stroke="#111" stroke-width="2.8"/>
<text x="762.2" y="1891.10" text-anchor="end" font-family="'Liberation Sans', Arial, Helvetica, sans-serif" font-size="20">3000</text>
<line x1="798.80" y1="2077.8" x2="798.80" y2="2082.8" stroke="#111" stroke-width="2.8"/>
<line x1="849.90" y1="2077.8" x2="849.90" y2="2082.8" stroke="#111" stroke-width="2.8"/>
<line x1="901.00" y1="2077.8" x2="901.00" y2="2082.8" stroke="#111" stroke-width="2.8"/>
<line x1="952.10" y1="2077.8" x2="952.10" y2="2082.8" stroke="#111" stroke-width="2.8"/>
<line x1="1003.20" y1="2077.8" x2="1003.20" y2="2082.8" stroke="#111" stroke-width="2.8"/>
<line x1="1054.30" y1="2077.8" x2="1054.30" y2="2082.8" stroke="#111" stroke-width="2.8"/>
<line x1="1105.40" y1="2077.8" x2="1105.40" y2="2082.8" stroke="#111" stroke-width="2.8"/>
<polyline points="798.80,2044.75 849.90,2046.75 901.00,2005.39 952.10,1983.72 1003.20,1943.03 1054.30,1896.67 1105.40,1859.32" fill="none" stroke="#8a8fca" stroke-width="4.6" stroke-linejoin="round" stroke-linecap="round"/>
<polyline points="798.80,2058.22 849.90,2058.22 901.00,2067.42 952.10,2066.42 1003.20,2065.42 1054.30,2054.82 1105.40,2057.22" fill="none" stroke="#cd7845" stroke-width="4.6" stroke-linejoin="round" stroke-linecap="round"/>
<text x="951.0" y="1868.1" text-anchor="middle" font-family="'Liberation Sans', Arial, Helvetica, sans-serif" font-size="19.4"><tspan font-style="italic">P.hawaiensis</tspan> miR-71</text>
<text transform="translate(711.0,1963.2) rotate(-90)" text-anchor="middle" font-family="'Liberation Sans', Arial, Helvetica, sans-serif" font-size="19.9">RPM</text>
<text transform="translate(805.80,2086.3) rotate(-90)" text-anchor="end" font-family="'Liberation Sans', Arial, Helvetica, sans-serif" font-size="19.8">S1-4</text>
<text transform="translate(856.90,2086.3) rotate(-90)" text-anchor="end" font-family="'Liberation Sans', Arial, Helvetica, sans-serif" font-size="19.8">S5-6</text>
<text transform="translate(908.00,2086.3) rotate(-90)" text-anchor="end" font-family="'Liberation Sans', Arial, Helvetica, sans-serif" font-size="19.8">S7-11</text>
<text transform="translate(959.10,2086.3) rotate(-90)" text-anchor="end" font-family="'Liberation Sans', Arial, Helvetica, sans-serif" font-size="19.8">S14</text>
<text transform="translate(1010.20,2086.3) rotate(-90)" text-anchor="end" font-family="'Liberation Sans', Arial, Helvetica, sans-serif" font-size="19.8">S17</text>
<text transform="translate(1061.30,2086.3) rotate(-90)" text-anchor="end" font-family="'Liberation Sans', Arial, Helvetica, sans-serif" font-size="19.8">S21-23</text>
<text transform="translate(1112.40,2086.3) rotate(-90)" text-anchor="end" font-family="'Liberation Sans', Arial, Helvetica, sans-serif" font-size="19.8">S24-30</text>
<rect x="1227.4" y="1848.6" width="367.4" height="229.2" fill="#ebebeb"/>
<line x1="1227.4" y1="2035.05" x2="1594.8" y2="2035.05" stroke="#f7f7f7" stroke-width="0.6"/>
<line x1="1227.4" y1="1968.35" x2="1594.8" y2="1968.35" stroke="#f7f7f7" stroke-width="0.6"/>
<line x1="1227.4" y1="1901.65" x2="1594.8" y2="1901.65" stroke="#f7f7f7" stroke-width="0.6"/>
<line x1="1227.4" y1="2068.40" x2="1594.8" y2="2068.40" stroke="#fff" stroke-width="1.05"/>
<line x1="1227.4" y1="2001.70" x2="1594.8" y2="2001.70" stroke="#fff" stroke-width="1.05"/>
<line x1="1227.4" y1="1935.00" x2="1594.8" y2="1935.00" stroke="#fff" stroke-width="1.05"/>
<line x1="1227.4" y1="1868.30" x2="1594.8" y2="1868.30" stroke="#fff" stroke-width="1.05"/>
<line x1="1253.60" y1="1848.6" x2="1253.60" y2="2077.8" stroke="#fff" stroke-width="1.05"/>
<line x1="1298.50" y1="1848.6" x2="1298.50" y2="2077.8" stroke="#fff" stroke-width="1.05"/>
<line x1="1343.40" y1="1848.6" x2="1343.40" y2="2077.8" stroke="#fff" stroke-width="1.05"/>
<line x1="1388.30" y1="1848.6" x2="1388.30" y2="2077.8" stroke="#fff" stroke-width="1.05"/>
<line x1="1433.20" y1="1848.6" x2="1433.20" y2="2077.8" stroke="#fff" stroke-width="1.05"/>
<line x1="1478.10" y1="1848.6" x2="1478.10" y2="2077.8" stroke="#fff" stroke-width="1.05"/>
<line x1="1523.00" y1="1848.6" x2="1523.00" y2="2077.8" stroke="#fff" stroke-width="1.05"/>
<line x1="1567.90" y1="1848.6" x2="1567.90" y2="2077.8" stroke="#fff" stroke-width="1.05"/>
<line x1="1222.4" y1="2068.40" x2="1227.4" y2="2068.40" stroke="#111" stroke-width="2.8"/>
<text x="1221.2" y="2075.50" text-anchor="end" font-family="'Liberation Sans', Arial, Helvetica, sans-serif" font-size="20">0</text>
<line x1="1222.4" y1="2001.70" x2="1227.4" y2="2001.70" stroke="#111" stroke-width="2.8"/>
<text x="1221.2" y="2008.80" text-anchor="end" font-family="'Liberation Sans', Arial, Helvetica, sans-serif" font-size="20">10000</text>
<line x1="1222.4" y1="1935.00" x2="1227.4" y2="1935.00" stroke="#111" stroke-width="2.8"/>
<text x="1221.2" y="1942.10" text-anchor="end" font-family="'Liberation Sans', Arial, Helvetica, sans-serif" font-size="20">20000</text>
<line x1="1222.4" y1="1868.30" x2="1227.4" y2="1868.30" stroke="#111" stroke-width="2.8"/>
<text x="1221.2" y="1875.40" text-anchor="end" font-family="'Liberation Sans', Arial, Helvetica, sans-serif" font-size="20">30000</text>
<line x1="1253.60" y1="2077.8" x2="1253.60" y2="2082.8" stroke="#111" stroke-width="2.8"/>
<line x1="1298.50" y1="2077.8" x2="1298.50" y2="2082.8" stroke="#111" stroke-width="2.8"/>
<line x1="1343.40" y1="2077.8" x2="1343.40" y2="2082.8" stroke="#111" stroke-width="2.8"/>
<line x1="1388.30" y1="2077.8" x2="1388.30" y2="2082.8" stroke="#111" stroke-width="2.8"/>
<line x1="1433.20" y1="2077.8" x2="1433.20" y2="2082.8" stroke="#111" stroke-width="2.8"/>
<line x1="1478.10" y1="2077.8" x2="1478.10" y2="2082.8" stroke="#111" stroke-width="2.8"/>
<line x1="1523.00" y1="2077.8" x2="1523.00" y2="2082.8" stroke="#111" stroke-width="2.8"/>
<line x1="1567.90" y1="2077.8" x2="1567.90" y2="2082.8" stroke="#111" stroke-width="2.8"/>
<polyline points="1253.60,2068.40 1298.50,2068.40 1343.40,2068.07 1388.30,2068.07 1433.20,2067.40 1478.10,2065.73 1523.00,2065.07 1567.90,2060.20" fill="none" stroke="#8a8fca" stroke-width="4.6" stroke-linejoin="round" stroke-linecap="round"/>
<polyline points="1253.60,2022.60 1298.50,2044.79 1343.40,2042.92 1388.30,2047.12 1433.20,2019.31 1478.10,2001.40 1523.00,1982.42 1567.90,1859.23" fill="none" stroke="#cd7845" stroke-width="4.6" stroke-linejoin="round" stroke-linecap="round"/>
<text x="1410.0" y="1868.1" text-anchor="middle" font-family="'Liberation Sans', Arial, Helvetica, sans-serif" font-size="19.4"><tspan font-style="italic">T.castaneum</tspan> miR-71</text>
<text transform="translate(1161.0,1963.2) rotate(-90)" text-anchor="middle" font-family="'Liberation Sans', Arial, Helvetica, sans-serif" font-size="19.9">RPM</text>
<text transform="translate(1264.10,2097.5) rotate(-45)" text-anchor="end" font-family="'Liberation Sans', Arial, Helvetica, sans-serif" font-size="19.8">oocytes</text>
<text transform="translate(1309.00,2097.5) rotate(-45)" text-anchor="end" font-family="'Liberation Sans', Arial, Helvetica, sans-serif" font-size="19.8">E 0-5 hr</text>
<text transform="translate(1353.90,2097.5) rotate(-45)" text-anchor="end" font-family="'Liberation Sans', Arial, Helvetica, sans-serif" font-size="19.8">E 8-16 hr</text>
<text transform="translate(1398.80,2097.5) rotate(-45)" text-anchor="end" font-family="'Liberation Sans', Arial, Helvetica, sans-serif" font-size="19.8">E 16-20 hr</text>
<text transform="translate(1443.70,2097.5) rotate(-45)" text-anchor="end" font-family="'Liberation Sans', Arial, Helvetica, sans-serif" font-size="19.8">E 20-24 hr</text>
<text transform="translate(1488.60,2097.5) rotate(-45)" text-anchor="end" font-family="'Liberation Sans', Arial, Helvetica, sans-serif" font-size="19.8">E 24-34 hr</text>
<text transform="translate(1533.50,2097.5) rotate(-45)" text-anchor="end" font-family="'Liberation Sans', Arial, Helvetica, sans-serif" font-size="19.8">E 34-48 hr</text>
<text transform="translate(1578.40,2097.5) rotate(-45)" text-anchor="end" font-family="'Liberation Sans', Arial, Helvetica, sans-serif" font-size="19.8">E 48-144 hr</text>
<rect x="769.0" y="2181.6" width="366.3" height="228.9" fill="#ebebeb"/>
<line x1="769.0" y1="2370.25" x2="1135.3" y2="2370.25" stroke="#f7f7f7" stroke-width="0.6"/>
<line x1="769.0" y1="2309.35" x2="1135.3" y2="2309.35" stroke="#f7f7f7" stroke-width="0.6"/>
<line x1="769.0" y1="2248.45" x2="1135.3" y2="2248.45" stroke="#f7f7f7" stroke-width="0.6"/>
<line x1="769.0" y1="2187.55" x2="1135.3" y2="2187.55" stroke="#f7f7f7" stroke-width="0.6"/>
<line x1="769.0" y1="2400.70" x2="1135.3" y2="2400.70" stroke="#fff" stroke-width="1.05"/>
<line x1="769.0" y1="2339.80" x2="1135.3" y2="2339.80" stroke="#fff" stroke-width="1.05"/>
<line x1="769.0" y1="2278.90" x2="1135.3" y2="2278.90" stroke="#fff" stroke-width="1.05"/>
<line x1="769.0" y1="2218.00" x2="1135.3" y2="2218.00" stroke="#fff" stroke-width="1.05"/>
<line x1="790.50" y1="2181.6" x2="790.50" y2="2410.5" stroke="#fff" stroke-width="1.05"/>
<line x1="826.40" y1="2181.6" x2="826.40" y2="2410.5" stroke="#fff" stroke-width="1.05"/>
<line x1="862.30" y1="2181.6" x2="862.30" y2="2410.5" stroke="#fff" stroke-width="1.05"/>
<line x1="898.20" y1="2181.6" x2="898.20" y2="2410.5" stroke="#fff" stroke-width="1.05"/>
<line x1="934.10" y1="2181.6" x2="934.10" y2="2410.5" stroke="#fff" stroke-width="1.05"/>
<line x1="970.00" y1="2181.6" x2="970.00" y2="2410.5" stroke="#fff" stroke-width="1.05"/>
<line x1="1005.90" y1="2181.6" x2="1005.90" y2="2410.5" stroke="#fff" stroke-width="1.05"/>
<line x1="1041.80" y1="2181.6" x2="1041.80" y2="2410.5" stroke="#fff" stroke-width="1.05"/>
<line x1="1077.70" y1="2181.6" x2="1077.70" y2="2410.5" stroke="#fff" stroke-width="1.05"/>
<line x1="1113.60" y1="2181.6" x2="1113.60" y2="2410.5" stroke="#fff" stroke-width="1.05"/>
<line x1="764.0" y1="2400.70" x2="769.0" y2="2400.70" stroke="#111" stroke-width="2.8"/>
<text x="762.8" y="2407.80" text-anchor="end" font-family="'Liberation Sans', Arial, Helvetica, sans-serif" font-size="20">0</text>
<line x1="764.0" y1="2339.80" x2="769.0" y2="2339.80" stroke="#111" stroke-width="2.8"/>
<text x="762.8" y="2346.90" text-anchor="end" font-family="'Liberation Sans', Arial, Helvetica, sans-serif" font-size="20">2500</text>
<line x1="764.0" y1="2278.90" x2="769.0" y2="2278.90" stroke="#111" stroke-width="2.8"/>
<text x="762.8" y="2286.00" text-anchor="end" font-family="'Liberation Sans', Arial, Helvetica, sans-serif" font-size="20">5000</text>
<line x1="764.0" y1="2218.00" x2="769.0" y2="2218.00" stroke="#111" stroke-width="2.8"/>
<text x="762.8" y="2225.10" text-anchor="end" font-family="'Liberation Sans', Arial, Helvetica, sans-serif" font-size="20">7500</text>
<line x1="790.50" y1="2410.5" x2="790.50" y2="2415.5" stroke="#111" stroke-width="2.8"/>
<line x1="826.40" y1="2410.5" x2="826.40" y2="2415.5" stroke="#111" stroke-width="2.8"/>
<line x1="862.30" y1="2410.5" x2="862.30" y2="2415.5" stroke="#111" stroke-width="2.8"/>
<line x1="898.20" y1="2410.5" x2="898.20" y2="2415.5" stroke="#111" stroke-width="2.8"/>
<line x1="934.10" y1="2410.5" x2="934.10" y2="2415.5" stroke="#111" stroke-width="2.8"/>
<line x1="970.00" y1="2410.5" x2="970.00" y2="2415.5" stroke="#111" stroke-width="2.8"/>
<line x1="1005.90" y1="2410.5" x2="1005.90" y2="2415.5" stroke="#111" stroke-width="2.8"/>
<line x1="1041.80" y1="2410.5" x2="1041.80" y2="2415.5" stroke="#111" stroke-width="2.8"/>
<line x1="1077.70" y1="2410.5" x2="1077.70" y2="2415.5" stroke="#111" stroke-width="2.8"/>
<line x1="1113.60" y1="2410.5" x2="1113.60" y2="2415.5" stroke="#111" stroke-width="2.8"/>
<polyline points="790.50,2400.70 826.40,2400.70 862.30,2400.70 898.20,2400.21 934.10,2400.21 970.00,2399.48 1005.90,2395.71 1041.80,2397.70 1077.70,2379.09 1113.60,2374.51" fill="none" stroke="#8a8fca" stroke-width="4.6" stroke-linejoin="round" stroke-linecap="round"/>
<polyline points="790.50,2376.22 826.40,2365.21 862.30,2337.71 898.20,2327.79 934.10,2328.81 970.00,2284.11 1005.90,2243.41 1041.80,2286.79 1077.70,2192.01 1113.60,2244.41" fill="none" stroke="#cd7845" stroke-width="4.6" stroke-linejoin="round" stroke-linecap="round"/>
<text x="951.5" y="2201.1" text-anchor="middle" font-family="'Liberation Sans', Arial, Helvetica, sans-serif" font-size="19.4"><tspan font-style="italic">P.tepidariorum</tspan> miR-71</text>
<text transform="translate(711.0,2296.1) rotate(-90)" text-anchor="middle" font-family="'Liberation Sans', Arial, Helvetica, sans-serif" font-size="19.9">RPM</text>
<text x="790.50" y="2434.4" text-anchor="middle" font-family="'Liberation Sans', Arial, Helvetica, sans-serif" font-size="19.8">S1</text>
<text x="826.40" y="2434.4" text-anchor="middle" font-family="'Liberation Sans', Arial, Helvetica, sans-serif" font-size="19.8">S2</text>
<text x="862.30" y="2434.4" text-anchor="middle" font-family="'Liberation Sans', Arial, Helvetica, sans-serif" font-size="19.8">S3</text>
<text x="898.20" y="2434.4" text-anchor="middle" font-family="'Liberation Sans', Arial, Helvetica, sans-serif" font-size="19.8">S4</text>
<text x="934.10" y="2434.4" text-anchor="middle" font-family="'Liberation Sans', Arial, Helvetica, sans-serif" font-size="19.8">S5</text>
<text x="970.00" y="2434.4" text-anchor="middle" font-family="'Liberation Sans', Arial, Helvetica, sans-serif" font-size="19.8">S6</text>
<text x="1005.90" y="2434.4" text-anchor="middle" font-family="'Liberation Sans', Arial, Helvetica, sans-serif" font-size="19.8">S7</text>
<text x="1041.80" y="2434.4" text-anchor="middle" font-family="'Liberation Sans', Arial, Helvetica, sans-serif" font-size="19.8">S8</text>
<text x="1077.70" y="2434.4" text-anchor="middle" font-family="'Liberation Sans', Arial, Helvetica, sans-serif" font-size="19.8">S9</text>
<text x="1113.60" y="2434.4" text-anchor="middle" font-family="'Liberation Sans', Arial, Helvetica, sans-serif" font-size="19.8">S10</text>
<text x="951.0" y="2472.9" text-anchor="middle" font-family="'Liberation Sans', Arial, Helvetica, sans-serif" font-size="19.6">Developmental time</text>
<rect x="1227.4" y="2181.6" width="367.4" height="228.9" fill="#ebebeb"/>
<line x1="1227.4" y1="2378.15" x2="1594.8" y2="2378.15" stroke="#f7f7f7" stroke-width="0.6"/>
<line x1="1227.4" y1="2323.45" x2="1594.8" y2="2323.45" stroke="#f7f7f7" stroke-width="0.6"/>
<line x1="1227.4" y1="2268.75" x2="1594.8" y2="2268.75" stroke="#f7f7f7" stroke-width="0.6"/>
<line x1="1227.4" y1="2214.05" x2="1594.8" y2="2214.05" stroke="#f7f7f7" stroke-width="0.6"/>
<line x1="1227.4" y1="2405.50" x2="1594.8" y2="2405.50" stroke="#fff" stroke-width="1.05"/>
<line x1="1227.4" y1="2350.80" x2="1594.8" y2="2350.80" stroke="#fff" stroke-width="1.05"/>
<line x1="1227.4" y1="2296.10" x2="1594.8" y2="2296.10" stroke="#fff" stroke-width="1.05"/>
<line x1="1227.4" y1="2241.40" x2="1594.8" y2="2241.40" stroke="#fff" stroke-width="1.05"/>
<line x1="1227.4" y1="2186.70" x2="1594.8" y2="2186.70" stroke="#fff" stroke-width="1.05"/>
<line x1="1279.70" y1="2181.6" x2="1279.70" y2="2410.5" stroke="#fff" stroke-width="1.05"/>
<line x1="1367.00" y1="2181.6" x2="1367.00" y2="2410.5" stroke="#fff" stroke-width="1.05"/>
<line x1="1454.30" y1="2181.6" x2="1454.30" y2="2410.5" stroke="#fff" stroke-width="1.05"/>
<line x1="1541.60" y1="2181.6" x2="1541.60" y2="2410.5" stroke="#fff" stroke-width="1.05"/>
<line x1="1222.4" y1="2405.50" x2="1227.4" y2="2405.50" stroke="#111" stroke-width="2.8"/>
<text x="1221.2" y="2412.60" text-anchor="end" font-family="'Liberation Sans', Arial, Helvetica, sans-serif" font-size="20">0</text>
<line x1="1222.4" y1="2350.80" x2="1227.4" y2="2350.80" stroke="#111" stroke-width="2.8"/>
<text x="1221.2" y="2357.90" text-anchor="end" font-family="'Liberation Sans', Arial, Helvetica, sans-serif" font-size="20">10000</text>
<line x1="1222.4" y1="2296.10" x2="1227.4" y2="2296.10" stroke="#111" stroke-width="2.8"/>
<text x="1221.2" y="2303.20" text-anchor="end" font-family="'Liberation Sans', Arial, Helvetica, sans-serif" font-size="20">20000</text>
<line x1="1222.4" y1="2241.40" x2="1227.4" y2="2241.40" stroke="#111" stroke-width="2.8"/>
<text x="1221.2" y="2248.50" text-anchor="end" font-family="'Liberation Sans', Arial, Helvetica, sans-serif" font-size="20">30000</text>
<line x1="1222.4" y1="2186.70" x2="1227.4" y2="2186.70" stroke="#111" stroke-width="2.8"/>
<text x="1221.2" y="2193.80" text-anchor="end" font-family="'Liberation Sans', Arial, Helvetica, sans-serif" font-size="20">40000</text>
<line x1="1279.70" y1="2410.5" x2="1279.70" y2="2415.5" stroke="#111" stroke-width="2.8"/>
<line x1="1367.00" y1="2410.5" x2="1367.00" y2="2415.5" stroke="#111" stroke-width="2.8"/>
<line x1="1454.30" y1="2410.5" x2="1454.30" y2="2415.5" stroke="#111" stroke-width="2.8"/>
<line x1="1541.60" y1="2410.5" x2="1541.60" y2="2415.5" stroke="#111" stroke-width="2.8"/>
<polyline points="1279.70,2374.50 1367.00,2363.00 1454.30,2358.18 1541.60,2400.69" fill="none" stroke="#8a8fca" stroke-width="4.6" stroke-linejoin="round" stroke-linecap="round"/>
<polyline points="1279.70,2294.80 1367.00,2192.50 1454.30,2294.46 1541.60,2393.30" fill="none" stroke="#cd7845" stroke-width="4.6" stroke-linejoin="round" stroke-linecap="round"/>
<text x="1466.0" y="2201.1" text-anchor="middle" font-family="'Liberation Sans', Arial, Helvetica, sans-serif" font-size="19.4"><tspan font-style="italic">A.mellifera</tspan> miR-71</text>
<text transform="translate(1161.0,2296.1) rotate(-90)" text-anchor="middle" font-family="'Liberation Sans', Arial, Helvetica, sans-serif" font-size="19.9">RPM</text>
<text x="1279.70" y="2432.8" text-anchor="middle" font-family="'Liberation Sans', Arial, Helvetica, sans-serif" font-size="19.8">mature</text>
<text x="1367.00" y="2432.8" text-anchor="middle" font-family="'Liberation Sans', Arial, Helvetica, sans-serif" font-size="19.8">0-2 hr</text>
<text x="1454.30" y="2432.8" text-anchor="middle" font-family="'Liberation Sans', Arial, Helvetica, sans-serif" font-size="19.8">0-6 hr</text>
<text x="1541.60" y="2432.8" text-anchor="middle" font-family="'Liberation Sans', Arial, Helvetica, sans-serif" font-size="19.8">18-24 hr</text>
<text x="1279.70" y="2453.2" text-anchor="middle" font-family="'Liberation Sans', Arial, Helvetica, sans-serif" font-size="19.8">oocyte</text>
<text x="1410.5" y="2473.5" text-anchor="middle" font-family="'Liberation Sans', Arial, Helvetica, sans-serif" font-size="19.6">Developmental time</text>
<rect x="624.7" y="2118.2" width="46.4" height="7.6" fill="#8790c8"/>
<rect x="624.7" y="2148.9" width="46.4" height="7.9" fill="#d08030"/>
<text x="680" y="2130.8" font-family="'Liberation Sans', Arial, Helvetica, sans-serif" font-size="25.4">5p</text>
<text x="680" y="2161.2" font-family="'Liberation Sans', Arial, Helvetica, sans-serif" font-size="25.4">3p</text>
</svg>
</body></html>
